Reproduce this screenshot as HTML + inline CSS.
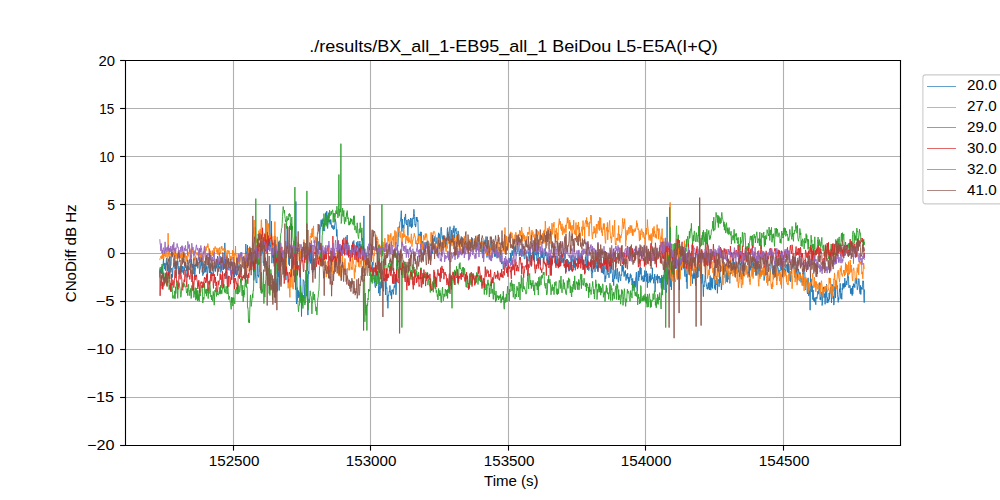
<!DOCTYPE html>
<html><head><meta charset="utf-8"><style>
html,body{margin:0;padding:0;background:#fff;width:1000px;height:500px;overflow:hidden}
svg{display:block}
text{font-family:'Liberation Sans',sans-serif;fill:#000}
</style></head><body>
<svg width="1000" height="500" viewBox="0 0 1000 500">
<rect width="1000" height="500" fill="#fff"/>
<g stroke="#b0b0b0" stroke-width="1.11" fill="none"><line x1="233.5" y1="60" x2="233.5" y2="445" /><line x1="370.5" y1="60" x2="370.5" y2="445" /><line x1="508.5" y1="60" x2="508.5" y2="445" /><line x1="645.5" y1="60" x2="645.5" y2="445" /><line x1="783.5" y1="60" x2="783.5" y2="445" /><line x1="125" y1="60.5" x2="900" y2="60.5" /><line x1="125" y1="108.5" x2="900" y2="108.5" /><line x1="125" y1="156.5" x2="900" y2="156.5" /><line x1="125" y1="204.5" x2="900" y2="204.5" /><line x1="125" y1="253.5" x2="900" y2="253.5" /><line x1="125" y1="301.5" x2="900" y2="301.5" /><line x1="125" y1="349.5" x2="900" y2="349.5" /><line x1="125" y1="397.5" x2="900" y2="397.5" /><line x1="125" y1="445.5" x2="900" y2="445.5" /></g>
<defs><clipPath id="ax"><rect x="125" y="60" width="775" height="385"/></clipPath></defs>
<g fill="none" stroke-width="0.9" stroke-linejoin="round" stroke-linecap="butt" clip-path="url(#ax)">
<path d="M159.8 271.5 L160.1 268.5 L160.5 272.7 L160.8 269.3 L161.1 273.4 L161.5 267.3 L161.8 274.3 L162.1 266.0 L162.5 268.5 L162.8 273.8 L163.1 263.9 L163.5 258.6 L163.8 265.5 L164.1 263.1 L164.5 269.0 L164.8 269.1 L165.1 263.2 L165.5 270.6 L165.8 266.0 L166.1 263.3 L166.5 258.0 L166.8 264.9 L167.1 262.5 L167.5 270.9 L167.8 270.0 L168.1 264.5 L168.5 270.5 L168.8 274.0 L169.1 263.2 L169.5 256.4 L169.8 257.8 L170.1 256.4 L170.5 265.5 L170.8 272.4 L171.1 270.8 L171.5 269.0 L171.8 268.0 L172.1 269.2 L172.5 277.5 L172.8 270.8 L173.1 266.9 L173.5 266.9 L173.8 263.2 L174.1 262.6 L174.5 263.6 L174.8 268.7 L175.1 269.3 L175.5 262.0 L175.8 268.5 L176.1 261.4 L176.5 265.5 L176.8 268.8 L177.1 266.2 L177.5 265.6 L177.8 261.1 L178.1 265.5 L178.5 266.0 L178.8 274.1 L179.1 268.1 L179.5 267.9 L179.8 269.7 L180.1 266.0 L180.5 272.5 L180.8 268.4 L181.1 270.0 L181.5 271.8 L181.8 265.8 L182.1 268.8 L182.5 266.3 L182.8 272.5 L183.1 270.1 L183.5 274.4 L183.8 266.5 L184.1 267.6 L184.5 270.5 L184.8 267.7 L185.1 261.5 L185.5 266.2 L185.8 265.4 L186.1 266.4 L186.5 270.5 L186.8 268.8 L187.1 277.5 L187.5 265.7 L187.8 269.4 L188.1 266.2 L188.5 269.7 L188.8 266.9 L189.1 262.4 L189.5 259.3 L189.8 263.0 L190.1 263.2 L190.5 260.6 L190.8 258.0 L191.1 259.9 L191.5 263.7 L191.8 263.5 L192.2 268.0 L192.5 267.5 L192.8 264.0 L193.2 270.7 L193.5 272.7 L193.8 274.1 L194.2 264.8 L194.5 271.3 L194.8 277.5 L195.2 272.2 L195.5 267.5 L195.8 264.7 L196.2 266.5 L196.5 258.5 L196.8 257.7 L197.2 266.3 L197.5 264.1 L197.8 259.6 L198.2 259.3 L198.5 257.2 L198.8 257.0 L199.2 260.3 L199.5 273.7 L199.8 269.5 L200.2 269.5 L200.5 267.1 L200.8 261.6 L201.2 260.1 L201.5 263.9 L201.8 265.7 L202.2 257.9 L202.5 268.5 L202.8 275.6 L203.2 272.7 L203.5 273.7 L203.8 267.7 L204.2 263.9 L204.5 270.3 L204.8 272.7 L205.2 269.0 L205.5 268.3 L205.8 272.0 L206.2 265.4 L206.5 269.3 L206.8 266.7 L207.2 277.9 L207.5 275.6 L207.8 269.9 L208.2 264.2 L208.5 265.3 L208.8 266.7 L209.2 269.8 L209.5 273.0 L209.8 267.6 L210.2 263.2 L210.5 273.5 L210.8 270.3 L211.2 266.1 L211.5 266.1 L211.8 264.3 L212.2 267.4 L212.5 266.2 L212.8 271.1 L213.2 273.7 L213.5 276.0 L213.8 267.7 L214.2 265.8 L214.5 266.0 L214.8 269.4 L215.2 271.3 L215.5 270.2 L215.8 266.1 L216.2 262.1 L216.5 268.2 L216.8 266.9 L217.2 263.3 L217.5 256.1 L217.8 259.9 L218.2 261.1 L218.5 267.5 L218.8 264.5 L219.2 261.2 L219.5 264.8 L219.8 260.8 L220.2 262.8 L220.5 256.5 L220.8 272.6 L221.2 266.5 L221.5 262.9 L221.8 270.6 L222.2 257.5 L222.5 262.1 L222.8 264.9 L223.2 269.8 L223.5 265.5 L223.8 266.0 L224.2 268.9 L224.5 265.7 L224.8 242.9 L225.2 260.1 L225.5 262.5 L225.8 268.3 L226.2 270.3 L226.5 277.3 L226.8 278.7 L227.2 269.0 L227.5 267.5 L227.8 268.4 L228.2 270.1 L228.5 258.9 L228.8 262.0 L229.2 261.9 L229.5 264.0 L229.8 265.3 L230.2 261.8 L230.5 264.9 L230.8 273.2 L231.2 270.0 L231.5 275.5 L231.8 271.1 L232.2 271.2 L232.5 268.1 L232.8 265.8 L233.2 262.3 L233.5 272.6 L233.8 273.5 L234.2 268.9 L234.5 277.1 L234.8 264.6 L235.2 271.1 L235.5 266.7 L235.8 272.8 L236.2 270.5 L236.5 275.6 L236.8 270.4 L237.2 259.5 L237.5 262.6 L237.8 257.6 L238.2 264.4 L238.5 270.6 L238.8 268.8 L239.2 266.8 L239.5 264.6 L239.8 262.0 L240.2 260.0 L240.5 255.8 L240.8 252.8 L241.2 252.2 L241.5 258.9 L241.8 258.9 L242.2 264.2 L242.5 261.6 L242.8 260.5 L243.2 257.1 L243.5 260.8 L243.8 258.6 L244.2 261.3 L244.5 268.1 L244.8 259.3 L245.2 268.6 L245.5 254.1 L245.8 244.0 L246.2 250.4 L246.5 251.5 L246.8 257.1 L247.2 261.1 L247.5 245.3 L247.8 254.4 L248.2 257.6 L248.5 265.7 L248.8 261.1 L249.2 262.8 L249.5 256.8 L249.8 253.6 L250.2 256.0 L250.5 262.4 L250.8 259.9 L251.2 248.0 L251.5 264.1 L251.8 262.6 L252.2 256.7 L252.5 264.0 L252.8 261.2 L253.2 265.7 L253.5 252.7 L253.8 280.4 L254.2 275.7 L254.5 263.8 L254.8 266.3 L255.2 263.2 L255.5 275.0 L255.8 279.7 L256.2 282.7 L256.5 282.2 L256.9 283.0 L257.2 259.2 L257.5 265.9 L257.9 276.0 L258.2 275.1 L258.5 277.3 L258.9 273.7 L259.2 262.1 L259.5 264.2 L259.9 243.7 L260.2 247.0 L260.5 252.1 L260.9 249.9 L261.2 236.8 L261.5 244.7 L261.9 246.8 L262.2 252.8 L262.5 244.1 L262.9 247.9 L263.2 262.6 L263.5 261.6 L263.9 265.9 L264.2 260.2 L264.5 251.1 L264.9 267.6 L265.2 235.0 L265.5 251.3 L265.9 219.0 L266.2 236.6 L266.5 238.4 L266.9 234.7 L267.2 235.8 L267.5 235.0 L267.9 249.1 L268.2 240.5 L268.5 245.8 L268.9 241.3 L269.2 245.8 L269.5 246.0 L269.9 204.4 L270.2 246.9 L270.5 247.1 L270.9 244.4 L271.2 242.8 L271.5 221.1 L271.9 263.2 L272.2 248.3 L272.5 248.0 L272.9 257.7 L273.2 255.2 L273.5 254.8 L273.9 263.3 L274.2 260.2 L274.5 260.9 L274.9 235.9 L275.2 293.1 L275.5 248.7 L275.9 274.5 L276.2 292.4 L276.5 287.4 L276.9 280.7 L277.2 278.7 L277.5 291.3 L277.9 272.1 L278.2 276.9 L278.5 242.1 L278.9 267.1 L279.2 290.5 L279.5 253.2 L279.9 256.8 L280.2 265.5 L280.5 249.2 L280.9 266.4 L281.2 260.6 L281.5 254.1 L281.9 260.6 L282.2 260.5 L282.5 258.9 L282.9 264.8 L283.2 264.0 L283.5 257.5 L283.9 250.5 L284.2 254.7 L284.5 270.4 L284.9 272.6 L285.2 266.3 L285.5 268.8 L285.9 280.1 L286.2 257.7 L286.5 255.9 L286.9 241.6 L287.2 226.0 L287.5 239.4 L287.9 241.0 L288.2 249.8 L288.5 259.3 L288.9 264.6 L289.2 255.6 L289.5 266.0 L289.9 252.7 L290.2 252.8 L290.5 257.4 L290.9 254.3 L291.2 257.6 L291.5 255.4 L291.9 251.4 L292.2 261.2 L292.5 254.9 L292.9 267.8 L293.2 254.5 L293.5 258.5 L293.9 267.3 L294.2 272.0 L294.5 270.2 L294.9 277.5 L295.2 260.0 L295.5 289.7 L295.9 201.5 L296.2 297.0 L296.5 304.0 L296.9 299.1 L297.2 287.6 L297.5 296.0 L297.9 295.4 L298.2 298.0 L298.5 290.5 L298.9 296.6 L299.2 294.4 L299.5 296.6 L299.9 297.1 L300.2 273.0 L300.5 275.6 L300.9 286.8 L301.2 294.0 L301.5 316.5 L301.9 294.4 L302.2 297.8 L302.5 294.8 L302.9 293.1 L303.2 279.6 L303.5 280.7 L303.9 280.6 L304.2 281.8 L304.5 294.0 L304.9 298.5 L305.2 287.3 L305.5 283.4 L305.9 270.0 L306.2 275.7 L306.5 279.8 L306.9 288.4 L307.2 274.4 L307.5 279.1 L307.9 315.1 L308.2 279.3 L308.5 271.2 L308.9 273.9 L309.2 257.2 L309.5 259.1 L309.9 261.4 L310.2 248.0 L310.5 263.4 L310.9 259.4 L311.2 261.1 L311.5 254.9 L311.9 251.2 L312.2 265.1 L312.5 272.8 L312.9 269.2 L313.2 254.8 L313.5 270.3 L313.9 267.8 L314.2 269.9 L314.5 261.6 L314.9 260.1 L315.2 258.6 L315.5 257.7 L315.9 256.6 L316.2 248.8 L316.5 241.3 L316.9 249.1 L317.2 237.6 L317.5 240.0 L317.9 251.4 L318.2 254.0 L318.5 241.5 L318.9 242.9 L319.2 250.3 L319.5 244.5 L319.9 234.4 L320.2 228.6 L320.6 228.8 L320.9 221.9 L321.2 219.7 L321.6 226.5 L321.9 221.1 L322.2 220.5 L322.6 223.8 L322.9 218.6 L323.2 231.1 L323.6 223.3 L323.9 228.2 L324.2 230.4 L324.6 231.1 L324.9 220.3 L325.2 218.3 L325.6 212.7 L325.9 225.2 L326.2 222.3 L326.6 211.3 L326.9 211.2 L327.2 216.5 L327.6 228.5 L327.9 225.8 L328.2 222.6 L328.6 215.5 L328.9 212.6 L329.2 218.7 L329.6 222.2 L329.9 220.2 L330.2 224.4 L330.6 219.4 L330.9 219.7 L331.2 222.8 L331.6 227.4 L331.9 227.2 L332.2 225.2 L332.6 228.4 L332.9 227.7 L333.2 228.9 L333.6 229.6 L333.9 225.5 L334.2 229.1 L334.6 225.4 L334.9 224.1 L335.2 219.2 L335.6 221.1 L335.9 222.1 L336.2 226.1 L336.6 236.3 L336.9 229.4 L337.2 234.9 L337.6 245.3 L337.9 248.9 L338.2 242.2 L338.6 247.8 L338.9 246.0 L339.2 246.2 L339.6 252.8 L339.9 252.4 L340.2 254.5 L340.6 251.4 L340.9 251.2 L341.2 245.3 L341.6 250.0 L341.9 256.0 L342.2 255.7 L342.6 250.3 L342.9 246.7 L343.2 250.1 L343.6 251.7 L343.9 253.6 L344.2 243.7 L344.6 250.7 L344.9 246.0 L345.2 247.3 L345.6 243.7 L345.9 236.8 L346.2 249.1 L346.6 243.0 L346.9 243.3 L347.2 235.0 L347.6 244.5 L347.9 242.6 L348.2 245.0 L348.6 247.7 L348.9 252.1 L349.2 251.1 L349.6 250.3 L349.9 253.0 L350.2 250.1 L350.6 253.1 L350.9 251.7 L351.2 253.4 L351.6 251.9 L351.9 251.7 L352.2 254.3 L352.6 247.6 L352.9 241.6 L353.2 244.1 L353.6 241.6 L353.9 240.5 L354.2 248.6 L354.6 251.4 L354.9 252.1 L355.2 254.8 L355.6 253.2 L355.9 245.9 L356.2 250.1 L356.6 242.3 L356.9 244.1 L357.2 245.2 L357.6 247.8 L357.9 241.1 L358.2 245.2 L358.6 252.0 L358.9 254.2 L359.2 243.9 L359.6 246.2 L359.9 241.0 L360.2 253.4 L360.6 248.9 L360.9 244.3 L361.2 247.7 L361.6 246.3 L361.9 251.0 L362.2 241.2 L362.6 238.0 L362.9 245.2 L363.2 249.6 L363.6 252.6 L363.9 215.9 L364.2 261.4 L364.6 254.0 L364.9 248.7 L365.2 254.4 L365.6 257.3 L365.9 254.6 L366.2 252.7 L366.6 259.7 L366.9 265.3 L367.2 266.4 L367.6 272.8 L367.9 270.3 L368.2 265.4 L368.6 266.4 L368.9 260.8 L369.2 253.7 L369.6 257.1 L369.9 276.0 L370.2 261.9 L370.6 264.7 L370.9 264.4 L371.2 265.6 L371.6 266.8 L371.9 271.7 L372.2 266.1 L372.6 262.0 L372.9 270.6 L373.2 272.7 L373.6 268.2 L373.9 274.3 L374.2 282.6 L374.6 281.4 L374.9 284.7 L375.2 287.2 L375.6 287.8 L375.9 280.3 L376.2 275.1 L376.6 271.5 L376.9 276.2 L377.2 273.5 L377.6 271.5 L377.9 275.2 L378.2 274.4 L378.6 293.2 L378.9 291.9 L379.2 287.5 L379.6 286.2 L379.9 296.0 L380.2 290.5 L380.6 286.7 L380.9 281.7 L381.2 288.3 L381.6 276.6 L381.9 287.3 L382.2 280.1 L382.6 286.0 L382.9 286.1 L383.2 289.8 L383.6 291.3 L383.9 282.0 L384.3 280.8 L384.6 277.9 L384.9 279.2 L385.3 281.0 L385.6 295.0 L385.9 276.8 L386.3 287.1 L386.6 288.6 L386.9 287.6 L387.3 300.7 L387.6 295.7 L387.9 308.3 L388.3 295.2 L388.6 295.9 L388.9 293.6 L389.3 291.0 L389.6 292.1 L389.9 285.5 L390.3 290.7 L390.6 292.0 L390.9 295.4 L391.3 292.0 L391.6 299.1 L391.9 289.8 L392.3 291.6 L392.6 290.7 L392.9 289.5 L393.3 294.4 L393.6 291.3 L393.9 288.0 L394.3 285.6 L394.6 287.5 L394.9 284.6 L395.3 278.2 L395.6 284.3 L395.9 294.8 L396.3 290.7 L396.6 272.3 L396.9 263.5 L397.3 265.6 L397.6 244.8 L397.9 246.3 L398.3 237.7 L398.6 232.1 L398.9 230.7 L399.3 226.5 L399.6 227.4 L399.9 221.7 L400.3 221.5 L400.6 220.2 L400.9 216.3 L401.3 210.7 L401.6 220.9 L401.9 231.6 L402.3 219.0 L402.6 228.1 L402.9 227.2 L403.3 224.9 L403.6 227.2 L403.9 228.5 L404.3 223.1 L404.6 217.3 L404.9 220.3 L405.3 215.4 L405.6 213.9 L405.9 223.9 L406.3 224.1 L406.6 225.1 L406.9 220.0 L407.3 223.6 L407.6 225.4 L407.9 235.4 L408.3 219.2 L408.6 220.0 L408.9 219.9 L409.3 220.3 L409.6 224.8 L409.9 226.7 L410.3 219.9 L410.6 218.0 L410.9 226.4 L411.3 224.2 L411.6 228.1 L411.9 218.6 L412.3 226.7 L412.6 226.0 L412.9 217.8 L413.3 219.0 L413.6 213.9 L413.9 209.3 L414.3 213.8 L414.6 216.6 L414.9 225.2 L415.3 224.2 L415.6 227.1 L415.9 225.7 L416.3 217.0 L416.6 220.6 L416.9 217.0 L417.3 218.7 L417.6 221.8 L417.9 220.2 L418.3 235.5 L418.6 240.8 L418.9 234.2 L419.3 234.8 L419.6 234.3 L419.9 236.0 L420.3 231.8 L420.6 232.7 L420.9 237.9 L421.3 231.9 L421.6 246.2 L421.9 245.9 L422.3 243.3 L422.6 241.1 L422.9 244.1 L423.3 255.9 L423.6 252.4 L423.9 242.3 L424.3 244.0 L424.6 246.6 L424.9 251.9 L425.3 247.3 L425.6 245.0 L425.9 242.0 L426.3 242.1 L426.6 245.6 L426.9 241.8 L427.3 242.1 L427.6 242.4 L427.9 241.7 L428.3 249.3 L428.6 248.0 L428.9 246.2 L429.3 245.4 L429.6 244.2 L429.9 243.6 L430.3 246.3 L430.6 244.4 L430.9 243.5 L431.3 243.9 L431.6 246.4 L431.9 241.3 L432.3 245.8 L432.6 253.6 L432.9 244.6 L433.3 247.2 L433.6 238.5 L433.9 239.6 L434.3 241.5 L434.6 237.5 L434.9 236.3 L435.3 240.9 L435.6 243.2 L435.9 241.2 L436.3 243.7 L436.6 242.5 L436.9 237.5 L437.3 240.3 L437.6 244.5 L437.9 244.1 L438.3 235.2 L438.6 232.8 L438.9 241.8 L439.3 233.7 L439.6 236.0 L439.9 238.2 L440.3 247.1 L440.6 240.6 L440.9 228.1 L441.3 227.2 L441.6 231.8 L441.9 235.8 L442.3 238.3 L442.6 239.5 L442.9 235.7 L443.3 240.2 L443.6 236.0 L443.9 237.6 L444.3 235.8 L444.6 243.1 L444.9 238.2 L445.3 239.7 L445.6 238.7 L445.9 239.9 L446.3 245.2 L446.6 246.0 L446.9 242.2 L447.3 229.4 L447.6 227.6 L447.9 232.0 L448.3 235.6 L448.6 234.0 L449.0 241.1 L449.3 231.1 L449.6 230.8 L450.0 226.6 L450.3 235.0 L450.6 245.2 L451.0 242.4 L451.3 242.1 L451.6 230.1 L452.0 232.7 L452.3 236.9 L452.6 235.4 L453.0 229.6 L453.3 227.9 L453.6 232.6 L454.0 225.7 L454.3 233.3 L454.6 238.9 L455.0 232.2 L455.3 229.2 L455.6 231.0 L456.0 228.0 L456.3 231.9 L456.6 234.1 L457.0 234.7 L457.3 238.6 L457.6 244.0 L458.0 230.9 L458.3 231.5 L458.6 239.7 L459.0 244.1 L459.3 240.1 L459.6 244.2 L460.0 242.2 L460.3 240.0 L460.6 244.2 L461.0 237.5 L461.3 236.4 L461.6 239.5 L462.0 244.3 L462.3 237.4 L462.6 247.1 L463.0 240.8 L463.3 244.1 L463.6 238.5 L464.0 248.0 L464.3 249.1 L464.6 242.3 L465.0 246.6 L465.3 240.9 L465.6 248.0 L466.0 248.2 L466.3 246.8 L466.6 244.3 L467.0 242.6 L467.3 244.1 L467.6 245.4 L468.0 246.7 L468.3 242.0 L468.6 247.8 L469.0 247.1 L469.3 249.8 L469.6 248.3 L470.0 248.2 L470.3 242.0 L470.6 244.3 L471.0 247.8 L471.3 246.0 L471.6 237.3 L472.0 240.6 L472.3 238.4 L472.6 245.2 L473.0 251.4 L473.3 248.3 L473.6 247.4 L474.0 249.5 L474.3 239.6 L474.6 238.7 L475.0 239.6 L475.3 241.3 L475.6 248.1 L476.0 244.5 L476.3 252.1 L476.6 242.1 L477.0 246.2 L477.3 246.5 L477.6 247.9 L478.0 241.7 L478.3 242.3 L478.6 242.0 L479.0 239.8 L479.3 248.1 L479.6 248.3 L480.0 251.5 L480.3 242.8 L480.6 248.9 L481.0 252.1 L481.3 249.0 L481.6 244.8 L482.0 242.7 L482.3 248.2 L482.6 253.3 L483.0 252.4 L483.3 257.1 L483.6 249.3 L484.0 246.6 L484.3 243.0 L484.6 243.5 L485.0 239.8 L485.3 241.3 L485.6 244.1 L486.0 236.5 L486.3 242.4 L486.6 250.5 L487.0 257.5 L487.3 252.8 L487.6 248.8 L488.0 254.9 L488.3 253.2 L488.6 254.0 L489.0 256.6 L489.3 257.7 L489.6 251.2 L490.0 251.7 L490.3 245.2 L490.6 243.4 L491.0 239.4 L491.3 236.7 L491.6 239.2 L492.0 248.3 L492.3 247.0 L492.6 247.4 L493.0 245.2 L493.3 250.9 L493.6 244.0 L494.0 243.0 L494.3 256.6 L494.6 256.1 L495.0 253.2 L495.3 256.7 L495.6 247.5 L496.0 251.2 L496.3 244.6 L496.6 246.5 L497.0 258.2 L497.3 250.4 L497.6 248.3 L498.0 250.7 L498.3 247.0 L498.6 249.6 L499.0 246.9 L499.3 248.5 L499.6 251.7 L500.0 260.1 L500.3 261.0 L500.6 262.0 L501.0 254.0 L501.3 260.1 L501.6 264.1 L502.0 263.4 L502.3 261.6 L502.6 263.4 L503.0 264.2 L503.3 269.5 L503.6 267.0 L504.0 261.1 L504.3 263.5 L504.6 263.2 L505.0 263.0 L505.3 263.9 L505.6 261.4 L506.0 264.8 L506.3 266.0 L506.6 262.7 L507.0 261.3 L507.3 271.9 L507.6 267.7 L508.0 266.5 L508.3 266.6 L508.6 258.5 L509.0 258.6 L509.3 262.7 L509.6 260.6 L510.0 258.3 L510.3 260.8 L510.6 252.9 L511.0 264.0 L511.3 263.4 L511.6 254.3 L512.0 250.3 L512.3 250.5 L512.7 255.7 L513.0 252.0 L513.3 252.6 L513.7 246.1 L514.0 248.3 L514.3 247.3 L514.7 251.4 L515.0 251.1 L515.3 245.7 L515.7 252.4 L516.0 255.3 L516.3 255.8 L516.7 252.2 L517.0 251.8 L517.3 245.0 L517.7 242.8 L518.0 245.5 L518.3 249.2 L518.7 250.2 L519.0 252.0 L519.3 256.2 L519.7 251.3 L520.0 251.9 L520.3 249.4 L520.7 254.0 L521.0 248.9 L521.3 256.2 L521.7 256.7 L522.0 244.5 L522.3 247.9 L522.7 254.4 L523.0 256.3 L523.3 255.8 L523.7 251.3 L524.0 255.1 L524.3 259.0 L524.7 258.8 L525.0 258.8 L525.3 252.6 L525.7 252.8 L526.0 254.2 L526.3 254.7 L526.7 260.8 L527.0 266.9 L527.3 263.4 L527.7 259.3 L528.0 261.2 L528.3 256.1 L528.7 251.9 L529.0 253.1 L529.3 248.8 L529.7 256.2 L530.0 246.7 L530.3 251.0 L530.7 256.8 L531.0 264.6 L531.3 266.6 L531.7 257.2 L532.0 257.9 L532.3 251.7 L532.7 252.7 L533.0 252.9 L533.3 251.2 L533.7 259.8 L534.0 257.3 L534.3 261.8 L534.7 251.0 L535.0 251.6 L535.3 252.3 L535.7 255.2 L536.0 253.9 L536.3 250.3 L536.7 256.1 L537.0 261.0 L537.3 250.8 L537.7 248.6 L538.0 254.3 L538.3 251.9 L538.7 257.7 L539.0 260.4 L539.3 257.0 L539.7 257.9 L540.0 258.8 L540.3 265.3 L540.7 255.6 L541.0 253.3 L541.3 250.9 L541.7 257.6 L542.0 250.9 L542.3 257.8 L542.7 251.3 L543.0 253.8 L543.3 258.7 L543.7 262.4 L544.0 259.6 L544.3 256.3 L544.7 256.4 L545.0 248.1 L545.3 248.2 L545.7 256.0 L546.0 252.0 L546.3 257.3 L546.7 258.9 L547.0 260.5 L547.3 260.4 L547.7 256.7 L548.0 262.7 L548.3 257.6 L548.7 265.0 L549.0 253.4 L549.3 264.0 L549.7 256.2 L550.0 263.6 L550.3 264.4 L550.7 263.3 L551.0 263.0 L551.3 255.6 L551.7 266.2 L552.0 263.7 L552.3 255.9 L552.7 258.1 L553.0 255.7 L553.3 257.2 L553.7 255.6 L554.0 257.0 L554.3 253.8 L554.7 254.1 L555.0 249.4 L555.3 263.5 L555.7 256.0 L556.0 260.4 L556.3 265.2 L556.7 259.2 L557.0 256.1 L557.3 257.0 L557.7 257.0 L558.0 265.8 L558.3 267.2 L558.7 263.3 L559.0 264.6 L559.3 262.5 L559.7 262.6 L560.0 263.2 L560.3 256.3 L560.7 255.3 L561.0 263.4 L561.3 262.3 L561.7 259.3 L562.0 256.9 L562.3 258.7 L562.7 262.7 L563.0 263.1 L563.3 261.8 L563.7 258.5 L564.0 260.1 L564.3 253.4 L564.7 254.2 L565.0 260.8 L565.3 264.7 L565.7 268.2 L566.0 272.1 L566.3 267.2 L566.7 262.5 L567.0 259.1 L567.3 259.8 L567.7 263.5 L568.0 264.8 L568.3 260.5 L568.7 268.7 L569.0 271.3 L569.3 262.8 L569.7 261.9 L570.0 270.1 L570.3 269.6 L570.7 263.7 L571.0 258.9 L571.3 255.4 L571.7 265.7 L572.0 261.0 L572.3 261.3 L572.7 258.8 L573.0 255.0 L573.3 258.6 L573.7 262.5 L574.0 265.2 L574.3 267.8 L574.7 259.2 L575.0 256.4 L575.3 270.3 L575.7 260.4 L576.0 260.3 L576.4 258.0 L576.7 258.3 L577.0 260.4 L577.4 257.9 L577.7 260.3 L578.0 264.0 L578.4 251.5 L578.7 251.6 L579.0 257.2 L579.4 264.0 L579.7 260.5 L580.0 263.1 L580.4 261.5 L580.7 254.7 L581.0 253.8 L581.4 253.3 L581.7 258.3 L582.0 262.3 L582.4 256.3 L582.7 264.4 L583.0 262.7 L583.4 269.2 L583.7 259.8 L584.0 266.9 L584.4 268.0 L584.7 266.9 L585.0 273.2 L585.4 257.1 L585.7 260.7 L586.0 255.6 L586.4 260.8 L586.7 267.2 L587.0 264.6 L587.4 266.4 L587.7 252.7 L588.0 263.7 L588.4 267.6 L588.7 270.7 L589.0 269.8 L589.4 267.1 L589.7 266.8 L590.0 267.0 L590.4 267.0 L590.7 260.3 L591.0 264.6 L591.4 272.4 L591.7 274.7 L592.0 278.1 L592.4 270.4 L592.7 272.5 L593.0 267.5 L593.4 258.8 L593.7 264.3 L594.0 267.9 L594.4 264.7 L594.7 263.2 L595.0 271.9 L595.4 262.8 L595.7 264.2 L596.0 261.7 L596.4 264.7 L596.7 268.5 L597.0 268.3 L597.4 265.9 L597.7 269.8 L598.0 272.0 L598.4 268.7 L598.7 265.2 L599.0 267.9 L599.4 260.8 L599.7 259.1 L600.0 264.4 L600.4 257.8 L600.7 257.9 L601.0 254.7 L601.4 256.7 L601.7 267.1 L602.0 267.5 L602.4 273.0 L602.7 272.2 L603.0 263.9 L603.4 274.2 L603.7 269.7 L604.0 262.0 L604.4 269.0 L604.7 272.1 L605.0 282.1 L605.4 275.7 L605.7 278.9 L606.0 276.5 L606.4 265.0 L606.7 260.5 L607.0 269.8 L607.4 266.4 L607.7 274.7 L608.0 274.3 L608.4 273.5 L608.7 272.9 L609.0 277.8 L609.4 267.9 L609.7 260.0 L610.0 262.2 L610.4 261.8 L610.7 273.5 L611.0 268.3 L611.4 268.8 L611.7 264.3 L612.0 272.0 L612.4 273.5 L612.7 282.0 L613.0 279.4 L613.4 279.1 L613.7 285.6 L614.0 269.8 L614.4 278.8 L614.7 275.7 L615.0 276.0 L615.4 274.0 L615.7 268.6 L616.0 278.1 L616.4 279.2 L616.7 278.9 L617.0 269.9 L617.4 268.3 L617.7 272.7 L618.0 280.1 L618.4 282.3 L618.7 276.5 L619.0 272.2 L619.4 271.6 L619.7 276.4 L620.0 278.2 L620.4 280.9 L620.7 280.6 L621.0 274.5 L621.4 275.7 L621.7 275.2 L622.0 265.4 L622.4 271.4 L622.7 265.1 L623.0 269.1 L623.4 266.6 L623.7 273.2 L624.0 276.6 L624.4 276.2 L624.7 271.7 L625.0 273.7 L625.4 270.4 L625.7 276.1 L626.0 280.5 L626.4 277.5 L626.7 274.3 L627.0 278.1 L627.4 276.8 L627.7 273.1 L628.0 279.2 L628.4 277.2 L628.7 283.4 L629.0 277.1 L629.4 281.9 L629.7 281.1 L630.0 275.5 L630.4 273.7 L630.7 277.7 L631.0 274.8 L631.4 279.8 L631.7 279.2 L632.0 285.0 L632.4 282.5 L632.7 278.3 L633.0 290.8 L633.4 283.7 L633.7 282.0 L634.0 280.9 L634.4 286.4 L634.7 281.1 L635.0 286.8 L635.4 287.3 L635.7 277.3 L636.0 276.9 L636.4 272.1 L636.7 286.1 L637.0 289.7 L637.4 290.9 L637.7 280.4 L638.0 273.6 L638.4 270.9 L638.7 280.8 L639.0 276.5 L639.4 277.0 L639.7 268.0 L640.0 268.3 L640.4 266.9 L640.7 274.4 L641.1 267.9 L641.4 279.8 L641.7 280.3 L642.1 275.8 L642.4 278.8 L642.7 277.5 L643.1 281.7 L643.4 282.0 L643.7 277.4 L644.1 275.1 L644.4 281.4 L644.7 270.5 L645.1 273.9 L645.4 276.9 L645.7 275.8 L646.1 273.0 L646.4 270.9 L646.7 281.6 L647.1 277.0 L647.4 287.6 L647.7 273.5 L648.1 282.8 L648.4 282.7 L648.7 282.9 L649.1 281.5 L649.4 276.0 L649.7 281.4 L650.1 273.5 L650.4 282.5 L650.7 275.4 L651.1 275.0 L651.4 280.3 L651.7 279.2 L652.1 277.7 L652.4 267.8 L652.7 278.9 L653.1 277.4 L653.4 278.5 L653.7 283.3 L654.1 281.2 L654.4 278.3 L654.7 274.0 L655.1 292.1 L655.4 283.0 L655.7 281.6 L656.1 275.9 L656.4 278.6 L656.7 280.1 L657.1 276.8 L657.4 274.4 L657.7 283.3 L658.1 277.5 L658.4 276.2 L658.7 278.6 L659.1 276.5 L659.4 276.2 L659.7 280.7 L660.1 283.0 L660.4 278.1 L660.7 278.6 L661.1 285.2 L661.4 288.5 L661.7 275.2 L662.1 283.0 L662.4 277.2 L662.7 279.7 L663.1 276.9 L663.4 283.8 L663.7 288.9 L664.1 289.9 L664.4 272.5 L664.7 270.6 L665.1 265.8 L665.4 279.4 L665.7 286.3 L666.1 292.6 L666.4 292.5 L666.7 287.3 L667.1 216.9 L667.4 284.5 L667.7 281.3 L668.1 269.5 L668.4 274.5 L668.7 271.6 L669.1 279.4 L669.4 277.3 L669.7 269.9 L670.1 280.9 L670.4 286.7 L670.7 275.7 L671.1 261.7 L671.4 290.0 L671.7 282.3 L672.1 274.3 L672.4 269.3 L672.7 268.2 L673.1 265.2 L673.4 274.6 L673.7 268.8 L674.1 274.1 L674.4 274.8 L674.7 263.7 L675.1 254.1 L675.4 268.7 L675.7 266.7 L676.1 266.4 L676.4 268.4 L676.7 258.7 L677.1 264.4 L677.4 277.9 L677.7 278.1 L678.1 277.1 L678.4 276.2 L678.7 279.1 L679.1 269.7 L679.4 290.1 L679.7 261.2 L680.1 265.0 L680.4 265.8 L680.7 262.4 L681.1 261.1 L681.4 266.8 L681.7 270.2 L682.1 258.8 L682.4 266.9 L682.7 249.6 L683.1 257.1 L683.4 268.6 L683.7 265.8 L684.1 261.6 L684.4 270.0 L684.7 275.0 L685.1 276.7 L685.4 267.2 L685.7 266.6 L686.1 269.9 L686.4 282.0 L686.7 274.0 L687.1 288.7 L687.4 265.0 L687.7 260.1 L688.1 268.1 L688.4 265.6 L688.7 268.3 L689.1 271.4 L689.4 265.7 L689.7 265.7 L690.1 265.4 L690.4 265.8 L690.7 264.5 L691.1 264.8 L691.4 275.4 L691.7 276.2 L692.1 275.2 L692.4 283.7 L692.7 278.5 L693.1 273.5 L693.4 278.5 L693.7 272.9 L694.1 268.6 L694.4 278.5 L694.7 273.5 L695.1 274.6 L695.4 282.3 L695.7 285.7 L696.1 271.7 L696.4 273.1 L696.7 275.7 L697.1 277.9 L697.4 269.0 L697.7 274.5 L698.1 277.2 L698.4 266.8 L698.7 263.8 L699.1 271.1 L699.4 262.4 L699.7 261.1 L700.1 269.2 L700.4 276.9 L700.7 267.0 L701.1 278.8 L701.4 273.4 L701.7 283.7 L702.1 282.5 L702.4 278.9 L702.7 274.1 L703.1 288.1 L703.4 296.6 L703.7 284.8 L704.1 286.8 L704.4 281.4 L704.8 281.8 L705.1 275.2 L705.4 275.5 L705.8 281.8 L706.1 283.0 L706.4 286.4 L706.8 284.7 L707.1 289.1 L707.4 287.0 L707.8 289.4 L708.1 283.7 L708.4 282.8 L708.8 288.4 L709.1 282.4 L709.4 290.0 L709.8 288.3 L710.1 275.5 L710.4 282.2 L710.8 290.2 L711.1 277.5 L711.4 281.9 L711.8 287.4 L712.1 278.1 L712.4 288.5 L712.8 279.5 L713.1 278.9 L713.4 278.8 L713.8 275.8 L714.1 267.8 L714.4 288.5 L714.8 286.0 L715.1 285.1 L715.4 290.1 L715.8 280.0 L716.1 285.0 L716.4 276.3 L716.8 279.4 L717.1 278.4 L717.4 293.3 L717.8 283.8 L718.1 280.6 L718.4 279.4 L718.8 281.4 L719.1 286.7 L719.4 284.3 L719.8 269.7 L720.1 283.0 L720.4 276.9 L720.8 283.0 L721.1 283.5 L721.4 289.9 L721.8 284.7 L722.1 280.2 L722.4 274.8 L722.8 274.4 L723.1 271.8 L723.4 266.1 L723.8 274.4 L724.1 270.5 L724.4 273.6 L724.8 274.2 L725.1 277.8 L725.4 274.9 L725.8 275.1 L726.1 281.8 L726.4 277.8 L726.8 270.4 L727.1 280.1 L727.4 282.3 L727.8 271.3 L728.1 272.1 L728.4 277.3 L728.8 279.4 L729.1 277.9 L729.4 278.7 L729.8 283.3 L730.1 272.7 L730.4 274.3 L730.8 272.1 L731.1 273.8 L731.4 268.4 L731.8 264.1 L732.1 259.7 L732.4 259.0 L732.8 261.4 L733.1 269.4 L733.4 263.2 L733.8 271.8 L734.1 272.8 L734.4 262.2 L734.8 266.4 L735.1 270.4 L735.4 265.7 L735.8 267.5 L736.1 262.7 L736.4 271.8 L736.8 270.7 L737.1 271.9 L737.4 273.5 L737.8 272.8 L738.1 270.0 L738.4 272.1 L738.8 266.2 L739.1 254.8 L739.4 263.3 L739.8 257.3 L740.1 264.9 L740.4 263.4 L740.8 266.8 L741.1 277.9 L741.4 279.4 L741.8 278.2 L742.1 272.6 L742.4 270.0 L742.8 264.6 L743.1 270.0 L743.4 263.2 L743.8 267.6 L744.1 266.5 L744.4 265.3 L744.8 271.7 L745.1 262.6 L745.4 268.5 L745.8 266.3 L746.1 267.0 L746.4 265.8 L746.8 268.6 L747.1 271.5 L747.4 273.6 L747.8 271.8 L748.1 273.6 L748.4 271.8 L748.8 273.3 L749.1 268.1 L749.4 266.3 L749.8 271.1 L750.1 267.6 L750.4 269.6 L750.8 265.8 L751.1 267.4 L751.4 263.8 L751.8 257.5 L752.1 258.1 L752.4 262.9 L752.8 274.7 L753.1 268.5 L753.4 263.5 L753.8 266.1 L754.1 269.5 L754.4 267.1 L754.8 267.8 L755.1 265.2 L755.4 269.4 L755.8 270.2 L756.1 262.4 L756.4 257.9 L756.8 275.5 L757.1 260.7 L757.4 267.7 L757.8 272.1 L758.1 274.2 L758.4 269.7 L758.8 268.0 L759.1 266.2 L759.4 276.9 L759.8 274.5 L760.1 274.8 L760.4 271.4 L760.8 275.4 L761.1 275.4 L761.4 275.4 L761.8 270.8 L762.1 270.4 L762.4 272.5 L762.8 271.7 L763.1 270.4 L763.4 271.4 L763.8 271.6 L764.1 280.5 L764.4 276.9 L764.8 276.6 L765.1 273.0 L765.4 267.4 L765.8 266.4 L766.1 261.9 L766.4 258.5 L766.8 259.7 L767.1 263.2 L767.4 271.4 L767.8 277.2 L768.1 280.7 L768.5 280.7 L768.8 280.7 L769.1 280.7 L769.5 280.7 L769.8 275.5 L770.1 274.9 L770.5 272.9 L770.8 267.4 L771.1 261.4 L771.5 262.4 L771.8 260.4 L772.1 268.4 L772.5 268.8 L772.8 274.3 L773.1 268.0 L773.5 266.2 L773.8 275.7 L774.1 277.9 L774.5 271.3 L774.8 264.7 L775.1 270.9 L775.5 257.0 L775.8 264.2 L776.1 268.8 L776.5 280.8 L776.8 277.4 L777.1 270.0 L777.5 263.5 L777.8 267.1 L778.1 267.7 L778.5 269.8 L778.8 274.3 L779.1 274.3 L779.5 271.7 L779.8 270.3 L780.1 271.3 L780.5 266.9 L780.8 259.2 L781.1 264.2 L781.5 269.9 L781.8 267.0 L782.1 266.6 L782.5 271.5 L782.8 274.2 L783.1 271.1 L783.5 272.3 L783.8 272.7 L784.1 267.9 L784.5 273.3 L784.8 269.6 L785.1 270.6 L785.5 271.8 L785.8 268.5 L786.1 266.4 L786.5 264.6 L786.8 266.7 L787.1 270.9 L787.5 272.1 L787.8 264.4 L788.1 263.8 L788.5 273.1 L788.8 264.0 L789.1 265.6 L789.5 277.1 L789.8 278.9 L790.1 271.0 L790.5 281.7 L790.8 280.2 L791.1 274.6 L791.5 271.7 L791.8 266.7 L792.1 264.0 L792.5 266.8 L792.8 266.3 L793.1 263.8 L793.5 259.7 L793.8 260.5 L794.1 263.9 L794.5 270.5 L794.8 277.5 L795.1 267.3 L795.5 269.8 L795.8 274.0 L796.1 274.6 L796.5 268.6 L796.8 268.5 L797.1 270.9 L797.5 280.3 L797.8 274.0 L798.1 273.7 L798.5 269.0 L798.8 271.7 L799.1 271.7 L799.5 274.2 L799.8 274.6 L800.1 272.5 L800.5 276.8 L800.8 279.9 L801.1 282.5 L801.5 277.9 L801.8 277.9 L802.1 280.3 L802.5 282.3 L802.8 283.2 L803.1 285.7 L803.5 280.7 L803.8 272.8 L804.1 268.1 L804.5 271.1 L804.8 272.4 L805.1 279.7 L805.5 289.7 L805.8 280.7 L806.1 281.1 L806.5 282.0 L806.8 279.5 L807.1 291.0 L807.5 294.0 L807.8 285.6 L808.1 277.8 L808.5 295.8 L808.8 295.8 L809.1 294.8 L809.5 292.9 L809.8 289.0 L810.1 310.2 L810.5 274.4 L810.8 282.7 L811.1 286.3 L811.5 279.3 L811.8 292.1 L812.1 285.7 L812.5 288.7 L812.8 299.6 L813.1 290.0 L813.5 297.2 L813.8 300.9 L814.1 298.2 L814.5 302.1 L814.8 298.6 L815.1 297.4 L815.5 302.7 L815.8 304.7 L816.1 297.0 L816.5 297.2 L816.8 298.8 L817.1 298.3 L817.5 293.7 L817.8 291.1 L818.1 294.3 L818.5 293.9 L818.8 289.7 L819.1 282.7 L819.5 282.7 L819.8 291.7 L820.1 299.6 L820.5 297.0 L820.8 300.2 L821.1 293.8 L821.5 292.8 L821.8 292.0 L822.1 305.5 L822.5 302.9 L822.8 293.6 L823.1 290.3 L823.5 286.9 L823.8 292.9 L824.1 297.7 L824.5 293.7 L824.8 295.2 L825.1 304.3 L825.5 295.4 L825.8 291.4 L826.1 297.5 L826.5 284.2 L826.8 292.7 L827.1 303.1 L827.5 297.5 L827.8 302.9 L828.1 301.9 L828.5 299.3 L828.8 301.1 L829.1 292.9 L829.5 299.3 L829.8 291.2 L830.1 289.8 L830.5 287.2 L830.8 293.0 L831.1 292.9 L831.5 302.8 L831.8 293.3 L832.1 289.7 L832.5 284.5 L832.8 291.1 L833.2 299.0 L833.5 296.4 L833.8 305.1 L834.2 301.9 L834.5 291.5 L834.8 286.4 L835.2 289.6 L835.5 298.1 L835.8 286.8 L836.2 284.6 L836.5 281.0 L836.8 286.9 L837.2 285.5 L837.5 294.8 L837.8 297.6 L838.2 302.4 L838.5 297.6 L838.8 299.5 L839.2 294.0 L839.5 288.8 L839.8 291.8 L840.2 283.3 L840.5 290.6 L840.8 298.5 L841.2 293.3 L841.5 297.3 L841.8 299.3 L842.2 287.8 L842.5 289.9 L842.8 283.5 L843.2 286.7 L843.5 283.6 L843.8 288.5 L844.2 283.3 L844.5 287.2 L844.8 278.1 L845.2 285.2 L845.5 286.7 L845.8 283.6 L846.2 281.8 L846.5 280.9 L846.8 285.1 L847.2 281.4 L847.5 276.7 L847.8 272.9 L848.2 277.5 L848.5 276.6 L848.8 287.5 L849.2 288.0 L849.5 285.3 L849.8 285.6 L850.2 285.5 L850.5 293.4 L850.8 288.9 L851.2 294.1 L851.5 288.1 L851.8 288.9 L852.2 295.6 L852.5 286.1 L852.8 294.2 L853.2 285.7 L853.5 283.7 L853.8 287.1 L854.2 284.5 L854.5 284.5 L854.8 287.7 L855.2 280.7 L855.5 278.6 L855.8 278.2 L856.2 283.7 L856.5 280.3 L856.8 278.3 L857.2 289.8 L857.5 289.7 L857.8 286.9 L858.2 285.6 L858.5 280.4 L858.8 278.6 L859.2 281.0 L859.5 290.8 L859.8 292.6 L860.2 293.9 L860.5 285.4 L860.8 294.5 L861.2 287.0 L861.5 289.1 L861.8 288.1 L862.2 289.5 L862.5 284.7 L862.8 280.8 L863.2 281.6 L863.5 280.9 L863.8 292.8 L864.2 302.6 L864.5 289.5" stroke="#1f77b4"/>
<path d="M159.8 260.1 L160.1 258.4 L160.5 257.5 L160.8 256.3 L161.1 257.4 L161.5 258.7 L161.8 255.5 L162.1 258.5 L162.5 252.9 L162.8 258.5 L163.1 255.9 L163.5 254.2 L163.8 258.7 L164.1 254.3 L164.5 256.0 L164.8 251.6 L165.1 250.7 L165.5 249.7 L165.8 257.2 L166.1 252.3 L166.5 254.0 L166.8 253.7 L167.1 257.9 L167.5 263.9 L167.8 256.1 L168.1 233.2 L168.5 254.9 L168.8 254.9 L169.1 256.9 L169.5 252.6 L169.8 254.0 L170.1 254.6 L170.5 253.1 L170.8 254.4 L171.1 256.3 L171.5 252.0 L171.8 251.0 L172.1 246.6 L172.5 246.2 L172.8 247.6 L173.1 247.4 L173.5 252.6 L173.8 254.8 L174.1 253.7 L174.5 256.8 L174.8 249.7 L175.1 255.9 L175.5 247.6 L175.8 252.4 L176.1 258.9 L176.5 254.0 L176.8 254.3 L177.1 255.0 L177.5 253.1 L177.8 258.4 L178.1 251.5 L178.5 252.8 L178.8 257.5 L179.1 255.3 L179.5 253.3 L179.8 253.8 L180.1 253.8 L180.5 258.2 L180.8 254.6 L181.1 257.7 L181.5 252.8 L181.8 256.6 L182.1 251.1 L182.5 259.2 L182.8 253.3 L183.1 255.2 L183.5 256.6 L183.8 256.3 L184.1 257.4 L184.5 253.0 L184.8 257.3 L185.1 253.5 L185.5 257.1 L185.8 259.5 L186.1 261.7 L186.5 255.8 L186.8 260.0 L187.1 261.7 L187.5 261.7 L187.8 255.1 L188.1 256.4 L188.5 254.1 L188.8 252.2 L189.1 253.7 L189.5 249.1 L189.8 248.8 L190.1 259.2 L190.5 254.2 L190.8 253.7 L191.1 248.7 L191.5 251.8 L191.8 253.1 L192.2 249.6 L192.5 251.8 L192.8 252.4 L193.2 251.6 L193.5 252.8 L193.8 260.3 L194.2 260.6 L194.5 257.5 L194.8 259.6 L195.2 256.3 L195.5 257.8 L195.8 255.5 L196.2 252.3 L196.5 252.8 L196.8 253.5 L197.2 254.7 L197.5 252.5 L197.8 255.3 L198.2 252.8 L198.5 256.8 L198.8 253.2 L199.2 250.9 L199.5 249.0 L199.8 252.8 L200.2 253.8 L200.5 257.4 L200.8 253.6 L201.2 255.5 L201.5 261.2 L201.8 254.7 L202.2 253.9 L202.5 257.3 L202.8 261.0 L203.2 261.0 L203.5 256.7 L203.8 257.0 L204.2 251.4 L204.5 245.9 L204.8 251.8 L205.2 249.0 L205.5 254.5 L205.8 246.7 L206.2 250.6 L206.5 248.6 L206.8 246.3 L207.2 245.7 L207.5 247.5 L207.8 243.5 L208.2 245.6 L208.5 247.4 L208.8 250.6 L209.2 252.6 L209.5 255.1 L209.8 250.5 L210.2 252.8 L210.5 252.8 L210.8 250.8 L211.2 259.7 L211.5 255.7 L211.8 254.9 L212.2 255.3 L212.5 250.6 L212.8 255.3 L213.2 254.1 L213.5 256.9 L213.8 247.9 L214.2 249.7 L214.5 253.4 L214.8 247.5 L215.2 246.4 L215.5 248.5 L215.8 248.6 L216.2 247.8 L216.5 249.2 L216.8 252.4 L217.2 250.1 L217.5 254.4 L217.8 248.1 L218.2 248.3 L218.5 252.1 L218.8 254.8 L219.2 250.9 L219.5 247.5 L219.8 249.5 L220.2 251.9 L220.5 253.7 L220.8 253.0 L221.2 246.6 L221.5 248.7 L221.8 246.1 L222.2 247.6 L222.5 248.8 L222.8 250.7 L223.2 250.0 L223.5 249.0 L223.8 248.3 L224.2 251.0 L224.5 249.8 L224.8 250.4 L225.2 248.4 L225.5 254.5 L225.8 250.4 L226.2 253.0 L226.5 256.8 L226.8 254.8 L227.2 255.6 L227.5 258.6 L227.8 250.1 L228.2 252.8 L228.5 251.0 L228.8 251.2 L229.2 250.7 L229.5 252.1 L229.8 258.0 L230.2 260.7 L230.5 258.7 L230.8 255.9 L231.2 258.9 L231.5 256.8 L231.8 259.8 L232.2 258.3 L232.5 250.3 L232.8 255.9 L233.2 253.7 L233.5 250.9 L233.8 254.1 L234.2 261.3 L234.5 265.0 L234.8 253.4 L235.2 255.4 L235.5 246.0 L235.8 254.6 L236.2 254.4 L236.5 259.9 L236.8 265.6 L237.2 266.7 L237.5 267.5 L237.8 261.4 L238.2 253.9 L238.5 258.0 L238.8 263.2 L239.2 254.5 L239.5 256.0 L239.8 262.5 L240.2 257.8 L240.5 255.2 L240.8 253.6 L241.2 258.1 L241.5 260.2 L241.8 258.5 L242.2 264.9 L242.5 263.6 L242.8 262.3 L243.2 265.6 L243.5 258.0 L243.8 261.7 L244.2 264.7 L244.5 259.3 L244.8 259.2 L245.2 254.2 L245.5 263.1 L245.8 259.4 L246.2 262.1 L246.5 266.3 L246.8 253.9 L247.2 260.9 L247.5 257.1 L247.8 266.1 L248.2 252.7 L248.5 248.1 L248.8 253.5 L249.2 271.1 L249.5 257.9 L249.8 266.0 L250.2 257.1 L250.5 248.9 L250.8 260.5 L251.2 261.9 L251.5 255.3 L251.8 250.0 L252.2 247.9 L252.5 235.1 L252.8 244.1 L253.2 232.5 L253.5 233.2 L253.8 226.6 L254.2 220.1 L254.5 239.0 L254.8 239.6 L255.2 227.0 L255.5 232.2 L255.8 238.8 L256.2 242.8 L256.5 239.9 L256.9 240.3 L257.2 238.3 L257.5 250.3 L257.9 242.9 L258.2 247.1 L258.5 232.5 L258.9 230.6 L259.2 235.6 L259.5 232.4 L259.9 234.1 L260.2 228.9 L260.5 247.7 L260.9 236.2 L261.2 219.9 L261.5 219.8 L261.9 233.5 L262.2 229.6 L262.5 229.6 L262.9 250.3 L263.2 244.6 L263.5 237.4 L263.9 243.8 L264.2 242.6 L264.5 248.9 L264.9 239.3 L265.2 232.9 L265.5 234.0 L265.9 223.7 L266.2 229.5 L266.5 238.1 L266.9 243.1 L267.2 220.5 L267.5 232.4 L267.9 238.5 L268.2 229.7 L268.5 223.5 L268.9 230.2 L269.2 233.9 L269.5 239.1 L269.9 235.6 L270.2 240.5 L270.5 237.3 L270.9 234.7 L271.2 239.2 L271.5 239.6 L271.9 236.5 L272.2 241.9 L272.5 247.6 L272.9 242.9 L273.2 242.5 L273.5 245.4 L273.9 240.9 L274.2 236.0 L274.5 246.2 L274.9 221.6 L275.2 243.1 L275.5 243.3 L275.9 250.6 L276.2 247.6 L276.5 244.5 L276.9 249.7 L277.2 236.8 L277.5 264.3 L277.9 259.1 L278.2 257.8 L278.5 268.8 L278.9 251.7 L279.2 265.0 L279.5 249.3 L279.9 255.7 L280.2 254.5 L280.5 249.5 L280.9 242.8 L281.2 252.8 L281.5 256.8 L281.9 255.2 L282.2 255.2 L282.5 253.8 L282.9 255.3 L283.2 252.9 L283.5 264.5 L283.9 272.4 L284.2 263.6 L284.5 259.6 L284.9 262.8 L285.2 271.0 L285.5 271.5 L285.9 258.6 L286.2 255.3 L286.5 263.2 L286.9 273.2 L287.2 275.8 L287.5 273.9 L287.9 279.3 L288.2 288.4 L288.5 279.6 L288.9 281.1 L289.2 279.0 L289.5 288.5 L289.9 297.4 L290.2 285.1 L290.5 269.2 L290.9 287.4 L291.2 283.4 L291.5 265.9 L291.9 271.0 L292.2 273.8 L292.5 287.6 L292.9 288.5 L293.2 289.2 L293.5 287.1 L293.9 278.0 L294.2 266.8 L294.5 268.7 L294.9 265.9 L295.2 257.1 L295.5 261.5 L295.9 259.4 L296.2 262.2 L296.5 265.7 L296.9 269.3 L297.2 274.5 L297.5 249.2 L297.9 242.4 L298.2 244.3 L298.5 243.4 L298.9 244.4 L299.2 260.7 L299.5 251.3 L299.9 258.6 L300.2 255.7 L300.5 250.8 L300.9 259.1 L301.2 244.5 L301.5 254.9 L301.9 252.1 L302.2 259.8 L302.5 247.7 L302.9 255.0 L303.2 256.6 L303.5 252.9 L303.9 239.6 L304.2 249.6 L304.5 251.8 L304.9 248.9 L305.2 249.8 L305.5 246.7 L305.9 249.2 L306.2 247.8 L306.5 249.0 L306.9 255.9 L307.2 250.4 L307.5 255.0 L307.9 254.3 L308.2 247.2 L308.5 251.0 L308.9 250.3 L309.2 249.5 L309.5 242.1 L309.9 251.6 L310.2 236.5 L310.5 236.0 L310.9 237.2 L311.2 233.1 L311.5 238.0 L311.9 228.9 L312.2 228.9 L312.5 237.1 L312.9 228.3 L313.2 229.8 L313.5 225.9 L313.9 243.0 L314.2 241.0 L314.5 241.1 L314.9 241.4 L315.2 236.6 L315.5 238.2 L315.9 243.2 L316.2 237.2 L316.5 237.1 L316.9 238.5 L317.2 249.1 L317.5 245.5 L317.9 259.6 L318.2 258.6 L318.5 257.9 L318.9 259.0 L319.2 255.7 L319.5 251.3 L319.9 259.9 L320.2 254.4 L320.6 265.8 L320.9 264.4 L321.2 261.0 L321.6 251.6 L321.9 255.6 L322.2 249.4 L322.6 248.7 L322.9 261.1 L323.2 263.7 L323.6 264.9 L323.9 258.6 L324.2 260.5 L324.6 258.7 L324.9 252.4 L325.2 259.4 L325.6 263.5 L325.9 267.0 L326.2 277.2 L326.6 269.7 L326.9 267.7 L327.2 262.2 L327.6 262.6 L327.9 261.2 L328.2 273.3 L328.6 277.8 L328.9 268.6 L329.2 265.2 L329.6 273.1 L329.9 269.9 L330.2 267.3 L330.6 268.9 L330.9 267.1 L331.2 271.6 L331.6 263.6 L331.9 259.5 L332.2 265.8 L332.6 266.3 L332.9 274.7 L333.2 261.0 L333.6 261.1 L333.9 252.3 L334.2 254.7 L334.6 271.1 L334.9 265.9 L335.2 264.3 L335.6 267.2 L335.9 263.5 L336.2 263.1 L336.6 256.8 L336.9 256.5 L337.2 250.2 L337.6 256.3 L337.9 259.4 L338.2 262.7 L338.6 275.7 L338.9 261.3 L339.2 254.0 L339.6 276.2 L339.9 273.0 L340.2 266.1 L340.6 272.2 L340.9 277.4 L341.2 271.0 L341.6 280.0 L341.9 267.4 L342.2 262.2 L342.6 254.6 L342.9 266.0 L343.2 270.6 L343.6 274.2 L343.9 265.4 L344.2 270.9 L344.6 261.1 L344.9 258.4 L345.2 259.5 L345.6 272.9 L345.9 281.8 L346.2 278.9 L346.6 280.9 L346.9 279.4 L347.2 275.4 L347.6 268.3 L347.9 270.0 L348.2 270.2 L348.6 262.6 L348.9 262.8 L349.2 263.3 L349.6 270.3 L349.9 262.6 L350.2 252.4 L350.6 258.6 L350.9 260.6 L351.2 269.5 L351.6 266.8 L351.9 267.4 L352.2 269.7 L352.6 252.7 L352.9 259.4 L353.2 260.1 L353.6 263.8 L353.9 264.1 L354.2 274.9 L354.6 278.6 L354.9 268.6 L355.2 272.3 L355.6 265.5 L355.9 266.8 L356.2 260.8 L356.6 259.6 L356.9 261.7 L357.2 252.1 L357.6 261.3 L357.9 261.8 L358.2 261.7 L358.6 266.6 L358.9 256.7 L359.2 256.9 L359.6 255.1 L359.9 267.4 L360.2 260.8 L360.6 261.5 L360.9 264.2 L361.2 256.4 L361.6 263.6 L361.9 269.7 L362.2 274.9 L362.6 267.8 L362.9 269.8 L363.2 271.6 L363.6 261.2 L363.9 272.9 L364.2 254.3 L364.6 262.0 L364.9 261.3 L365.2 270.1 L365.6 262.3 L365.9 260.1 L366.2 265.8 L366.6 263.1 L366.9 260.3 L367.2 270.5 L367.6 275.9 L367.9 269.0 L368.2 261.7 L368.6 258.6 L368.9 260.0 L369.2 260.2 L369.6 255.2 L369.9 270.1 L370.2 272.7 L370.6 270.3 L370.9 265.5 L371.2 261.3 L371.6 254.2 L371.9 256.1 L372.2 248.2 L372.6 253.5 L372.9 258.0 L373.2 259.2 L373.6 265.3 L373.9 254.3 L374.2 255.9 L374.6 253.8 L374.9 248.4 L375.2 250.7 L375.6 247.6 L375.9 234.9 L376.2 242.3 L376.6 239.5 L376.9 237.4 L377.2 236.9 L377.6 240.2 L377.9 239.0 L378.2 243.5 L378.6 247.2 L378.9 254.1 L379.2 251.2 L379.6 244.4 L379.9 249.3 L380.2 245.8 L380.6 253.4 L380.9 254.6 L381.2 257.2 L381.6 249.6 L381.9 240.8 L382.2 246.1 L382.6 252.8 L382.9 247.7 L383.2 244.8 L383.6 246.4 L383.9 242.1 L384.3 251.9 L384.6 249.7 L384.9 238.2 L385.3 245.5 L385.6 251.3 L385.9 251.6 L386.3 248.2 L386.6 243.8 L386.9 257.4 L387.3 247.7 L387.6 244.7 L387.9 234.5 L388.3 236.8 L388.6 241.2 L388.9 234.8 L389.3 246.1 L389.6 245.5 L389.9 249.3 L390.3 235.2 L390.6 236.9 L390.9 233.3 L391.3 241.7 L391.6 254.7 L391.9 243.9 L392.3 238.2 L392.6 237.6 L392.9 240.0 L393.3 235.9 L393.6 241.8 L393.9 247.3 L394.3 236.9 L394.6 235.3 L394.9 230.4 L395.3 245.1 L395.6 236.0 L395.9 231.4 L396.3 232.1 L396.6 238.4 L396.9 243.9 L397.3 238.6 L397.6 237.2 L397.9 227.1 L398.3 231.0 L398.6 226.9 L398.9 228.5 L399.3 231.0 L399.6 233.4 L399.9 237.2 L400.3 237.7 L400.6 237.3 L400.9 231.3 L401.3 239.1 L401.6 246.9 L401.9 246.7 L402.3 244.5 L402.6 233.4 L402.9 233.8 L403.3 237.8 L403.6 227.9 L403.9 228.8 L404.3 233.8 L404.6 236.8 L404.9 234.6 L405.3 235.9 L405.6 244.0 L405.9 240.9 L406.3 240.5 L406.6 236.0 L406.9 238.3 L407.3 239.7 L407.6 240.7 L407.9 235.3 L408.3 242.8 L408.6 239.1 L408.9 237.4 L409.3 238.5 L409.6 242.1 L409.9 240.7 L410.3 242.4 L410.6 243.4 L410.9 239.0 L411.3 233.8 L411.6 235.8 L411.9 246.7 L412.3 243.8 L412.6 240.3 L412.9 240.6 L413.3 238.3 L413.6 236.8 L413.9 236.2 L414.3 233.2 L414.6 236.6 L414.9 236.7 L415.3 236.4 L415.6 243.6 L415.9 242.6 L416.3 244.2 L416.6 242.6 L416.9 240.6 L417.3 241.3 L417.6 238.6 L417.9 239.3 L418.3 235.6 L418.6 244.0 L418.9 236.2 L419.3 235.5 L419.6 235.6 L419.9 236.1 L420.3 244.9 L420.6 236.5 L420.9 239.4 L421.3 245.4 L421.6 247.4 L421.9 243.5 L422.3 249.7 L422.6 243.8 L422.9 246.8 L423.3 240.3 L423.6 235.2 L423.9 236.1 L424.3 237.4 L424.6 237.6 L424.9 240.2 L425.3 233.5 L425.6 237.9 L425.9 237.1 L426.3 236.9 L426.6 233.6 L426.9 236.6 L427.3 243.7 L427.6 252.3 L427.9 246.1 L428.3 245.1 L428.6 243.0 L428.9 248.0 L429.3 244.2 L429.6 248.2 L429.9 242.9 L430.3 241.5 L430.6 241.6 L430.9 232.5 L431.3 233.3 L431.6 241.7 L431.9 232.5 L432.3 239.2 L432.6 248.5 L432.9 238.0 L433.3 234.2 L433.6 231.3 L433.9 231.4 L434.3 231.4 L434.6 231.5 L434.9 233.7 L435.3 234.8 L435.6 241.1 L435.9 245.4 L436.3 245.9 L436.6 247.1 L436.9 253.2 L437.3 247.7 L437.6 243.2 L437.9 238.2 L438.3 246.3 L438.6 243.8 L438.9 238.7 L439.3 246.7 L439.6 247.6 L439.9 251.8 L440.3 245.7 L440.6 245.3 L440.9 246.5 L441.3 242.2 L441.6 245.8 L441.9 249.1 L442.3 250.6 L442.6 246.3 L442.9 239.3 L443.3 248.3 L443.6 242.5 L443.9 248.1 L444.3 246.8 L444.6 241.0 L444.9 236.2 L445.3 241.2 L445.6 249.1 L445.9 251.5 L446.3 251.9 L446.6 244.6 L446.9 246.4 L447.3 248.6 L447.6 245.6 L447.9 241.5 L448.3 240.2 L448.6 243.5 L449.0 242.9 L449.3 240.0 L449.6 243.0 L450.0 241.9 L450.3 244.0 L450.6 239.6 L451.0 242.9 L451.3 240.4 L451.6 242.8 L452.0 246.2 L452.3 238.9 L452.6 243.0 L453.0 234.6 L453.3 244.9 L453.6 240.7 L454.0 238.0 L454.3 239.9 L454.6 238.4 L455.0 247.6 L455.3 250.8 L455.6 240.4 L456.0 245.3 L456.3 235.3 L456.6 250.0 L457.0 246.1 L457.3 250.3 L457.6 253.5 L458.0 242.6 L458.3 239.3 L458.6 246.4 L459.0 234.5 L459.3 241.1 L459.6 248.9 L460.0 246.8 L460.3 247.6 L460.6 253.1 L461.0 240.0 L461.3 243.8 L461.6 245.6 L462.0 245.6 L462.3 246.5 L462.6 240.3 L463.0 247.1 L463.3 243.1 L463.6 244.5 L464.0 247.3 L464.3 236.3 L464.6 246.2 L465.0 245.1 L465.3 245.8 L465.6 243.5 L466.0 244.0 L466.3 243.3 L466.6 247.0 L467.0 250.5 L467.3 242.5 L467.6 251.5 L468.0 245.9 L468.3 253.3 L468.6 240.4 L469.0 246.1 L469.3 242.0 L469.6 242.6 L470.0 239.0 L470.3 242.1 L470.6 241.3 L471.0 239.7 L471.3 246.9 L471.6 246.3 L472.0 248.3 L472.3 250.0 L472.6 249.9 L473.0 250.4 L473.3 242.8 L473.6 242.9 L474.0 241.4 L474.3 238.8 L474.6 242.3 L475.0 242.3 L475.3 250.9 L475.6 251.6 L476.0 244.5 L476.3 245.7 L476.6 247.2 L477.0 237.4 L477.3 235.3 L477.6 239.3 L478.0 248.2 L478.3 250.4 L478.6 248.9 L479.0 249.0 L479.3 248.4 L479.6 246.2 L480.0 245.9 L480.3 250.4 L480.6 242.3 L481.0 244.8 L481.3 241.1 L481.6 242.3 L482.0 241.1 L482.3 244.5 L482.6 243.1 L483.0 242.7 L483.3 248.1 L483.6 241.6 L484.0 242.5 L484.3 245.6 L484.6 251.2 L485.0 249.3 L485.3 245.6 L485.6 244.5 L486.0 252.0 L486.3 251.1 L486.6 255.6 L487.0 250.2 L487.3 251.6 L487.6 247.0 L488.0 243.2 L488.3 249.2 L488.6 255.3 L489.0 246.1 L489.3 247.6 L489.6 249.3 L490.0 248.4 L490.3 249.7 L490.6 248.2 L491.0 256.8 L491.3 257.6 L491.6 245.1 L492.0 246.1 L492.3 245.3 L492.6 245.4 L493.0 248.6 L493.3 244.0 L493.6 246.2 L494.0 248.9 L494.3 252.5 L494.6 249.8 L495.0 245.4 L495.3 244.7 L495.6 244.3 L496.0 248.6 L496.3 244.6 L496.6 242.0 L497.0 249.9 L497.3 245.4 L497.6 249.6 L498.0 239.0 L498.3 250.7 L498.6 253.6 L499.0 258.2 L499.3 256.4 L499.6 253.0 L500.0 253.7 L500.3 252.6 L500.6 252.1 L501.0 249.0 L501.3 243.5 L501.6 242.3 L502.0 246.8 L502.3 249.9 L502.6 250.3 L503.0 251.4 L503.3 248.5 L503.6 246.6 L504.0 248.3 L504.3 252.7 L504.6 247.4 L505.0 227.5 L505.3 251.3 L505.6 249.8 L506.0 245.6 L506.3 244.2 L506.6 235.9 L507.0 241.6 L507.3 250.9 L507.6 243.7 L508.0 248.4 L508.3 243.9 L508.6 246.3 L509.0 240.8 L509.3 234.5 L509.6 238.3 L510.0 236.4 L510.3 234.1 L510.6 232.0 L511.0 231.8 L511.3 238.3 L511.6 236.4 L512.0 232.8 L512.3 237.2 L512.7 236.6 L513.0 239.9 L513.3 244.9 L513.7 246.1 L514.0 243.4 L514.3 244.1 L514.7 242.7 L515.0 234.6 L515.3 241.9 L515.7 232.2 L516.0 232.6 L516.3 234.8 L516.7 236.8 L517.0 236.7 L517.3 240.2 L517.7 240.7 L518.0 236.2 L518.3 244.8 L518.7 237.0 L519.0 236.1 L519.3 233.4 L519.7 230.0 L520.0 236.0 L520.3 231.0 L520.7 233.6 L521.0 236.7 L521.3 231.4 L521.7 227.2 L522.0 232.1 L522.3 231.8 L522.7 241.3 L523.0 235.5 L523.3 233.3 L523.7 239.0 L524.0 238.8 L524.3 234.9 L524.7 241.2 L525.0 241.0 L525.3 239.4 L525.7 238.5 L526.0 236.4 L526.3 238.9 L526.7 239.9 L527.0 236.6 L527.3 235.1 L527.7 232.1 L528.0 234.2 L528.3 234.3 L528.7 232.2 L529.0 234.4 L529.3 226.9 L529.7 230.6 L530.0 232.2 L530.3 239.5 L530.7 240.3 L531.0 238.7 L531.3 235.0 L531.7 232.1 L532.0 230.1 L532.3 235.0 L532.7 234.4 L533.0 231.7 L533.3 237.3 L533.7 236.4 L534.0 235.4 L534.3 236.4 L534.7 247.0 L535.0 233.9 L535.3 238.4 L535.7 241.3 L536.0 237.6 L536.3 229.2 L536.7 235.3 L537.0 230.1 L537.3 231.3 L537.7 231.3 L538.0 234.3 L538.3 234.5 L538.7 231.5 L539.0 234.9 L539.3 237.9 L539.7 241.6 L540.0 245.0 L540.3 243.4 L540.7 238.1 L541.0 239.4 L541.3 236.5 L541.7 234.6 L542.0 239.6 L542.3 236.6 L542.7 233.1 L543.0 240.2 L543.3 232.6 L543.7 230.9 L544.0 243.4 L544.3 229.8 L544.7 234.4 L545.0 230.4 L545.3 221.1 L545.7 227.6 L546.0 231.4 L546.3 232.5 L546.7 236.0 L547.0 245.6 L547.3 234.5 L547.7 228.3 L548.0 239.4 L548.3 228.5 L548.7 232.6 L549.0 228.5 L549.3 226.5 L549.7 230.9 L550.0 239.2 L550.3 231.8 L550.7 229.0 L551.0 243.7 L551.3 235.5 L551.7 231.3 L552.0 223.1 L552.3 232.2 L552.7 234.4 L553.0 227.8 L553.3 224.4 L553.7 226.8 L554.0 222.1 L554.3 232.6 L554.7 233.9 L555.0 238.2 L555.3 231.0 L555.7 230.8 L556.0 232.5 L556.3 228.2 L556.7 238.2 L557.0 238.0 L557.3 244.1 L557.7 232.7 L558.0 240.3 L558.3 228.7 L558.7 223.4 L559.0 221.9 L559.3 218.7 L559.7 224.7 L560.0 224.4 L560.3 221.2 L560.7 227.3 L561.0 229.3 L561.3 226.6 L561.7 231.0 L562.0 223.8 L562.3 234.0 L562.7 234.9 L563.0 226.5 L563.3 228.5 L563.7 232.1 L564.0 233.5 L564.3 228.5 L564.7 230.0 L565.0 232.4 L565.3 226.0 L565.7 224.8 L566.0 232.7 L566.3 226.9 L566.7 224.4 L567.0 222.2 L567.3 217.6 L567.7 223.1 L568.0 217.7 L568.3 221.6 L568.7 221.8 L569.0 228.8 L569.3 221.7 L569.7 220.1 L570.0 228.8 L570.3 222.5 L570.7 230.5 L571.0 230.2 L571.3 225.6 L571.7 226.5 L572.0 237.8 L572.3 227.0 L572.7 226.2 L573.0 225.0 L573.3 229.6 L573.7 220.1 L574.0 229.3 L574.3 233.8 L574.7 230.4 L575.0 229.8 L575.3 235.1 L575.7 230.7 L576.0 222.5 L576.4 239.4 L576.7 236.5 L577.0 227.2 L577.4 225.0 L577.7 228.2 L578.0 229.6 L578.4 222.1 L578.7 224.4 L579.0 241.6 L579.4 226.9 L579.7 238.0 L580.0 240.3 L580.4 241.5 L580.7 232.8 L581.0 232.1 L581.4 231.0 L581.7 228.2 L582.0 226.6 L582.4 235.8 L582.7 229.0 L583.0 220.6 L583.4 227.2 L583.7 229.4 L584.0 227.8 L584.4 226.9 L584.7 238.0 L585.0 222.7 L585.4 222.7 L585.7 220.2 L586.0 220.2 L586.4 224.1 L586.7 217.4 L587.0 227.0 L587.4 221.1 L587.7 224.3 L588.0 222.8 L588.4 225.8 L588.7 229.2 L589.0 236.2 L589.4 230.1 L589.7 221.9 L590.0 223.4 L590.4 220.5 L590.7 215.0 L591.0 215.8 L591.4 215.6 L591.7 228.8 L592.0 235.1 L592.4 239.0 L592.7 236.4 L593.0 231.9 L593.4 232.2 L593.7 233.6 L594.0 226.3 L594.4 230.9 L594.7 232.9 L595.0 228.2 L595.4 233.7 L595.7 237.6 L596.0 230.4 L596.4 224.0 L596.7 224.3 L597.0 233.5 L597.4 224.6 L597.7 225.1 L598.0 225.4 L598.4 220.9 L598.7 229.0 L599.0 228.9 L599.4 230.6 L599.7 217.2 L600.0 229.7 L600.4 220.3 L600.7 217.8 L601.0 223.9 L601.4 232.4 L601.7 227.6 L602.0 233.4 L602.4 235.9 L602.7 230.3 L603.0 228.7 L603.4 223.6 L603.7 229.5 L604.0 225.1 L604.4 223.5 L604.7 233.4 L605.0 237.1 L605.4 243.4 L605.7 243.2 L606.0 231.2 L606.4 227.2 L606.7 229.4 L607.0 231.4 L607.4 222.4 L607.7 239.9 L608.0 234.0 L608.4 230.4 L608.7 231.8 L609.0 226.3 L609.4 222.3 L609.7 220.5 L610.0 230.1 L610.4 235.2 L610.7 238.3 L611.0 236.7 L611.4 242.9 L611.7 239.7 L612.0 235.2 L612.4 231.6 L612.7 225.4 L613.0 234.0 L613.4 237.0 L613.7 236.5 L614.0 232.6 L614.4 223.4 L614.7 220.1 L615.0 237.2 L615.4 244.9 L615.7 243.5 L616.0 245.0 L616.4 238.0 L616.7 239.6 L617.0 240.0 L617.4 237.8 L617.7 240.7 L618.0 233.6 L618.4 234.8 L618.7 225.5 L619.0 240.5 L619.4 234.0 L619.7 241.3 L620.0 242.5 L620.4 235.6 L620.7 238.1 L621.0 238.0 L621.4 235.0 L621.7 233.5 L622.0 231.2 L622.4 223.3 L622.7 218.4 L623.0 222.9 L623.4 224.3 L623.7 228.8 L624.0 222.0 L624.4 223.3 L624.7 218.7 L625.0 226.1 L625.4 228.3 L625.7 246.4 L626.0 239.8 L626.4 240.0 L626.7 231.8 L627.0 230.2 L627.4 231.9 L627.7 235.2 L628.0 230.7 L628.4 228.6 L628.7 227.1 L629.0 233.7 L629.4 227.9 L629.7 228.8 L630.0 225.4 L630.4 225.5 L630.7 231.4 L631.0 232.9 L631.4 229.2 L631.7 225.5 L632.0 230.1 L632.4 235.4 L632.7 228.8 L633.0 235.8 L633.4 229.8 L633.7 229.8 L634.0 229.8 L634.4 230.2 L634.7 232.2 L635.0 228.5 L635.4 231.2 L635.7 229.4 L636.0 228.1 L636.4 225.3 L636.7 220.6 L637.0 227.1 L637.4 223.3 L637.7 226.4 L638.0 229.7 L638.4 228.7 L638.7 230.4 L639.0 233.9 L639.4 241.1 L639.7 239.0 L640.0 230.5 L640.4 239.8 L640.7 233.7 L641.1 234.9 L641.4 229.4 L641.7 228.7 L642.1 230.9 L642.4 231.1 L642.7 233.5 L643.1 237.5 L643.4 232.1 L643.7 233.1 L644.1 233.9 L644.4 238.9 L644.7 237.5 L645.1 244.6 L645.4 236.3 L645.7 230.0 L646.1 234.5 L646.4 228.0 L646.7 234.3 L647.1 229.8 L647.4 219.6 L647.7 226.1 L648.1 228.3 L648.4 231.6 L648.7 236.9 L649.1 240.4 L649.4 235.1 L649.7 238.4 L650.1 234.7 L650.4 235.4 L650.7 240.7 L651.1 233.5 L651.4 235.0 L651.7 243.3 L652.1 239.8 L652.4 234.7 L652.7 228.4 L653.1 230.0 L653.4 236.7 L653.7 229.0 L654.1 226.4 L654.4 233.3 L654.7 230.9 L655.1 237.4 L655.4 233.9 L655.7 237.4 L656.1 235.4 L656.4 238.4 L656.7 233.5 L657.1 224.6 L657.4 230.6 L657.7 230.8 L658.1 228.4 L658.4 239.2 L658.7 231.5 L659.1 228.7 L659.4 232.4 L659.7 232.4 L660.1 237.1 L660.4 246.1 L660.7 247.2 L661.1 236.6 L661.4 239.4 L661.7 237.1 L662.1 228.6 L662.4 239.6 L662.7 244.4 L663.1 238.3 L663.4 246.5 L663.7 246.0 L664.1 241.6 L664.4 243.1 L664.7 248.6 L665.1 251.3 L665.4 248.0 L665.7 237.7 L666.1 242.7 L666.4 252.2 L666.7 255.0 L667.1 261.2 L667.4 246.4 L667.7 258.7 L668.1 253.2 L668.4 255.2 L668.7 259.6 L669.1 257.8 L669.4 247.7 L669.7 251.3 L670.1 202.4 L670.4 264.2 L670.7 275.7 L671.1 278.7 L671.4 276.1 L671.7 276.9 L672.1 281.1 L672.4 274.7 L672.7 268.1 L673.1 277.2 L673.4 271.3 L673.7 274.3 L674.1 268.7 L674.4 275.4 L674.7 279.4 L675.1 281.2 L675.4 281.9 L675.7 279.2 L676.1 277.9 L676.4 270.3 L676.7 271.0 L677.1 275.8 L677.4 279.8 L677.7 274.6 L678.1 263.9 L678.4 246.3 L678.7 275.1 L679.1 272.5 L679.4 277.3 L679.7 272.2 L680.1 279.3 L680.4 277.0 L680.7 265.3 L681.1 267.3 L681.4 263.1 L681.7 265.6 L682.1 261.8 L682.4 267.5 L682.7 259.5 L683.1 253.3 L683.4 260.3 L683.7 256.9 L684.1 250.9 L684.4 240.7 L684.7 250.9 L685.1 244.3 L685.4 256.4 L685.7 258.5 L686.1 270.4 L686.4 261.0 L686.7 266.9 L687.1 261.2 L687.4 266.0 L687.7 273.5 L688.1 270.2 L688.4 263.8 L688.7 268.1 L689.1 265.3 L689.4 274.0 L689.7 273.5 L690.1 275.6 L690.4 267.9 L690.7 286.0 L691.1 258.7 L691.4 266.4 L691.7 244.9 L692.1 252.7 L692.4 256.8 L692.7 267.7 L693.1 258.0 L693.4 259.4 L693.7 257.0 L694.1 270.2 L694.4 267.7 L694.7 267.5 L695.1 272.4 L695.4 271.8 L695.7 269.5 L696.1 271.9 L696.4 267.2 L696.7 270.0 L697.1 267.3 L697.4 261.4 L697.7 268.3 L698.1 265.8 L698.4 263.8 L698.7 258.9 L699.1 263.3 L699.4 260.6 L699.7 264.1 L700.1 250.3 L700.4 260.1 L700.7 277.9 L701.1 267.2 L701.4 284.0 L701.7 264.9 L702.1 259.5 L702.4 256.4 L702.7 251.3 L703.1 256.0 L703.4 259.6 L703.7 265.8 L704.1 265.7 L704.4 260.0 L704.8 255.4 L705.1 266.3 L705.4 251.5 L705.8 263.0 L706.1 260.2 L706.4 264.9 L706.8 260.8 L707.1 269.4 L707.4 278.6 L707.8 276.6 L708.1 274.9 L708.4 275.0 L708.8 269.6 L709.1 270.7 L709.4 275.0 L709.8 264.6 L710.1 255.8 L710.4 256.1 L710.8 260.3 L711.1 264.3 L711.4 261.2 L711.8 262.8 L712.1 261.4 L712.4 267.6 L712.8 272.7 L713.1 270.9 L713.4 272.8 L713.8 269.6 L714.1 273.5 L714.4 278.6 L714.8 275.5 L715.1 277.2 L715.4 268.9 L715.8 277.3 L716.1 281.8 L716.4 283.5 L716.8 281.0 L717.1 268.6 L717.4 268.7 L717.8 277.4 L718.1 277.2 L718.4 266.1 L718.8 273.2 L719.1 271.1 L719.4 264.5 L719.8 260.3 L720.1 272.0 L720.4 265.1 L720.8 265.9 L721.1 271.4 L721.4 268.2 L721.8 266.0 L722.1 271.1 L722.4 264.0 L722.8 278.6 L723.1 284.9 L723.4 276.8 L723.8 275.1 L724.1 269.9 L724.4 269.2 L724.8 267.7 L725.1 275.6 L725.4 283.4 L725.8 273.6 L726.1 267.4 L726.4 265.5 L726.8 269.7 L727.1 266.0 L727.4 272.6 L727.8 270.5 L728.1 264.6 L728.4 274.9 L728.8 270.9 L729.1 275.8 L729.4 282.4 L729.8 276.7 L730.1 268.4 L730.4 260.1 L730.8 264.8 L731.1 272.9 L731.4 267.9 L731.8 262.8 L732.1 267.8 L732.4 268.1 L732.8 276.2 L733.1 273.7 L733.4 271.5 L733.8 264.6 L734.1 263.2 L734.4 270.0 L734.8 274.7 L735.1 273.2 L735.4 277.8 L735.8 266.0 L736.1 264.8 L736.4 273.9 L736.8 264.6 L737.1 281.6 L737.4 273.1 L737.8 268.7 L738.1 284.7 L738.4 287.7 L738.8 282.2 L739.1 282.5 L739.4 277.8 L739.8 275.7 L740.1 273.7 L740.4 269.5 L740.8 279.4 L741.1 282.4 L741.4 287.8 L741.8 287.9 L742.1 277.0 L742.4 274.0 L742.8 284.7 L743.1 279.0 L743.4 275.8 L743.8 274.3 L744.1 275.2 L744.4 276.4 L744.8 275.1 L745.1 267.7 L745.4 264.4 L745.8 267.1 L746.1 274.7 L746.4 268.5 L746.8 266.8 L747.1 265.6 L747.4 273.2 L747.8 277.6 L748.1 273.9 L748.4 274.0 L748.8 275.7 L749.1 273.6 L749.4 281.6 L749.8 279.0 L750.1 284.7 L750.4 278.8 L750.8 276.6 L751.1 275.5 L751.4 270.6 L751.8 265.1 L752.1 276.8 L752.4 270.8 L752.8 268.1 L753.1 278.6 L753.4 271.8 L753.8 271.8 L754.1 269.1 L754.4 272.0 L754.8 270.8 L755.1 271.7 L755.4 264.0 L755.8 271.2 L756.1 268.5 L756.4 266.7 L756.8 268.0 L757.1 264.2 L757.4 268.0 L757.8 272.4 L758.1 274.0 L758.4 282.5 L758.8 286.3 L759.1 279.8 L759.4 277.8 L759.8 274.7 L760.1 278.8 L760.4 271.0 L760.8 271.0 L761.1 277.0 L761.4 272.6 L761.8 274.3 L762.1 267.5 L762.4 271.8 L762.8 275.0 L763.1 272.7 L763.4 273.8 L763.8 266.8 L764.1 275.5 L764.4 267.5 L764.8 266.2 L765.1 275.1 L765.4 275.4 L765.8 272.3 L766.1 273.0 L766.4 278.2 L766.8 282.9 L767.1 276.8 L767.4 282.6 L767.8 285.6 L768.1 280.3 L768.5 278.1 L768.8 277.6 L769.1 272.9 L769.5 266.5 L769.8 269.5 L770.1 270.6 L770.5 271.4 L770.8 282.3 L771.1 285.7 L771.5 288.9 L771.8 283.8 L772.1 289.0 L772.5 282.2 L772.8 287.0 L773.1 273.6 L773.5 279.4 L773.8 274.6 L774.1 275.6 L774.5 273.6 L774.8 276.5 L775.1 277.4 L775.5 275.4 L775.8 273.0 L776.1 268.5 L776.5 273.0 L776.8 285.0 L777.1 281.6 L777.5 276.4 L777.8 273.5 L778.1 272.7 L778.5 275.9 L778.8 274.0 L779.1 276.5 L779.5 281.2 L779.8 276.0 L780.1 272.0 L780.5 273.6 L780.8 284.6 L781.1 274.3 L781.5 288.5 L781.8 279.1 L782.1 274.2 L782.5 264.9 L782.8 273.6 L783.1 278.2 L783.5 274.0 L783.8 270.8 L784.1 276.7 L784.5 270.3 L784.8 272.8 L785.1 272.0 L785.5 275.5 L785.8 271.6 L786.1 274.9 L786.5 281.8 L786.8 275.2 L787.1 284.1 L787.5 284.2 L787.8 283.4 L788.1 284.9 L788.5 280.8 L788.8 273.4 L789.1 278.2 L789.5 280.9 L789.8 274.5 L790.1 271.2 L790.5 271.2 L790.8 274.0 L791.1 274.2 L791.5 278.3 L791.8 280.8 L792.1 288.7 L792.5 282.5 L792.8 274.6 L793.1 269.0 L793.5 265.3 L793.8 264.9 L794.1 272.6 L794.5 275.6 L794.8 268.9 L795.1 282.2 L795.5 276.4 L795.8 278.5 L796.1 273.5 L796.5 276.6 L796.8 282.8 L797.1 285.1 L797.5 281.1 L797.8 277.5 L798.1 280.2 L798.5 275.4 L798.8 274.4 L799.1 275.3 L799.5 281.2 L799.8 277.9 L800.1 274.0 L800.5 278.2 L800.8 276.0 L801.1 276.0 L801.5 279.6 L801.8 282.3 L802.1 285.6 L802.5 281.6 L802.8 272.9 L803.1 277.9 L803.5 285.3 L803.8 283.0 L804.1 290.9 L804.5 281.1 L804.8 277.2 L805.1 279.5 L805.5 288.9 L805.8 277.3 L806.1 277.8 L806.5 281.2 L806.8 279.5 L807.1 287.0 L807.5 288.3 L807.8 284.2 L808.1 292.7 L808.5 282.8 L808.8 282.4 L809.1 282.1 L809.5 290.5 L809.8 286.8 L810.1 283.2 L810.5 285.9 L810.8 282.3 L811.1 283.7 L811.5 282.0 L811.8 281.2 L812.1 278.5 L812.5 277.3 L812.8 273.2 L813.1 284.8 L813.5 286.5 L813.8 287.9 L814.1 282.9 L814.5 277.1 L814.8 287.2 L815.1 282.6 L815.5 281.3 L815.8 291.8 L816.1 285.3 L816.5 281.6 L816.8 287.7 L817.1 289.5 L817.5 288.8 L817.8 283.9 L818.1 285.9 L818.5 286.2 L818.8 287.7 L819.1 289.0 L819.5 285.7 L819.8 286.6 L820.1 286.3 L820.5 282.9 L820.8 293.8 L821.1 282.9 L821.5 280.7 L821.8 283.4 L822.1 286.2 L822.5 287.8 L822.8 296.0 L823.1 296.5 L823.5 289.5 L823.8 290.4 L824.1 291.7 L824.5 287.1 L824.8 291.6 L825.1 286.0 L825.5 291.0 L825.8 288.2 L826.1 286.4 L826.5 287.8 L826.8 284.8 L827.1 291.8 L827.5 291.9 L827.8 291.3 L828.1 289.7 L828.5 290.0 L828.8 286.4 L829.1 277.8 L829.5 283.1 L829.8 278.0 L830.1 283.9 L830.5 278.4 L830.8 292.9 L831.1 293.7 L831.5 284.0 L831.8 292.1 L832.1 297.7 L832.5 286.3 L832.8 289.0 L833.2 285.9 L833.5 291.6 L833.8 278.8 L834.2 280.0 L834.5 272.9 L834.8 275.7 L835.2 287.1 L835.5 280.0 L835.8 286.9 L836.2 280.6 L836.5 289.0 L836.8 280.2 L837.2 277.8 L837.5 272.0 L837.8 271.7 L838.2 270.2 L838.5 273.1 L838.8 278.6 L839.2 278.9 L839.5 282.2 L839.8 277.6 L840.2 268.1 L840.5 268.8 L840.8 271.3 L841.2 265.6 L841.5 274.3 L841.8 273.8 L842.2 276.3 L842.5 276.5 L842.8 273.8 L843.2 274.0 L843.5 270.1 L843.8 272.3 L844.2 270.0 L844.5 276.2 L844.8 272.2 L845.2 274.9 L845.5 262.5 L845.8 270.5 L846.2 264.0 L846.5 269.4 L846.8 272.6 L847.2 265.0 L847.5 270.2 L847.8 268.8 L848.2 275.4 L848.5 261.6 L848.8 262.5 L849.2 274.0 L849.5 274.2 L849.8 270.0 L850.2 260.0 L850.5 262.7 L850.8 272.5 L851.2 265.0 L851.5 271.5 L851.8 269.1 L852.2 278.2 L852.5 280.0 L852.8 280.8 L853.2 271.2 L853.5 267.8 L853.8 268.3 L854.2 270.5 L854.5 270.9 L854.8 271.3 L855.2 280.4 L855.5 279.3 L855.8 278.3 L856.2 277.8 L856.5 279.3 L856.8 273.1 L857.2 267.7 L857.5 272.0 L857.8 272.6 L858.2 264.2 L858.5 274.0 L858.8 274.9 L859.2 263.2 L859.5 261.1 L859.8 263.0 L860.2 263.2 L860.5 261.8 L860.8 264.4 L861.2 261.2 L861.5 263.6 L861.8 274.2 L862.2 271.8 L862.5 272.0 L862.8 278.8 L863.2 271.1 L863.5 263.0 L863.8 263.8 L864.2 268.7 L864.5 268.6" stroke="#ff7f0e"/>
<path d="M159.8 277.5 L160.1 267.2 L160.5 267.7 L160.8 267.2 L161.1 267.0 L161.5 271.4 L161.8 267.3 L162.1 264.0 L162.5 270.7 L162.8 271.2 L163.1 280.1 L163.5 279.9 L163.8 272.6 L164.1 275.3 L164.5 279.6 L164.8 277.3 L165.1 283.3 L165.5 282.1 L165.8 274.7 L166.1 281.8 L166.5 285.3 L166.8 282.0 L167.1 278.8 L167.5 279.6 L167.8 276.3 L168.1 273.7 L168.5 278.8 L168.8 279.7 L169.1 289.7 L169.5 286.3 L169.8 284.9 L170.1 287.7 L170.5 291.7 L170.8 288.0 L171.1 284.6 L171.5 291.8 L171.8 284.6 L172.1 286.8 L172.5 291.6 L172.8 298.3 L173.1 295.5 L173.5 296.2 L173.8 296.6 L174.1 298.5 L174.5 293.4 L174.8 290.9 L175.1 298.7 L175.5 286.8 L175.8 293.5 L176.1 288.7 L176.5 283.8 L176.8 280.7 L177.1 282.4 L177.5 297.3 L177.8 298.4 L178.1 288.8 L178.5 288.5 L178.8 287.6 L179.1 282.6 L179.5 285.1 L179.8 286.8 L180.1 288.8 L180.5 294.5 L180.8 297.3 L181.1 296.1 L181.5 290.9 L181.8 288.1 L182.1 287.2 L182.5 286.0 L182.8 282.7 L183.1 282.8 L183.5 283.3 L183.8 287.3 L184.1 284.8 L184.5 283.7 L184.8 284.9 L185.1 286.7 L185.5 286.4 L185.8 286.9 L186.1 288.4 L186.5 293.1 L186.8 292.2 L187.1 292.4 L187.5 288.6 L187.8 295.7 L188.1 285.0 L188.5 284.3 L188.8 289.2 L189.1 291.5 L189.5 292.3 L189.8 295.7 L190.1 290.1 L190.5 292.3 L190.8 288.3 L191.1 298.5 L191.5 296.0 L191.8 285.5 L192.2 290.4 L192.5 290.7 L192.8 290.1 L193.2 281.5 L193.5 287.5 L193.8 297.5 L194.2 295.7 L194.5 291.4 L194.8 293.5 L195.2 287.6 L195.5 295.4 L195.8 300.2 L196.2 288.0 L196.5 298.6 L196.8 290.7 L197.2 293.5 L197.5 301.0 L197.8 290.3 L198.2 294.6 L198.5 300.1 L198.8 294.4 L199.2 301.5 L199.5 292.4 L199.8 289.5 L200.2 296.1 L200.5 293.7 L200.8 292.2 L201.2 285.2 L201.5 285.7 L201.8 288.0 L202.2 286.1 L202.5 291.8 L202.8 303.0 L203.2 298.0 L203.5 297.0 L203.8 299.5 L204.2 296.7 L204.5 283.1 L204.8 288.4 L205.2 292.0 L205.5 293.5 L205.8 289.4 L206.2 289.1 L206.5 296.2 L206.8 289.0 L207.2 292.5 L207.5 292.6 L207.8 291.7 L208.2 298.6 L208.5 293.1 L208.8 287.3 L209.2 293.6 L209.5 284.2 L209.8 280.6 L210.2 287.2 L210.5 292.3 L210.8 296.8 L211.2 295.4 L211.5 299.8 L211.8 295.1 L212.2 296.7 L212.5 300.8 L212.8 301.3 L213.2 291.4 L213.5 295.6 L213.8 293.6 L214.2 305.2 L214.5 299.2 L214.8 290.1 L215.2 290.5 L215.5 292.1 L215.8 287.6 L216.2 293.0 L216.5 296.4 L216.8 292.1 L217.2 290.9 L217.5 294.6 L217.8 293.7 L218.2 295.0 L218.5 295.1 L218.8 293.7 L219.2 291.4 L219.5 293.8 L219.8 287.2 L220.2 293.0 L220.5 285.2 L220.8 294.2 L221.2 290.1 L221.5 291.0 L221.8 293.7 L222.2 289.9 L222.5 287.3 L222.8 289.2 L223.2 287.1 L223.5 287.9 L223.8 284.3 L224.2 284.4 L224.5 291.8 L224.8 289.6 L225.2 293.2 L225.5 291.6 L225.8 288.6 L226.2 286.2 L226.5 289.4 L226.8 293.9 L227.2 293.7 L227.5 294.1 L227.8 286.2 L228.2 291.8 L228.5 294.3 L228.8 299.5 L229.2 297.9 L229.5 296.1 L229.8 298.2 L230.2 302.1 L230.5 303.4 L230.8 305.5 L231.2 309.4 L231.5 297.2 L231.8 302.7 L232.2 297.7 L232.5 297.7 L232.8 306.1 L233.2 300.5 L233.5 297.6 L233.8 298.3 L234.2 301.8 L234.5 302.7 L234.8 303.9 L235.2 289.2 L235.5 290.7 L235.8 292.7 L236.2 293.9 L236.5 287.3 L236.8 287.8 L237.2 289.3 L237.5 294.2 L237.8 283.4 L238.2 294.0 L238.5 291.1 L238.8 285.7 L239.2 288.0 L239.5 292.2 L239.8 292.3 L240.2 288.7 L240.5 279.2 L240.8 282.5 L241.2 276.1 L241.5 284.1 L241.8 291.8 L242.2 295.9 L242.5 289.7 L242.8 285.2 L243.2 301.9 L243.5 290.1 L243.8 297.4 L244.2 292.7 L244.5 294.6 L244.8 284.8 L245.2 282.3 L245.5 277.7 L245.8 286.6 L246.2 279.5 L246.5 287.6 L246.8 286.5 L247.2 287.8 L247.5 307.6 L247.8 307.2 L248.2 310.5 L248.5 322.2 L248.8 322.5 L249.2 319.6 L249.5 323.0 L249.8 309.4 L250.2 299.3 L250.5 294.9 L250.8 298.8 L251.2 306.4 L251.5 304.2 L251.8 301.2 L252.2 297.9 L252.5 293.8 L252.8 297.9 L253.2 290.1 L253.5 290.5 L253.8 276.8 L254.2 254.5 L254.5 271.8 L254.8 265.0 L255.2 266.2 L255.5 271.1 L255.8 198.6 L256.2 262.1 L256.5 256.6 L256.9 254.8 L257.2 261.9 L257.5 249.9 L257.9 239.1 L258.2 259.7 L258.5 264.8 L258.9 258.6 L259.2 264.9 L259.5 272.1 L259.9 272.5 L260.2 288.2 L260.5 286.9 L260.9 288.9 L261.2 293.0 L261.5 272.3 L261.9 293.7 L262.2 289.4 L262.5 292.1 L262.9 284.1 L263.2 280.6 L263.5 269.7 L263.9 303.6 L264.2 284.0 L264.5 293.0 L264.9 297.1 L265.2 291.0 L265.5 281.9 L265.9 279.4 L266.2 267.9 L266.5 262.7 L266.9 268.9 L267.2 266.1 L267.5 284.3 L267.9 273.9 L268.2 269.4 L268.5 268.3 L268.9 275.8 L269.2 293.6 L269.5 265.1 L269.9 295.5 L270.2 286.3 L270.5 286.2 L270.9 269.4 L271.2 280.3 L271.5 273.5 L271.9 283.4 L272.2 281.5 L272.5 299.7 L272.9 290.5 L273.2 290.4 L273.5 282.8 L273.9 292.9 L274.2 281.8 L274.5 287.0 L274.9 283.7 L275.2 283.8 L275.5 297.9 L275.9 272.6 L276.2 266.3 L276.5 256.9 L276.9 251.1 L277.2 274.2 L277.5 251.4 L277.9 257.2 L278.2 257.3 L278.5 255.9 L278.9 254.3 L279.2 245.1 L279.5 249.2 L279.9 249.4 L280.2 245.3 L280.5 237.0 L280.9 233.2 L281.2 232.9 L281.5 228.3 L281.9 227.8 L282.2 223.7 L282.5 216.6 L282.9 210.4 L283.2 206.5 L283.5 209.7 L283.9 210.0 L284.2 213.4 L284.5 210.1 L284.9 216.8 L285.2 218.2 L285.5 221.8 L285.9 220.3 L286.2 221.3 L286.5 228.5 L286.9 216.2 L287.2 220.6 L287.5 220.8 L287.9 218.4 L288.2 218.1 L288.5 220.0 L288.9 213.9 L289.2 215.8 L289.5 213.4 L289.9 216.6 L290.2 214.5 L290.5 229.8 L290.9 223.2 L291.2 224.8 L291.5 218.6 L291.9 217.1 L292.2 229.4 L292.5 226.2 L292.9 238.0 L293.2 240.1 L293.5 242.5 L293.9 254.3 L294.2 241.1 L294.5 253.2 L294.9 187.1 L295.2 255.3 L295.5 258.9 L295.9 280.4 L296.2 270.0 L296.5 275.1 L296.9 273.6 L297.2 289.8 L297.5 299.0 L297.9 302.7 L298.2 307.6 L298.5 311.7 L298.9 306.6 L299.2 305.2 L299.5 305.2 L299.9 292.2 L300.2 301.3 L300.5 285.3 L300.9 302.9 L301.2 302.9 L301.5 297.2 L301.9 292.6 L302.2 305.9 L302.5 294.9 L302.9 308.5 L303.2 304.0 L303.5 295.1 L303.9 301.2 L304.2 296.9 L304.5 301.7 L304.9 305.0 L305.2 301.8 L305.5 303.1 L305.9 292.4 L306.2 285.4 L306.5 296.2 L306.9 190.9 L307.2 298.9 L307.5 301.8 L307.9 309.5 L308.2 310.1 L308.5 302.6 L308.9 298.8 L309.2 299.6 L309.5 302.8 L309.9 295.0 L310.2 290.8 L310.5 295.6 L310.9 296.2 L311.2 296.4 L311.5 300.4 L311.9 313.9 L312.2 304.7 L312.5 303.3 L312.9 294.0 L313.2 291.8 L313.5 299.4 L313.9 298.4 L314.2 300.2 L314.5 294.0 L314.9 298.8 L315.2 303.7 L315.5 305.8 L315.9 311.2 L316.2 307.0 L316.5 307.1 L316.9 314.9 L317.2 310.0 L317.5 302.5 L317.9 297.7 L318.2 297.3 L318.5 291.1 L318.9 291.0 L319.2 283.8 L319.5 268.0 L319.9 265.5 L320.2 263.8 L320.6 252.2 L320.9 254.9 L321.2 243.1 L321.6 249.9 L321.9 248.5 L322.2 235.4 L322.6 234.1 L322.9 225.5 L323.2 220.4 L323.6 220.9 L323.9 213.6 L324.2 216.3 L324.6 226.9 L324.9 225.1 L325.2 219.7 L325.6 219.6 L325.9 218.0 L326.2 220.5 L326.6 221.7 L326.9 226.4 L327.2 215.3 L327.6 222.1 L327.9 217.7 L328.2 217.2 L328.6 222.3 L328.9 213.0 L329.2 217.7 L329.6 210.1 L329.9 215.5 L330.2 215.8 L330.6 215.1 L330.9 212.0 L331.2 211.3 L331.6 214.3 L331.9 211.1 L332.2 211.6 L332.6 209.8 L332.9 211.6 L333.2 222.4 L333.6 213.3 L333.9 217.0 L334.2 213.1 L334.6 219.6 L334.9 222.1 L335.2 217.6 L335.6 212.7 L335.9 210.6 L336.2 211.8 L336.6 213.9 L336.9 206.2 L337.2 209.6 L337.6 215.3 L337.9 217.9 L338.2 215.0 L338.6 207.7 L338.9 174.5 L339.2 216.3 L339.6 210.4 L339.9 209.1 L340.2 208.9 L340.6 212.2 L340.9 143.7 L341.2 223.5 L341.6 221.4 L341.9 214.5 L342.2 215.4 L342.6 208.0 L342.9 211.3 L343.2 216.7 L343.6 212.1 L343.9 210.4 L344.2 220.9 L344.6 224.1 L344.9 219.1 L345.2 217.0 L345.6 221.3 L345.9 221.7 L346.2 217.0 L346.6 212.7 L346.9 216.6 L347.2 210.5 L347.6 215.6 L347.9 219.0 L348.2 217.6 L348.6 221.8 L348.9 225.2 L349.2 221.4 L349.6 225.1 L349.9 222.6 L350.2 224.1 L350.6 218.3 L350.9 222.3 L351.2 218.9 L351.6 220.9 L351.9 219.4 L352.2 222.3 L352.6 224.3 L352.9 224.0 L353.2 220.5 L353.6 216.0 L353.9 225.4 L354.2 215.6 L354.6 220.3 L354.9 230.1 L355.2 226.0 L355.6 226.1 L355.9 226.8 L356.2 232.7 L356.6 232.9 L356.9 228.0 L357.2 222.8 L357.6 228.1 L357.9 234.7 L358.2 236.8 L358.6 238.6 L358.9 234.3 L359.2 229.4 L359.6 228.6 L359.9 232.9 L360.2 222.7 L360.6 228.6 L360.9 232.1 L361.2 230.3 L361.6 240.5 L361.9 227.8 L362.2 241.0 L362.6 245.4 L362.9 258.8 L363.2 260.1 L363.6 265.6 L363.9 273.6 L364.2 274.0 L364.6 276.7 L364.9 321.8 L365.2 293.0 L365.6 313.0 L365.9 313.6 L366.2 315.3 L366.6 305.1 L366.9 330.5 L367.2 303.6 L367.6 305.7 L367.9 298.4 L368.2 299.7 L368.6 289.1 L368.9 291.5 L369.2 289.6 L369.6 291.1 L369.9 289.9 L370.2 278.8 L370.6 275.8 L370.9 270.4 L371.2 282.0 L371.6 274.3 L371.9 278.9 L372.2 283.5 L372.6 278.0 L372.9 269.5 L373.2 278.8 L373.6 278.2 L373.9 279.2 L374.2 280.4 L374.6 281.4 L374.9 274.9 L375.2 282.1 L375.6 265.5 L375.9 273.1 L376.2 277.1 L376.6 286.0 L376.9 279.8 L377.2 279.7 L377.6 274.0 L377.9 283.9 L378.2 282.7 L378.6 274.3 L378.9 245.2 L379.2 278.1 L379.6 285.7 L379.9 277.4 L380.2 279.3 L380.6 269.3 L380.9 274.1 L381.2 266.6 L381.6 274.2 L381.9 204.4 L382.2 255.1 L382.6 255.9 L382.9 250.8 L383.2 260.3 L383.6 268.9 L383.9 270.1 L384.3 269.9 L384.6 265.7 L384.9 264.3 L385.3 257.9 L385.6 259.3 L385.9 267.6 L386.3 271.1 L386.6 279.2 L386.9 278.3 L387.3 269.6 L387.6 270.3 L387.9 266.7 L388.3 264.6 L388.6 267.3 L388.9 263.0 L389.3 264.1 L389.6 263.3 L389.9 259.8 L390.3 270.9 L390.6 263.7 L390.9 268.9 L391.3 263.9 L391.6 265.1 L391.9 262.7 L392.3 261.8 L392.6 263.8 L392.9 260.3 L393.3 253.5 L393.6 252.9 L393.9 258.0 L394.3 255.8 L394.6 250.0 L394.9 250.3 L395.3 254.7 L395.6 250.5 L395.9 253.5 L396.3 253.5 L396.6 263.4 L396.9 268.9 L397.3 262.9 L397.6 266.3 L397.9 271.2 L398.3 278.0 L398.6 269.3 L398.9 273.5 L399.3 255.2 L399.6 270.2 L399.9 265.6 L400.3 267.5 L400.6 259.6 L400.9 260.6 L401.3 256.5 L401.6 258.4 L401.9 327.6 L402.3 264.5 L402.6 263.6 L402.9 277.8 L403.3 265.4 L403.6 266.3 L403.9 263.1 L404.3 264.6 L404.6 261.8 L404.9 269.0 L405.3 275.5 L405.6 277.8 L405.9 264.4 L406.3 266.9 L406.6 272.7 L406.9 265.7 L407.3 273.3 L407.6 275.1 L407.9 278.7 L408.3 265.5 L408.6 272.6 L408.9 267.4 L409.3 270.7 L409.6 264.6 L409.9 264.2 L410.3 271.4 L410.6 273.6 L410.9 279.5 L411.3 269.9 L411.6 271.1 L411.9 272.4 L412.3 280.2 L412.6 273.7 L412.9 264.5 L413.3 273.2 L413.6 267.2 L413.9 267.0 L414.3 267.2 L414.6 268.4 L414.9 270.4 L415.3 270.2 L415.6 269.5 L415.9 273.8 L416.3 275.9 L416.6 270.5 L416.9 272.6 L417.3 274.1 L417.6 277.2 L417.9 275.2 L418.3 273.9 L418.6 272.1 L418.9 275.7 L419.3 279.4 L419.6 277.6 L419.9 278.8 L420.3 275.9 L420.6 267.8 L420.9 275.7 L421.3 267.8 L421.6 273.4 L421.9 277.1 L422.3 276.8 L422.6 281.8 L422.9 277.1 L423.3 275.1 L423.6 275.7 L423.9 277.5 L424.3 273.5 L424.6 277.8 L424.9 276.0 L425.3 278.3 L425.6 273.5 L425.9 271.9 L426.3 279.1 L426.6 279.3 L426.9 277.9 L427.3 273.1 L427.6 272.3 L427.9 285.1 L428.3 281.1 L428.6 279.2 L428.9 280.7 L429.3 280.9 L429.6 286.2 L429.9 285.5 L430.3 292.5 L430.6 278.5 L430.9 282.9 L431.3 285.4 L431.6 290.9 L431.9 287.7 L432.3 283.6 L432.6 283.5 L432.9 281.5 L433.3 292.2 L433.6 283.0 L433.9 286.8 L434.3 287.3 L434.6 279.3 L434.9 277.3 L435.3 289.0 L435.6 279.1 L435.9 289.3 L436.3 292.7 L436.6 290.3 L436.9 292.4 L437.3 296.6 L437.6 294.7 L437.9 300.0 L438.3 295.9 L438.6 288.4 L438.9 292.2 L439.3 294.9 L439.6 295.9 L439.9 290.3 L440.3 295.5 L440.6 293.4 L440.9 300.1 L441.3 302.5 L441.6 295.4 L441.9 295.3 L442.3 288.2 L442.6 287.0 L442.9 295.5 L443.3 300.8 L443.6 299.4 L443.9 294.0 L444.3 293.9 L444.6 296.7 L444.9 296.4 L445.3 289.1 L445.6 291.4 L445.9 292.5 L446.3 296.2 L446.6 290.1 L446.9 292.2 L447.3 289.8 L447.6 298.4 L447.9 289.1 L448.3 292.8 L448.6 281.9 L449.0 290.9 L449.3 292.2 L449.6 284.2 L450.0 274.2 L450.3 285.9 L450.6 282.0 L451.0 284.8 L451.3 281.5 L451.6 282.1 L452.0 308.3 L452.3 277.7 L452.6 279.5 L453.0 280.7 L453.3 272.5 L453.6 278.1 L454.0 281.7 L454.3 284.8 L454.6 269.9 L455.0 273.2 L455.3 274.0 L455.6 275.5 L456.0 271.7 L456.3 269.5 L456.6 266.3 L457.0 274.4 L457.3 274.3 L457.6 279.1 L458.0 283.3 L458.3 284.4 L458.6 275.7 L459.0 267.5 L459.3 263.8 L459.6 268.4 L460.0 262.6 L460.3 269.0 L460.6 268.0 L461.0 269.6 L461.3 269.8 L461.6 271.5 L462.0 269.5 L462.3 269.1 L462.6 267.5 L463.0 274.1 L463.3 267.0 L463.6 272.8 L464.0 275.2 L464.3 270.8 L464.6 268.4 L465.0 274.2 L465.3 274.4 L465.6 281.6 L466.0 287.1 L466.3 287.2 L466.6 286.0 L467.0 277.1 L467.3 287.5 L467.6 287.6 L468.0 287.8 L468.3 287.9 L468.6 286.3 L469.0 283.8 L469.3 278.6 L469.6 273.8 L470.0 283.3 L470.3 273.1 L470.6 274.4 L471.0 285.2 L471.3 280.7 L471.6 283.6 L472.0 283.0 L472.3 280.2 L472.6 274.1 L473.0 273.1 L473.3 273.8 L473.6 279.4 L474.0 278.1 L474.3 280.2 L474.6 279.8 L475.0 281.7 L475.3 280.3 L475.6 276.6 L476.0 275.9 L476.3 282.6 L476.6 272.5 L477.0 276.1 L477.3 274.9 L477.6 275.2 L478.0 284.5 L478.3 278.8 L478.6 279.4 L479.0 274.7 L479.3 280.7 L479.6 276.3 L480.0 277.8 L480.3 276.0 L480.6 282.1 L481.0 276.7 L481.3 281.1 L481.6 279.2 L482.0 286.3 L482.3 281.8 L482.6 283.6 L483.0 280.6 L483.3 282.0 L483.6 283.7 L484.0 288.2 L484.3 294.5 L484.6 287.7 L485.0 283.4 L485.3 290.0 L485.6 289.4 L486.0 288.5 L486.3 284.4 L486.6 294.7 L487.0 293.1 L487.3 286.3 L487.6 281.9 L488.0 279.8 L488.3 285.5 L488.6 282.9 L489.0 285.7 L489.3 297.0 L489.6 288.1 L490.0 293.9 L490.3 284.3 L490.6 286.0 L491.0 281.7 L491.3 283.7 L491.6 288.7 L492.0 293.5 L492.3 288.9 L492.6 290.3 L493.0 295.0 L493.3 299.4 L493.6 294.4 L494.0 282.4 L494.3 289.7 L494.6 294.7 L495.0 293.7 L495.3 298.8 L495.6 302.1 L496.0 290.9 L496.3 300.2 L496.6 300.4 L497.0 295.5 L497.3 296.3 L497.6 295.6 L498.0 298.1 L498.3 296.1 L498.6 300.0 L499.0 295.7 L499.3 298.4 L499.6 297.5 L500.0 295.6 L500.3 298.0 L500.6 294.3 L501.0 302.9 L501.3 298.7 L501.6 301.9 L502.0 297.4 L502.3 298.9 L502.6 296.3 L503.0 299.8 L503.3 291.2 L503.6 300.5 L504.0 307.5 L504.3 309.2 L504.6 299.4 L505.0 297.5 L505.3 297.4 L505.6 302.5 L506.0 302.3 L506.3 294.1 L506.6 293.9 L507.0 301.8 L507.3 290.5 L507.6 286.2 L508.0 292.8 L508.3 293.2 L508.6 294.3 L509.0 293.4 L509.3 301.3 L509.6 289.1 L510.0 292.0 L510.3 282.7 L510.6 284.8 L511.0 286.3 L511.3 282.6 L511.6 279.9 L512.0 291.0 L512.3 286.8 L512.7 283.7 L513.0 293.2 L513.3 297.3 L513.7 292.4 L514.0 284.0 L514.3 287.9 L514.7 289.2 L515.0 299.1 L515.3 296.5 L515.7 294.0 L516.0 295.0 L516.3 297.0 L516.7 290.3 L517.0 286.2 L517.3 290.5 L517.7 287.9 L518.0 287.8 L518.3 297.0 L518.7 296.3 L519.0 282.0 L519.3 286.6 L519.7 287.0 L520.0 299.9 L520.3 283.9 L520.7 288.3 L521.0 287.1 L521.3 275.3 L521.7 284.5 L522.0 289.0 L522.3 290.9 L522.7 291.8 L523.0 277.7 L523.3 282.5 L523.7 288.8 L524.0 286.3 L524.3 289.1 L524.7 287.9 L525.0 290.2 L525.3 290.1 L525.7 291.8 L526.0 294.2 L526.3 292.0 L526.7 292.4 L527.0 282.2 L527.3 281.9 L527.7 276.4 L528.0 273.5 L528.3 283.1 L528.7 288.9 L529.0 279.7 L529.3 275.7 L529.7 273.4 L530.0 281.4 L530.3 285.1 L530.7 280.1 L531.0 281.2 L531.3 288.6 L531.7 283.1 L532.0 286.4 L532.3 283.1 L532.7 283.6 L533.0 280.3 L533.3 287.3 L533.7 290.8 L534.0 284.9 L534.3 291.2 L534.7 295.1 L535.0 284.3 L535.3 282.6 L535.7 283.3 L536.0 285.9 L536.3 285.9 L536.7 282.8 L537.0 287.4 L537.3 290.0 L537.7 281.3 L538.0 284.5 L538.3 295.1 L538.7 277.3 L539.0 279.2 L539.3 280.9 L539.7 286.3 L540.0 276.5 L540.3 279.3 L540.7 280.4 L541.0 284.9 L541.3 280.5 L541.7 275.3 L542.0 276.6 L542.3 278.3 L542.7 274.5 L543.0 274.2 L543.3 272.1 L543.7 274.8 L544.0 272.1 L544.3 279.9 L544.7 285.4 L545.0 284.8 L545.3 288.2 L545.7 288.3 L546.0 283.0 L546.3 289.6 L546.7 295.0 L547.0 293.9 L547.3 293.1 L547.7 282.1 L548.0 279.2 L548.3 282.8 L548.7 275.3 L549.0 281.7 L549.3 283.4 L549.7 280.1 L550.0 279.2 L550.3 281.8 L550.7 287.9 L551.0 294.8 L551.3 292.4 L551.7 286.8 L552.0 286.3 L552.3 284.5 L552.7 290.6 L553.0 290.8 L553.3 287.0 L553.7 287.3 L554.0 294.7 L554.3 289.7 L554.7 282.1 L555.0 282.9 L555.3 285.1 L555.7 285.5 L556.0 281.4 L556.3 292.8 L556.7 293.8 L557.0 288.7 L557.3 294.8 L557.7 292.4 L558.0 288.8 L558.3 293.8 L558.7 289.6 L559.0 283.1 L559.3 280.3 L559.7 282.3 L560.0 281.8 L560.3 288.6 L560.7 279.3 L561.0 276.0 L561.3 282.6 L561.7 288.8 L562.0 292.8 L562.3 287.4 L562.7 286.6 L563.0 285.2 L563.3 279.5 L563.7 284.3 L564.0 289.3 L564.3 282.6 L564.7 285.0 L565.0 289.4 L565.3 289.2 L565.7 293.5 L566.0 293.7 L566.3 294.7 L566.7 290.0 L567.0 287.9 L567.3 280.5 L567.7 287.4 L568.0 288.3 L568.3 285.6 L568.7 277.8 L569.0 281.9 L569.3 279.5 L569.7 279.2 L570.0 289.2 L570.3 293.0 L570.7 285.8 L571.0 288.5 L571.3 294.9 L571.7 296.9 L572.0 287.0 L572.3 289.0 L572.7 292.2 L573.0 284.4 L573.3 286.5 L573.7 281.0 L574.0 289.3 L574.3 286.3 L574.7 275.9 L575.0 283.4 L575.3 289.9 L575.7 288.5 L576.0 285.2 L576.4 281.5 L576.7 283.7 L577.0 284.0 L577.4 283.1 L577.7 289.7 L578.0 281.8 L578.4 285.0 L578.7 279.4 L579.0 289.9 L579.4 282.7 L579.7 285.5 L580.0 280.0 L580.4 279.4 L580.7 274.1 L581.0 274.1 L581.4 288.7 L581.7 274.1 L582.0 281.3 L582.4 280.7 L582.7 281.3 L583.0 285.2 L583.4 283.4 L583.7 285.4 L584.0 278.2 L584.4 282.7 L584.7 283.2 L585.0 283.5 L585.4 286.8 L585.7 284.3 L586.0 283.0 L586.4 291.0 L586.7 282.8 L587.0 285.8 L587.4 284.2 L587.7 284.9 L588.0 288.2 L588.4 287.0 L588.7 297.8 L589.0 287.0 L589.4 292.3 L589.7 283.3 L590.0 289.5 L590.4 291.1 L590.7 289.7 L591.0 294.6 L591.4 292.3 L591.7 291.1 L592.0 286.8 L592.4 286.4 L592.7 281.4 L593.0 285.7 L593.4 288.4 L593.7 293.9 L594.0 289.4 L594.4 298.9 L594.7 297.6 L595.0 289.9 L595.4 288.6 L595.7 279.8 L596.0 282.0 L596.4 286.5 L596.7 284.0 L597.0 299.5 L597.4 293.7 L597.7 289.3 L598.0 292.4 L598.4 288.8 L598.7 283.6 L599.0 289.5 L599.4 284.3 L599.7 292.2 L600.0 288.4 L600.4 286.2 L600.7 295.2 L601.0 291.2 L601.4 287.8 L601.7 293.0 L602.0 292.4 L602.4 284.8 L602.7 283.9 L603.0 284.2 L603.4 297.3 L603.7 294.4 L604.0 293.1 L604.4 294.7 L604.7 291.6 L605.0 301.5 L605.4 293.9 L605.7 290.7 L606.0 289.8 L606.4 285.3 L606.7 292.5 L607.0 287.8 L607.4 294.2 L607.7 292.4 L608.0 292.3 L608.4 293.0 L608.7 299.3 L609.0 294.7 L609.4 293.0 L609.7 286.6 L610.0 283.2 L610.4 296.3 L610.7 300.6 L611.0 285.4 L611.4 290.1 L611.7 289.0 L612.0 288.5 L612.4 300.5 L612.7 293.9 L613.0 295.4 L613.4 295.2 L613.7 292.1 L614.0 299.2 L614.4 298.6 L614.7 294.1 L615.0 292.2 L615.4 289.0 L615.7 287.6 L616.0 285.8 L616.4 299.5 L616.7 288.1 L617.0 283.8 L617.4 288.4 L617.7 285.5 L618.0 292.3 L618.4 300.1 L618.7 289.5 L619.0 299.9 L619.4 296.3 L619.7 297.4 L620.0 294.6 L620.4 300.6 L620.7 304.2 L621.0 299.6 L621.4 297.2 L621.7 289.4 L622.0 294.0 L622.4 290.6 L622.7 291.7 L623.0 305.4 L623.4 299.5 L623.7 296.3 L624.0 293.3 L624.4 288.7 L624.7 292.7 L625.0 300.2 L625.4 302.9 L625.7 306.4 L626.0 298.6 L626.4 302.1 L626.7 302.1 L627.0 293.9 L627.4 289.2 L627.7 292.7 L628.0 293.5 L628.4 291.0 L628.7 291.1 L629.0 293.0 L629.4 298.8 L629.7 299.1 L630.0 301.5 L630.4 297.3 L630.7 290.6 L631.0 294.1 L631.4 293.5 L631.7 295.2 L632.0 298.2 L632.4 284.5 L632.7 287.9 L633.0 284.5 L633.4 287.5 L633.7 288.0 L634.0 284.7 L634.4 286.7 L634.7 291.9 L635.0 295.3 L635.4 295.9 L635.7 292.1 L636.0 293.6 L636.4 296.6 L636.7 294.0 L637.0 290.7 L637.4 295.1 L637.7 304.9 L638.0 298.8 L638.4 294.2 L638.7 298.5 L639.0 296.9 L639.4 299.2 L639.7 304.0 L640.0 299.4 L640.4 303.0 L640.7 285.5 L641.1 286.8 L641.4 300.8 L641.7 300.5 L642.1 301.0 L642.4 297.7 L642.7 300.8 L643.1 296.0 L643.4 300.7 L643.7 295.4 L644.1 296.2 L644.4 297.3 L644.7 300.5 L645.1 293.8 L645.4 301.7 L645.7 296.5 L646.1 302.9 L646.4 303.4 L646.7 296.9 L647.1 307.3 L647.4 294.0 L647.7 295.4 L648.1 307.0 L648.4 306.6 L648.7 298.1 L649.1 295.5 L649.4 293.7 L649.7 296.7 L650.1 303.4 L650.4 307.5 L650.7 299.5 L651.1 307.2 L651.4 306.8 L651.7 300.6 L652.1 300.1 L652.4 300.7 L652.7 300.8 L653.1 293.6 L653.4 297.8 L653.7 299.6 L654.1 299.3 L654.4 290.7 L654.7 293.7 L655.1 294.4 L655.4 305.4 L655.7 301.1 L656.1 307.8 L656.4 307.8 L656.7 299.5 L657.1 297.8 L657.4 303.4 L657.7 294.3 L658.1 304.5 L658.4 301.6 L658.7 296.9 L659.1 297.2 L659.4 300.0 L659.7 292.6 L660.1 297.9 L660.4 300.6 L660.7 302.9 L661.1 309.0 L661.4 298.4 L661.7 290.7 L662.1 282.7 L662.4 295.1 L662.7 278.5 L663.1 283.7 L663.4 274.9 L663.7 278.7 L664.1 278.8 L664.4 261.6 L664.7 268.2 L665.1 263.7 L665.4 241.8 L665.7 327.6 L666.1 274.6 L666.4 281.5 L666.7 267.7 L667.1 264.1 L667.4 266.2 L667.7 268.6 L668.1 256.8 L668.4 256.9 L668.7 260.3 L669.1 254.9 L669.4 267.4 L669.7 207.3 L670.1 256.0 L670.4 227.2 L670.7 253.4 L671.1 269.8 L671.4 266.4 L671.7 272.7 L672.1 269.6 L672.4 274.1 L672.7 272.6 L673.1 243.9 L673.4 274.4 L673.7 273.2 L674.1 264.6 L674.4 264.6 L674.7 243.3 L675.1 263.4 L675.4 263.0 L675.7 251.7 L676.1 237.4 L676.4 227.5 L676.7 225.8 L677.1 240.0 L677.4 247.8 L677.7 241.8 L678.1 237.4 L678.4 234.8 L678.7 248.1 L679.1 244.4 L679.4 244.0 L679.7 244.4 L680.1 248.0 L680.4 253.4 L680.7 262.4 L681.1 264.3 L681.4 252.4 L681.7 254.7 L682.1 250.1 L682.4 253.0 L682.7 249.4 L683.1 259.5 L683.4 259.4 L683.7 249.4 L684.1 254.8 L684.4 260.1 L684.7 256.2 L685.1 258.0 L685.4 256.2 L685.7 248.1 L686.1 251.5 L686.4 239.3 L686.7 247.1 L687.1 240.4 L687.4 238.8 L687.7 236.3 L688.1 243.2 L688.4 246.2 L688.7 240.0 L689.1 237.5 L689.4 231.2 L689.7 238.4 L690.1 235.8 L690.4 229.6 L690.7 228.8 L691.1 230.4 L691.4 223.3 L691.7 232.0 L692.1 235.0 L692.4 242.0 L692.7 244.2 L693.1 237.8 L693.4 235.2 L693.7 241.2 L694.1 233.0 L694.4 230.9 L694.7 231.7 L695.1 240.0 L695.4 241.4 L695.7 241.8 L696.1 235.9 L696.4 232.7 L696.7 234.8 L697.1 241.8 L697.4 239.0 L697.7 238.3 L698.1 235.0 L698.4 236.0 L698.7 226.1 L699.1 242.4 L699.4 240.4 L699.7 243.2 L700.1 244.9 L700.4 246.7 L700.7 244.5 L701.1 238.0 L701.4 245.5 L701.7 242.7 L702.1 235.3 L702.4 239.4 L702.7 232.2 L703.1 245.1 L703.4 230.2 L703.7 236.7 L704.1 236.5 L704.4 238.1 L704.8 241.8 L705.1 232.1 L705.4 250.1 L705.8 233.9 L706.1 239.1 L706.4 244.2 L706.8 229.3 L707.1 233.1 L707.4 245.6 L707.8 236.2 L708.1 233.7 L708.4 234.0 L708.8 230.4 L709.1 234.1 L709.4 237.1 L709.8 239.8 L710.1 235.7 L710.4 238.4 L710.8 235.0 L711.1 234.9 L711.4 229.9 L711.8 229.7 L712.1 228.9 L712.4 228.4 L712.8 221.0 L713.1 227.6 L713.4 231.2 L713.8 217.2 L714.1 227.7 L714.4 230.1 L714.8 230.2 L715.1 229.3 L715.4 225.0 L715.8 218.6 L716.1 212.4 L716.4 216.1 L716.8 217.1 L717.1 218.7 L717.4 222.6 L717.8 215.0 L718.1 223.2 L718.4 227.5 L718.8 215.9 L719.1 222.8 L719.4 217.8 L719.8 217.4 L720.1 224.0 L720.4 218.5 L720.8 218.8 L721.1 222.9 L721.4 216.3 L721.8 212.4 L722.1 215.1 L722.4 219.0 L722.8 219.5 L723.1 220.8 L723.4 221.6 L723.8 226.6 L724.1 221.9 L724.4 230.2 L724.8 224.2 L725.1 225.2 L725.4 228.4 L725.8 233.1 L726.1 224.9 L726.4 222.7 L726.8 226.3 L727.1 231.5 L727.4 227.8 L727.8 233.6 L728.1 228.8 L728.4 234.5 L728.8 233.8 L729.1 227.5 L729.4 233.5 L729.8 232.6 L730.1 234.5 L730.4 234.1 L730.8 235.4 L731.1 231.2 L731.4 244.1 L731.8 238.3 L732.1 236.9 L732.4 235.7 L732.8 236.8 L733.1 240.3 L733.4 235.4 L733.8 237.7 L734.1 229.3 L734.4 239.5 L734.8 243.3 L735.1 233.9 L735.4 236.2 L735.8 235.1 L736.1 233.1 L736.4 233.5 L736.8 240.1 L737.1 238.1 L737.4 243.3 L737.8 243.5 L738.1 237.3 L738.4 240.8 L738.8 246.1 L739.1 251.8 L739.4 247.3 L739.8 244.2 L740.1 250.6 L740.4 237.2 L740.8 243.8 L741.1 242.0 L741.4 242.1 L741.8 241.1 L742.1 238.7 L742.4 232.2 L742.8 236.9 L743.1 246.9 L743.4 243.2 L743.8 239.0 L744.1 232.8 L744.4 233.5 L744.8 233.1 L745.1 233.1 L745.4 237.7 L745.8 253.1 L746.1 246.5 L746.4 248.2 L746.8 249.2 L747.1 251.2 L747.4 246.3 L747.8 247.9 L748.1 250.4 L748.4 243.1 L748.8 247.4 L749.1 249.4 L749.4 243.6 L749.8 240.8 L750.1 237.3 L750.4 235.9 L750.8 238.1 L751.1 240.1 L751.4 236.1 L751.8 242.2 L752.1 245.6 L752.4 235.4 L752.8 236.9 L753.1 247.9 L753.4 239.1 L753.8 239.2 L754.1 234.1 L754.4 236.2 L754.8 237.9 L755.1 236.2 L755.4 242.9 L755.8 237.1 L756.1 235.8 L756.4 235.2 L756.8 231.8 L757.1 235.2 L757.4 240.4 L757.8 243.1 L758.1 240.8 L758.4 239.2 L758.8 240.4 L759.1 238.2 L759.4 245.6 L759.8 232.1 L760.1 245.9 L760.4 242.4 L760.8 238.7 L761.1 249.2 L761.4 239.3 L761.8 233.0 L762.1 236.5 L762.4 236.1 L762.8 235.7 L763.1 237.9 L763.4 234.1 L763.8 232.1 L764.1 240.8 L764.4 246.5 L764.8 236.0 L765.1 240.1 L765.4 245.0 L765.8 235.4 L766.1 237.8 L766.4 239.2 L766.8 236.6 L767.1 229.7 L767.4 232.0 L767.8 233.3 L768.1 233.5 L768.5 236.0 L768.8 232.5 L769.1 227.0 L769.5 233.4 L769.8 240.5 L770.1 231.8 L770.5 229.9 L770.8 235.0 L771.1 232.1 L771.5 227.4 L771.8 242.1 L772.1 242.3 L772.5 238.9 L772.8 234.3 L773.1 238.0 L773.5 233.7 L773.8 238.1 L774.1 240.7 L774.5 246.4 L774.8 239.4 L775.1 228.2 L775.5 230.5 L775.8 234.8 L776.1 236.4 L776.5 228.1 L776.8 233.4 L777.1 231.4 L777.5 229.1 L777.8 235.7 L778.1 237.2 L778.5 233.8 L778.8 233.7 L779.1 232.7 L779.5 234.8 L779.8 236.5 L780.1 242.9 L780.5 239.2 L780.8 242.6 L781.1 243.4 L781.5 234.7 L781.8 231.0 L782.1 235.1 L782.5 233.5 L782.8 238.1 L783.1 237.0 L783.5 238.0 L783.8 228.1 L784.1 234.8 L784.5 227.7 L784.8 228.7 L785.1 231.9 L785.5 228.4 L785.8 236.3 L786.1 233.4 L786.5 230.9 L786.8 233.4 L787.1 235.3 L787.5 234.0 L787.8 237.2 L788.1 240.8 L788.5 237.7 L788.8 240.6 L789.1 238.7 L789.5 235.8 L789.8 229.4 L790.1 233.2 L790.5 233.5 L790.8 234.0 L791.1 235.7 L791.5 237.3 L791.8 239.4 L792.1 226.4 L792.5 236.4 L792.8 232.9 L793.1 238.9 L793.5 241.3 L793.8 232.9 L794.1 234.1 L794.5 232.9 L794.8 230.1 L795.1 231.3 L795.5 228.2 L795.8 222.5 L796.1 228.4 L796.5 226.3 L796.8 233.1 L797.1 232.9 L797.5 225.4 L797.8 237.7 L798.1 239.1 L798.5 241.2 L798.8 239.1 L799.1 238.5 L799.5 235.5 L799.8 228.5 L800.1 230.2 L800.5 234.9 L800.8 232.9 L801.1 246.0 L801.5 240.5 L801.8 242.1 L802.1 246.6 L802.5 238.9 L802.8 238.8 L803.1 241.0 L803.5 241.0 L803.8 243.0 L804.1 248.9 L804.5 243.7 L804.8 238.2 L805.1 243.0 L805.5 240.9 L805.8 243.3 L806.1 233.7 L806.5 239.5 L806.8 235.2 L807.1 241.4 L807.5 239.1 L807.8 245.2 L808.1 249.4 L808.5 239.4 L808.8 247.9 L809.1 247.0 L809.5 251.1 L809.8 254.0 L810.1 250.1 L810.5 247.6 L810.8 248.0 L811.1 235.2 L811.5 242.5 L811.8 239.9 L812.1 248.7 L812.5 244.5 L812.8 248.3 L813.1 244.1 L813.5 244.1 L813.8 258.2 L814.1 249.5 L814.5 249.3 L814.8 236.8 L815.1 249.6 L815.5 251.9 L815.8 254.5 L816.1 254.8 L816.5 251.1 L816.8 250.6 L817.1 251.0 L817.5 240.1 L817.8 241.0 L818.1 237.0 L818.5 247.7 L818.8 241.5 L819.1 245.7 L819.5 239.6 L819.8 241.8 L820.1 241.7 L820.5 246.1 L820.8 247.5 L821.1 244.9 L821.5 241.6 L821.8 237.4 L822.1 245.3 L822.5 246.2 L822.8 248.4 L823.1 251.1 L823.5 247.2 L823.8 244.8 L824.1 256.2 L824.5 252.2 L824.8 254.1 L825.1 252.5 L825.5 244.6 L825.8 250.8 L826.1 256.9 L826.5 252.9 L826.8 250.2 L827.1 245.7 L827.5 249.5 L827.8 251.8 L828.1 255.6 L828.5 258.8 L828.8 258.0 L829.1 249.8 L829.5 254.4 L829.8 259.9 L830.1 258.6 L830.5 250.7 L830.8 248.0 L831.1 244.0 L831.5 245.8 L831.8 250.9 L832.1 248.7 L832.5 247.2 L832.8 243.4 L833.2 247.8 L833.5 254.4 L833.8 243.7 L834.2 255.3 L834.5 254.0 L834.8 247.8 L835.2 246.8 L835.5 245.6 L835.8 239.4 L836.2 247.6 L836.5 251.2 L836.8 240.9 L837.2 252.0 L837.5 249.4 L837.8 238.5 L838.2 243.5 L838.5 240.1 L838.8 238.3 L839.2 236.9 L839.5 238.4 L839.8 249.1 L840.2 244.7 L840.5 243.7 L840.8 247.3 L841.2 236.1 L841.5 233.2 L841.8 241.4 L842.2 240.6 L842.5 232.7 L842.8 240.4 L843.2 236.7 L843.5 236.0 L843.8 233.9 L844.2 246.9 L844.5 245.4 L844.8 246.8 L845.2 245.8 L845.5 251.3 L845.8 248.1 L846.2 245.5 L846.5 248.4 L846.8 248.7 L847.2 246.8 L847.5 245.4 L847.8 249.1 L848.2 243.8 L848.5 243.3 L848.8 247.6 L849.2 248.5 L849.5 243.0 L849.8 245.1 L850.2 246.4 L850.5 243.6 L850.8 244.2 L851.2 241.1 L851.5 244.7 L851.8 251.3 L852.2 245.6 L852.5 234.6 L852.8 231.9 L853.2 230.9 L853.5 231.8 L853.8 232.2 L854.2 243.0 L854.5 233.3 L854.8 233.3 L855.2 240.2 L855.5 235.7 L855.8 236.6 L856.2 240.7 L856.5 232.1 L856.8 228.1 L857.2 230.1 L857.5 232.0 L857.8 231.5 L858.2 237.5 L858.5 240.5 L858.8 236.9 L859.2 235.5 L859.5 229.1 L859.8 232.5 L860.2 232.5 L860.5 233.0 L860.8 240.2 L861.2 242.0 L861.5 241.7 L861.8 239.9 L862.2 241.6 L862.5 242.4 L862.8 239.1 L863.2 245.2 L863.5 240.8 L863.8 239.4 L864.2 244.9 L864.5 241.9" stroke="#2ca02c"/>
<path d="M159.8 270.7 L160.1 295.8 L160.5 283.2 L160.8 281.2 L161.1 282.1 L161.5 276.9 L161.8 276.3 L162.1 288.7 L162.5 282.3 L162.8 289.4 L163.1 286.2 L163.5 286.2 L163.8 286.3 L164.1 282.7 L164.5 280.2 L164.8 281.7 L165.1 278.4 L165.5 276.7 L165.8 272.8 L166.1 275.4 L166.5 278.3 L166.8 271.8 L167.1 286.6 L167.5 280.9 L167.8 282.7 L168.1 273.3 L168.5 275.6 L168.8 271.8 L169.1 274.4 L169.5 279.5 L169.8 282.1 L170.1 285.8 L170.5 290.6 L170.8 282.9 L171.1 284.9 L171.5 274.1 L171.8 280.9 L172.1 284.5 L172.5 285.2 L172.8 279.7 L173.1 280.3 L173.5 281.2 L173.8 287.6 L174.1 285.3 L174.5 280.4 L174.8 270.9 L175.1 269.7 L175.5 269.7 L175.8 278.1 L176.1 272.1 L176.5 281.4 L176.8 280.8 L177.1 280.8 L177.5 286.5 L177.8 289.5 L178.1 287.7 L178.5 287.0 L178.8 275.7 L179.1 269.7 L179.5 270.8 L179.8 277.3 L180.1 279.3 L180.5 270.1 L180.8 269.7 L181.1 274.5 L181.5 278.2 L181.8 278.1 L182.1 290.2 L182.5 289.9 L182.8 290.2 L183.1 284.1 L183.5 283.6 L183.8 283.0 L184.1 279.7 L184.5 282.0 L184.8 273.8 L185.1 269.8 L185.5 276.7 L185.8 276.8 L186.1 280.3 L186.5 282.9 L186.8 286.9 L187.1 273.8 L187.5 276.6 L187.8 274.1 L188.1 269.7 L188.5 275.3 L188.8 276.7 L189.1 276.7 L189.5 275.6 L189.8 279.4 L190.1 277.4 L190.5 272.2 L190.8 269.7 L191.1 269.9 L191.5 274.2 L191.8 281.9 L192.2 280.3 L192.5 274.9 L192.8 290.1 L193.2 290.5 L193.5 289.7 L193.8 287.1 L194.2 282.3 L194.5 275.1 L194.8 277.3 L195.2 280.1 L195.5 277.8 L195.8 275.2 L196.2 277.0 L196.5 274.8 L196.8 279.0 L197.2 281.1 L197.5 282.5 L197.8 289.0 L198.2 281.8 L198.5 286.4 L198.8 280.2 L199.2 283.7 L199.5 290.0 L199.8 292.8 L200.2 286.8 L200.5 282.8 L200.8 283.0 L201.2 281.5 L201.5 283.4 L201.8 281.9 L202.2 283.2 L202.5 287.8 L202.8 284.0 L203.2 281.8 L203.5 285.1 L203.8 287.6 L204.2 279.3 L204.5 277.2 L204.8 279.2 L205.2 277.8 L205.5 282.9 L205.8 281.3 L206.2 282.5 L206.5 274.5 L206.8 280.7 L207.2 276.6 L207.5 273.7 L207.8 291.2 L208.2 287.3 L208.5 281.3 L208.8 281.1 L209.2 281.7 L209.5 284.4 L209.8 283.0 L210.2 280.0 L210.5 278.0 L210.8 274.1 L211.2 281.2 L211.5 272.3 L211.8 273.1 L212.2 276.0 L212.5 274.6 L212.8 273.4 L213.2 285.0 L213.5 288.4 L213.8 280.4 L214.2 280.0 L214.5 274.3 L214.8 282.7 L215.2 281.2 L215.5 277.1 L215.8 286.0 L216.2 285.3 L216.5 281.9 L216.8 291.4 L217.2 291.4 L217.5 291.3 L217.8 289.0 L218.2 280.7 L218.5 284.4 L218.8 285.1 L219.2 281.7 L219.5 280.6 L219.8 279.3 L220.2 273.5 L220.5 279.5 L220.8 274.5 L221.2 275.4 L221.5 280.3 L221.8 287.6 L222.2 286.9 L222.5 271.3 L222.8 282.4 L223.2 287.2 L223.5 287.2 L223.8 279.9 L224.2 274.0 L224.5 275.9 L224.8 273.2 L225.2 278.9 L225.5 271.7 L225.8 272.9 L226.2 267.2 L226.5 272.5 L226.8 272.0 L227.2 283.8 L227.5 287.7 L227.8 277.3 L228.2 275.9 L228.5 275.9 L228.8 286.7 L229.2 276.5 L229.5 276.6 L229.8 276.2 L230.2 277.9 L230.5 284.2 L230.8 280.3 L231.2 279.5 L231.5 274.9 L231.8 279.8 L232.2 274.4 L232.5 272.2 L232.8 271.9 L233.2 274.3 L233.5 273.5 L233.8 283.1 L234.2 277.8 L234.5 289.1 L234.8 284.6 L235.2 282.3 L235.5 278.1 L235.8 280.3 L236.2 281.1 L236.5 284.0 L236.8 284.0 L237.2 289.4 L237.5 284.8 L237.8 286.2 L238.2 276.1 L238.5 275.3 L238.8 277.3 L239.2 273.8 L239.5 278.7 L239.8 275.3 L240.2 276.9 L240.5 273.5 L240.8 270.4 L241.2 268.2 L241.5 272.9 L241.8 276.1 L242.2 280.4 L242.5 278.7 L242.8 276.6 L243.2 278.2 L243.5 275.4 L243.8 277.7 L244.2 277.0 L244.5 272.8 L244.8 277.1 L245.2 278.7 L245.5 282.4 L245.8 265.0 L246.2 275.2 L246.5 271.7 L246.8 276.5 L247.2 275.1 L247.5 276.7 L247.8 283.8 L248.2 274.0 L248.5 273.4 L248.8 277.9 L249.2 272.8 L249.5 269.7 L249.8 270.5 L250.2 262.4 L250.5 261.9 L250.8 269.7 L251.2 262.9 L251.5 259.4 L251.8 266.7 L252.2 255.0 L252.5 256.5 L252.8 256.7 L253.2 255.6 L253.5 271.6 L253.8 252.6 L254.2 269.1 L254.5 263.7 L254.8 262.9 L255.2 262.7 L255.5 257.7 L255.8 263.8 L256.2 257.9 L256.5 250.9 L256.9 253.2 L257.2 245.1 L257.5 250.1 L257.9 256.9 L258.2 249.3 L258.5 251.2 L258.9 242.7 L259.2 245.3 L259.5 247.6 L259.9 245.3 L260.2 252.3 L260.5 242.5 L260.9 240.3 L261.2 234.3 L261.5 239.0 L261.9 235.4 L262.2 235.4 L262.5 227.8 L262.9 236.1 L263.2 241.8 L263.5 248.8 L263.9 245.1 L264.2 246.0 L264.5 246.7 L264.9 233.7 L265.2 239.0 L265.5 243.9 L265.9 241.7 L266.2 239.5 L266.5 240.6 L266.9 253.4 L267.2 246.7 L267.5 240.5 L267.9 247.8 L268.2 235.5 L268.5 241.6 L268.9 238.8 L269.2 244.0 L269.5 241.5 L269.9 238.1 L270.2 238.0 L270.5 238.1 L270.9 239.1 L271.2 238.9 L271.5 233.4 L271.9 241.0 L272.2 240.7 L272.5 244.7 L272.9 243.1 L273.2 248.6 L273.5 259.9 L273.9 262.2 L274.2 266.4 L274.5 264.4 L274.9 264.5 L275.2 259.3 L275.5 254.1 L275.9 263.1 L276.2 261.2 L276.5 258.3 L276.9 261.8 L277.2 259.9 L277.5 261.0 L277.9 261.3 L278.2 255.3 L278.5 259.4 L278.9 259.7 L279.2 263.8 L279.5 266.1 L279.9 270.6 L280.2 260.2 L280.5 270.0 L280.9 247.9 L281.2 250.6 L281.5 262.1 L281.9 246.8 L282.2 261.2 L282.5 257.0 L282.9 258.6 L283.2 259.3 L283.5 264.1 L283.9 275.3 L284.2 283.6 L284.5 281.6 L284.9 274.4 L285.2 275.8 L285.5 266.6 L285.9 273.9 L286.2 269.8 L286.5 266.7 L286.9 275.4 L287.2 274.3 L287.5 272.2 L287.9 272.0 L288.2 282.4 L288.5 279.9 L288.9 279.7 L289.2 273.8 L289.5 272.2 L289.9 274.2 L290.2 274.3 L290.5 275.2 L290.9 277.2 L291.2 275.5 L291.5 275.7 L291.9 259.6 L292.2 268.4 L292.5 266.8 L292.9 260.1 L293.2 261.3 L293.5 257.7 L293.9 265.1 L294.2 253.2 L294.5 256.3 L294.9 255.5 L295.2 261.4 L295.5 277.0 L295.9 264.7 L296.2 260.7 L296.5 254.0 L296.9 269.3 L297.2 261.2 L297.5 275.4 L297.9 269.6 L298.2 269.4 L298.5 266.0 L298.9 265.2 L299.2 270.3 L299.5 268.9 L299.9 277.3 L300.2 274.7 L300.5 266.1 L300.9 259.9 L301.2 260.3 L301.5 258.8 L301.9 255.7 L302.2 261.5 L302.5 260.2 L302.9 263.2 L303.2 268.6 L303.5 271.8 L303.9 270.6 L304.2 255.4 L304.5 260.8 L304.9 262.7 L305.2 255.5 L305.5 251.0 L305.9 259.8 L306.2 253.8 L306.5 252.4 L306.9 259.1 L307.2 259.4 L307.5 264.6 L307.9 261.9 L308.2 253.1 L308.5 253.1 L308.9 255.3 L309.2 255.8 L309.5 257.5 L309.9 243.3 L310.2 244.4 L310.5 251.9 L310.9 245.3 L311.2 253.7 L311.5 252.3 L311.9 270.0 L312.2 269.8 L312.5 267.3 L312.9 267.8 L313.2 264.6 L313.5 255.1 L313.9 256.1 L314.2 252.3 L314.5 253.6 L314.9 252.4 L315.2 246.5 L315.5 250.7 L315.9 257.6 L316.2 260.2 L316.5 266.7 L316.9 263.1 L317.2 257.3 L317.5 249.4 L317.9 257.9 L318.2 264.0 L318.5 260.7 L318.9 264.8 L319.2 259.7 L319.5 256.6 L319.9 258.4 L320.2 261.4 L320.6 261.5 L320.9 258.7 L321.2 266.2 L321.6 249.6 L321.9 255.2 L322.2 259.5 L322.6 258.4 L322.9 265.4 L323.2 265.7 L323.6 254.8 L323.9 250.8 L324.2 259.9 L324.6 259.1 L324.9 254.4 L325.2 259.0 L325.6 250.1 L325.9 248.2 L326.2 253.6 L326.6 259.3 L326.9 251.5 L327.2 251.4 L327.6 250.9 L327.9 247.0 L328.2 245.0 L328.6 258.9 L328.9 271.9 L329.2 261.9 L329.6 256.4 L329.9 255.7 L330.2 260.5 L330.6 258.3 L330.9 261.5 L331.2 256.6 L331.6 265.2 L331.9 253.0 L332.2 251.3 L332.6 261.6 L332.9 236.1 L333.2 255.8 L333.6 259.6 L333.9 252.8 L334.2 254.8 L334.6 258.1 L334.9 253.4 L335.2 267.5 L335.6 256.3 L335.9 264.5 L336.2 264.8 L336.6 258.4 L336.9 258.3 L337.2 255.7 L337.6 254.7 L337.9 258.2 L338.2 245.5 L338.6 240.6 L338.9 249.0 L339.2 254.6 L339.6 248.0 L339.9 250.7 L340.2 252.0 L340.6 261.5 L340.9 247.9 L341.2 247.9 L341.6 250.8 L341.9 246.4 L342.2 247.2 L342.6 239.7 L342.9 249.8 L343.2 242.9 L343.6 245.3 L343.9 237.8 L344.2 244.4 L344.6 255.4 L344.9 254.1 L345.2 249.4 L345.6 244.5 L345.9 246.5 L346.2 242.8 L346.6 240.3 L346.9 243.5 L347.2 255.4 L347.6 247.3 L347.9 246.5 L348.2 250.1 L348.6 257.4 L348.9 245.1 L349.2 256.0 L349.6 255.4 L349.9 256.3 L350.2 261.4 L350.6 259.9 L350.9 250.9 L351.2 251.5 L351.6 250.8 L351.9 244.9 L352.2 257.0 L352.6 242.9 L352.9 252.0 L353.2 248.5 L353.6 251.9 L353.9 244.3 L354.2 249.8 L354.6 254.4 L354.9 259.8 L355.2 250.3 L355.6 252.2 L355.9 254.8 L356.2 259.9 L356.6 245.7 L356.9 256.2 L357.2 250.5 L357.6 255.0 L357.9 254.3 L358.2 262.3 L358.6 254.4 L358.9 250.7 L359.2 247.8 L359.6 251.6 L359.9 248.7 L360.2 256.8 L360.6 258.7 L360.9 246.6 L361.2 249.0 L361.6 250.7 L361.9 250.0 L362.2 253.8 L362.6 253.3 L362.9 260.5 L363.2 247.0 L363.6 246.3 L363.9 251.9 L364.2 259.3 L364.6 256.6 L364.9 253.5 L365.2 258.9 L365.6 264.7 L365.9 263.7 L366.2 263.9 L366.6 264.3 L366.9 258.1 L367.2 259.5 L367.6 258.9 L367.9 259.5 L368.2 258.6 L368.6 268.0 L368.9 260.6 L369.2 265.0 L369.6 267.7 L369.9 265.2 L370.2 270.0 L370.6 271.9 L370.9 267.9 L371.2 267.4 L371.6 268.5 L371.9 268.1 L372.2 269.9 L372.6 270.2 L372.9 276.1 L373.2 273.1 L373.6 273.9 L373.9 267.3 L374.2 268.0 L374.6 268.0 L374.9 272.1 L375.2 266.9 L375.6 262.7 L375.9 272.6 L376.2 265.0 L376.6 274.5 L376.9 272.9 L377.2 275.2 L377.6 271.1 L377.9 271.3 L378.2 261.0 L378.6 265.3 L378.9 264.0 L379.2 262.2 L379.6 272.7 L379.9 270.5 L380.2 273.2 L380.6 273.5 L380.9 277.1 L381.2 278.8 L381.6 274.2 L381.9 272.6 L382.2 275.2 L382.6 273.6 L382.9 270.4 L383.2 270.7 L383.6 280.8 L383.9 278.0 L384.3 280.8 L384.6 268.5 L384.9 272.8 L385.3 276.7 L385.6 274.5 L385.9 280.0 L386.3 268.4 L386.6 272.2 L386.9 281.0 L387.3 273.9 L387.6 278.2 L387.9 274.9 L388.3 273.9 L388.6 277.7 L388.9 275.6 L389.3 270.5 L389.6 271.1 L389.9 265.9 L390.3 273.2 L390.6 275.6 L390.9 269.6 L391.3 267.4 L391.6 273.3 L391.9 276.4 L392.3 276.7 L392.6 283.4 L392.9 274.4 L393.3 283.9 L393.6 267.9 L393.9 273.1 L394.3 273.0 L394.6 272.2 L394.9 283.7 L395.3 274.5 L395.6 279.2 L395.9 274.1 L396.3 281.7 L396.6 269.1 L396.9 278.2 L397.3 278.3 L397.6 281.9 L397.9 282.1 L398.3 283.1 L398.6 281.8 L398.9 275.9 L399.3 267.0 L399.6 270.3 L399.9 268.1 L400.3 267.7 L400.6 269.6 L400.9 268.0 L401.3 269.7 L401.6 275.0 L401.9 271.8 L402.3 267.3 L402.6 262.5 L402.9 267.9 L403.3 266.6 L403.6 267.9 L403.9 267.1 L404.3 274.2 L404.6 275.8 L404.9 280.6 L405.3 282.0 L405.6 273.8 L405.9 270.2 L406.3 278.2 L406.6 286.1 L406.9 290.2 L407.3 277.4 L407.6 282.3 L407.9 275.7 L408.3 285.7 L408.6 280.9 L408.9 277.9 L409.3 285.3 L409.6 284.0 L409.9 276.0 L410.3 273.7 L410.6 271.6 L410.9 272.2 L411.3 276.7 L411.6 272.3 L411.9 275.9 L412.3 277.4 L412.6 284.8 L412.9 285.2 L413.3 289.4 L413.6 280.8 L413.9 276.6 L414.3 285.2 L414.6 269.7 L414.9 274.0 L415.3 272.7 L415.6 277.4 L415.9 275.8 L416.3 283.0 L416.6 278.0 L416.9 282.2 L417.3 278.5 L417.6 277.0 L417.9 275.6 L418.3 279.0 L418.6 274.9 L418.9 286.4 L419.3 285.5 L419.6 285.5 L419.9 286.5 L420.3 278.1 L420.6 269.4 L420.9 279.1 L421.3 276.8 L421.6 287.6 L421.9 285.1 L422.3 283.9 L422.6 280.9 L422.9 273.0 L423.3 284.1 L423.6 274.8 L423.9 269.6 L424.3 273.4 L424.6 273.5 L424.9 275.3 L425.3 280.2 L425.6 286.1 L425.9 280.2 L426.3 280.9 L426.6 276.9 L426.9 273.3 L427.3 278.4 L427.6 273.1 L427.9 278.2 L428.3 278.0 L428.6 275.2 L428.9 278.6 L429.3 278.7 L429.6 279.5 L429.9 273.9 L430.3 283.1 L430.6 288.5 L430.9 288.6 L431.3 290.0 L431.6 290.0 L431.9 290.0 L432.3 289.9 L432.6 289.9 L432.9 287.4 L433.3 282.0 L433.6 279.9 L433.9 269.9 L434.3 277.9 L434.6 271.9 L434.9 275.6 L435.3 283.8 L435.6 276.7 L435.9 280.4 L436.3 277.7 L436.6 286.9 L436.9 279.4 L437.3 273.8 L437.6 274.2 L437.9 269.4 L438.3 273.7 L438.6 275.6 L438.9 272.9 L439.3 275.9 L439.6 273.6 L439.9 281.2 L440.3 281.9 L440.6 267.6 L440.9 274.9 L441.3 278.3 L441.6 270.0 L441.9 265.9 L442.3 269.9 L442.6 268.4 L442.9 273.0 L443.3 271.1 L443.6 269.2 L443.9 279.2 L444.3 275.5 L444.6 272.5 L444.9 272.8 L445.3 272.1 L445.6 275.4 L445.9 274.5 L446.3 274.6 L446.6 283.4 L446.9 285.0 L447.3 284.4 L447.6 278.3 L447.9 279.7 L448.3 283.3 L448.6 286.2 L449.0 276.6 L449.3 273.6 L449.6 273.4 L450.0 282.9 L450.3 276.5 L450.6 278.1 L451.0 280.6 L451.3 289.4 L451.6 275.5 L452.0 278.9 L452.3 275.6 L452.6 274.0 L453.0 271.8 L453.3 272.9 L453.6 274.5 L454.0 276.2 L454.3 282.7 L454.6 276.1 L455.0 284.9 L455.3 276.7 L455.6 271.5 L456.0 273.7 L456.3 277.5 L456.6 277.2 L457.0 278.0 L457.3 269.2 L457.6 269.7 L458.0 283.0 L458.3 275.6 L458.6 281.5 L459.0 276.0 L459.3 277.0 L459.6 276.3 L460.0 278.7 L460.3 273.4 L460.6 275.8 L461.0 277.2 L461.3 279.7 L461.6 272.0 L462.0 276.8 L462.3 275.6 L462.6 276.8 L463.0 273.7 L463.3 274.1 L463.6 275.4 L464.0 277.1 L464.3 277.8 L464.6 277.7 L465.0 281.5 L465.3 274.3 L465.6 281.3 L466.0 278.9 L466.3 277.3 L466.6 272.2 L467.0 279.2 L467.3 275.6 L467.6 279.4 L468.0 284.0 L468.3 283.1 L468.6 289.7 L469.0 285.9 L469.3 288.5 L469.6 282.7 L470.0 279.7 L470.3 276.1 L470.6 276.3 L471.0 275.6 L471.3 272.1 L471.6 277.8 L472.0 286.6 L472.3 285.2 L472.6 276.3 L473.0 274.1 L473.3 278.3 L473.6 277.2 L474.0 275.5 L474.3 278.1 L474.6 285.2 L475.0 285.3 L475.3 281.7 L475.6 283.5 L476.0 276.2 L476.3 275.0 L476.6 277.0 L477.0 277.3 L477.3 275.2 L477.6 275.7 L478.0 270.4 L478.3 266.5 L478.6 273.7 L479.0 271.0 L479.3 266.6 L479.6 269.9 L480.0 273.0 L480.3 274.6 L480.6 278.3 L481.0 279.0 L481.3 277.6 L481.6 275.4 L482.0 288.6 L482.3 283.8 L482.6 284.5 L483.0 283.4 L483.3 277.9 L483.6 280.4 L484.0 279.1 L484.3 287.9 L484.6 280.6 L485.0 273.5 L485.3 266.7 L485.6 275.3 L486.0 276.9 L486.3 276.7 L486.6 272.9 L487.0 269.5 L487.3 273.0 L487.6 273.1 L488.0 273.2 L488.3 270.7 L488.6 276.8 L489.0 276.1 L489.3 274.2 L489.6 275.5 L490.0 277.2 L490.3 276.7 L490.6 269.7 L491.0 275.3 L491.3 286.1 L491.6 280.9 L492.0 279.3 L492.3 283.2 L492.6 277.3 L493.0 283.0 L493.3 280.4 L493.6 277.6 L494.0 275.5 L494.3 273.7 L494.6 272.0 L495.0 273.4 L495.3 278.6 L495.6 275.7 L496.0 276.6 L496.3 275.5 L496.6 276.5 L497.0 274.6 L497.3 278.6 L497.6 270.8 L498.0 273.0 L498.3 273.1 L498.6 276.9 L499.0 279.8 L499.3 278.6 L499.6 280.4 L500.0 275.5 L500.3 272.8 L500.6 276.5 L501.0 274.3 L501.3 277.2 L501.6 269.1 L502.0 272.9 L502.3 276.9 L502.6 274.7 L503.0 277.9 L503.3 271.2 L503.6 272.7 L504.0 272.5 L504.3 275.4 L504.6 268.0 L505.0 263.0 L505.3 263.9 L505.6 266.9 L506.0 268.3 L506.3 270.1 L506.6 272.9 L507.0 267.5 L507.3 267.3 L507.6 274.2 L508.0 276.8 L508.3 270.8 L508.6 264.3 L509.0 266.8 L509.3 267.1 L509.6 268.6 L510.0 266.5 L510.3 271.8 L510.6 270.7 L511.0 275.1 L511.3 278.8 L511.6 266.7 L512.0 270.6 L512.3 269.3 L512.7 260.0 L513.0 269.8 L513.3 269.7 L513.7 264.4 L514.0 267.1 L514.3 266.8 L514.7 275.2 L515.0 259.3 L515.3 266.1 L515.7 266.2 L516.0 261.7 L516.3 270.9 L516.7 267.8 L517.0 271.2 L517.3 265.1 L517.7 268.1 L518.0 267.0 L518.3 270.1 L518.7 271.3 L519.0 266.6 L519.3 260.9 L519.7 257.2 L520.0 259.7 L520.3 257.0 L520.7 262.1 L521.0 264.3 L521.3 263.6 L521.7 274.2 L522.0 262.7 L522.3 268.4 L522.7 268.1 L523.0 266.1 L523.3 273.1 L523.7 277.8 L524.0 272.8 L524.3 273.0 L524.7 268.4 L525.0 266.3 L525.3 267.2 L525.7 266.3 L526.0 264.9 L526.3 265.1 L526.7 269.6 L527.0 256.5 L527.3 268.0 L527.7 276.1 L528.0 274.3 L528.3 274.1 L528.7 264.3 L529.0 267.9 L529.3 259.5 L529.7 255.7 L530.0 261.3 L530.3 261.2 L530.7 261.0 L531.0 265.3 L531.3 255.0 L531.7 265.4 L532.0 261.5 L532.3 260.1 L532.7 259.6 L533.0 253.6 L533.3 254.7 L533.7 260.1 L534.0 259.8 L534.3 260.8 L534.7 269.1 L535.0 269.9 L535.3 273.3 L535.7 271.8 L536.0 264.6 L536.3 268.9 L536.7 264.7 L537.0 266.1 L537.3 264.6 L537.7 260.6 L538.0 258.2 L538.3 268.5 L538.7 258.8 L539.0 263.7 L539.3 260.9 L539.7 260.5 L540.0 260.0 L540.3 269.3 L540.7 267.6 L541.0 270.2 L541.3 269.3 L541.7 272.7 L542.0 269.5 L542.3 269.3 L542.7 269.0 L543.0 269.3 L543.3 259.2 L543.7 257.6 L544.0 263.5 L544.3 263.3 L544.7 261.8 L545.0 264.5 L545.3 263.2 L545.7 266.3 L546.0 264.2 L546.3 275.6 L546.7 264.4 L547.0 259.1 L547.3 259.6 L547.7 264.7 L548.0 264.0 L548.3 266.9 L548.7 267.0 L549.0 268.0 L549.3 260.9 L549.7 263.4 L550.0 268.4 L550.3 275.5 L550.7 257.2 L551.0 259.4 L551.3 275.5 L551.7 264.9 L552.0 260.0 L552.3 264.3 L552.7 258.8 L553.0 258.3 L553.3 252.1 L553.7 252.3 L554.0 252.1 L554.3 254.0 L554.7 254.5 L555.0 262.9 L555.3 259.4 L555.7 266.5 L556.0 267.8 L556.3 263.3 L556.7 264.5 L557.0 264.0 L557.3 265.9 L557.7 265.3 L558.0 258.6 L558.3 268.2 L558.7 265.7 L559.0 267.1 L559.3 256.5 L559.7 267.0 L560.0 264.8 L560.3 261.3 L560.7 266.0 L561.0 261.7 L561.3 251.8 L561.7 256.7 L562.0 256.0 L562.3 257.1 L562.7 254.0 L563.0 257.6 L563.3 261.4 L563.7 260.1 L564.0 266.3 L564.3 263.9 L564.7 265.0 L565.0 267.9 L565.3 259.9 L565.7 273.5 L566.0 268.0 L566.3 268.1 L566.7 260.6 L567.0 259.1 L567.3 267.1 L567.7 264.5 L568.0 267.1 L568.3 263.9 L568.7 269.2 L569.0 270.0 L569.3 270.5 L569.7 269.2 L570.0 266.8 L570.3 265.0 L570.7 264.6 L571.0 261.9 L571.3 265.5 L571.7 270.7 L572.0 265.0 L572.3 271.8 L572.7 269.0 L573.0 269.8 L573.3 270.3 L573.7 260.8 L574.0 264.2 L574.3 260.9 L574.7 258.7 L575.0 260.4 L575.3 262.6 L575.7 265.0 L576.0 263.2 L576.4 266.4 L576.7 263.8 L577.0 263.4 L577.4 268.5 L577.7 269.1 L578.0 257.5 L578.4 261.3 L578.7 267.5 L579.0 255.5 L579.4 256.3 L579.7 257.5 L580.0 259.8 L580.4 256.9 L580.7 268.4 L581.0 265.9 L581.4 263.0 L581.7 260.0 L582.0 254.7 L582.4 263.0 L582.7 265.8 L583.0 270.0 L583.4 266.0 L583.7 259.7 L584.0 267.8 L584.4 264.6 L584.7 274.3 L585.0 265.3 L585.4 264.0 L585.7 266.0 L586.0 267.3 L586.4 267.4 L586.7 266.0 L587.0 265.9 L587.4 269.7 L587.7 259.8 L588.0 268.5 L588.4 265.0 L588.7 261.5 L589.0 266.2 L589.4 265.3 L589.7 262.2 L590.0 262.2 L590.4 262.3 L590.7 266.8 L591.0 259.1 L591.4 259.6 L591.7 270.8 L592.0 265.6 L592.4 262.7 L592.7 260.3 L593.0 264.8 L593.4 265.0 L593.7 269.2 L594.0 260.3 L594.4 260.3 L594.7 267.5 L595.0 260.8 L595.4 260.2 L595.7 256.4 L596.0 262.1 L596.4 253.2 L596.7 261.2 L597.0 255.7 L597.4 251.9 L597.7 270.6 L598.0 267.8 L598.4 262.8 L598.7 265.4 L599.0 260.2 L599.4 260.6 L599.7 260.0 L600.0 267.1 L600.4 268.4 L600.7 262.7 L601.0 264.0 L601.4 272.5 L601.7 271.7 L602.0 263.4 L602.4 264.5 L602.7 265.8 L603.0 263.2 L603.4 262.4 L603.7 259.5 L604.0 263.5 L604.4 260.0 L604.7 265.1 L605.0 258.3 L605.4 264.1 L605.7 254.6 L606.0 269.2 L606.4 257.3 L606.7 263.6 L607.0 268.3 L607.4 263.3 L607.7 255.5 L608.0 272.1 L608.4 256.9 L608.7 258.1 L609.0 260.9 L609.4 266.2 L609.7 263.9 L610.0 260.0 L610.4 266.2 L610.7 252.5 L611.0 260.2 L611.4 268.9 L611.7 261.5 L612.0 261.3 L612.4 261.2 L612.7 259.7 L613.0 252.5 L613.4 248.7 L613.7 253.4 L614.0 253.5 L614.4 259.2 L614.7 261.7 L615.0 259.2 L615.4 250.6 L615.7 268.6 L616.0 259.9 L616.4 257.2 L616.7 258.5 L617.0 259.7 L617.4 257.5 L617.7 256.1 L618.0 256.4 L618.4 258.6 L618.7 253.6 L619.0 259.8 L619.4 252.8 L619.7 250.1 L620.0 258.2 L620.4 255.1 L620.7 258.1 L621.0 247.8 L621.4 252.0 L621.7 258.0 L622.0 258.9 L622.4 263.4 L622.7 264.1 L623.0 257.4 L623.4 255.0 L623.7 265.4 L624.0 255.7 L624.4 256.8 L624.7 252.9 L625.0 254.2 L625.4 261.5 L625.7 267.7 L626.0 263.4 L626.4 250.5 L626.7 257.4 L627.0 250.7 L627.4 246.1 L627.7 250.2 L628.0 253.7 L628.4 258.5 L628.7 256.0 L629.0 256.1 L629.4 261.1 L629.7 258.5 L630.0 251.1 L630.4 259.2 L630.7 252.4 L631.0 252.9 L631.4 258.4 L631.7 257.3 L632.0 257.8 L632.4 248.3 L632.7 254.3 L633.0 250.6 L633.4 252.9 L633.7 257.1 L634.0 253.7 L634.4 255.7 L634.7 261.2 L635.0 254.8 L635.4 254.4 L635.7 259.0 L636.0 251.6 L636.4 250.2 L636.7 253.1 L637.0 251.4 L637.4 253.6 L637.7 254.4 L638.0 260.9 L638.4 267.1 L638.7 264.4 L639.0 258.8 L639.4 263.3 L639.7 259.1 L640.0 266.6 L640.4 262.2 L640.7 259.8 L641.1 260.6 L641.4 251.2 L641.7 253.7 L642.1 256.0 L642.4 256.6 L642.7 255.3 L643.1 260.9 L643.4 260.0 L643.7 258.0 L644.1 258.5 L644.4 266.5 L644.7 260.8 L645.1 264.5 L645.4 259.3 L645.7 263.7 L646.1 258.7 L646.4 255.6 L646.7 249.8 L647.1 255.8 L647.4 252.5 L647.7 257.4 L648.1 264.2 L648.4 257.0 L648.7 259.0 L649.1 256.0 L649.4 260.9 L649.7 251.6 L650.1 257.3 L650.4 249.4 L650.7 243.9 L651.1 242.9 L651.4 243.1 L651.7 247.9 L652.1 249.2 L652.4 251.5 L652.7 254.3 L653.1 260.9 L653.4 256.3 L653.7 253.9 L654.1 253.9 L654.4 255.8 L654.7 261.1 L655.1 259.8 L655.4 242.8 L655.7 245.8 L656.1 250.6 L656.4 267.3 L656.7 254.8 L657.1 259.6 L657.4 252.0 L657.7 255.3 L658.1 256.7 L658.4 258.6 L658.7 257.9 L659.1 256.6 L659.4 251.7 L659.7 251.9 L660.1 245.1 L660.4 262.8 L660.7 256.3 L661.1 258.0 L661.4 253.7 L661.7 250.1 L662.1 241.8 L662.4 248.7 L662.7 258.4 L663.1 246.3 L663.4 249.0 L663.7 259.3 L664.1 249.2 L664.4 250.1 L664.7 256.3 L665.1 262.9 L665.4 254.7 L665.7 246.9 L666.1 244.0 L666.4 242.7 L666.7 252.1 L667.1 249.3 L667.4 249.4 L667.7 244.0 L668.1 243.9 L668.4 247.5 L668.7 250.5 L669.1 252.8 L669.4 243.9 L669.7 245.9 L670.1 249.7 L670.4 251.1 L670.7 246.7 L671.1 243.7 L671.4 248.5 L671.7 252.4 L672.1 256.7 L672.4 259.4 L672.7 256.8 L673.1 256.6 L673.4 254.2 L673.7 262.2 L674.1 259.7 L674.4 258.8 L674.7 266.0 L675.1 267.8 L675.4 263.8 L675.7 256.5 L676.1 257.6 L676.4 259.6 L676.7 252.5 L677.1 239.2 L677.4 242.6 L677.7 249.7 L678.1 241.7 L678.4 238.9 L678.7 240.9 L679.1 243.0 L679.4 240.2 L679.7 247.6 L680.1 253.7 L680.4 251.8 L680.7 253.2 L681.1 256.6 L681.4 253.7 L681.7 245.4 L682.1 241.8 L682.4 251.8 L682.7 260.7 L683.1 257.6 L683.4 260.6 L683.7 262.3 L684.1 256.7 L684.4 266.9 L684.7 257.5 L685.1 264.2 L685.4 256.3 L685.7 257.7 L686.1 256.5 L686.4 257.1 L686.7 268.7 L687.1 262.3 L687.4 253.9 L687.7 253.0 L688.1 252.4 L688.4 243.8 L688.7 251.3 L689.1 257.1 L689.4 250.4 L689.7 252.3 L690.1 261.8 L690.4 253.5 L690.7 261.7 L691.1 268.9 L691.4 265.7 L691.7 265.9 L692.1 257.5 L692.4 243.5 L692.7 249.4 L693.1 245.5 L693.4 258.6 L693.7 261.8 L694.1 257.5 L694.4 259.5 L694.7 262.4 L695.1 267.5 L695.4 253.0 L695.7 254.8 L696.1 251.9 L696.4 248.8 L696.7 252.9 L697.1 246.3 L697.4 252.7 L697.7 261.6 L698.1 264.3 L698.4 254.2 L698.7 262.3 L699.1 257.7 L699.4 247.6 L699.7 257.8 L700.1 259.1 L700.4 256.1 L700.7 252.9 L701.1 256.9 L701.4 254.6 L701.7 249.2 L702.1 251.0 L702.4 254.1 L702.7 255.8 L703.1 259.7 L703.4 258.8 L703.7 255.2 L704.1 253.6 L704.4 257.6 L704.8 266.3 L705.1 252.0 L705.4 252.1 L705.8 261.0 L706.1 264.7 L706.4 258.0 L706.8 246.7 L707.1 244.3 L707.4 242.9 L707.8 244.5 L708.1 250.2 L708.4 251.8 L708.8 259.9 L709.1 265.5 L709.4 261.1 L709.8 265.1 L710.1 253.2 L710.4 257.2 L710.8 268.2 L711.1 249.1 L711.4 259.0 L711.8 257.8 L712.1 260.1 L712.4 254.5 L712.8 255.9 L713.1 249.7 L713.4 244.1 L713.8 250.2 L714.1 262.4 L714.4 262.8 L714.8 252.1 L715.1 268.0 L715.4 268.0 L715.8 259.5 L716.1 265.8 L716.4 267.9 L716.8 267.8 L717.1 265.4 L717.4 259.3 L717.8 265.4 L718.1 263.1 L718.4 254.1 L718.8 256.6 L719.1 260.3 L719.4 258.1 L719.8 248.7 L720.1 250.7 L720.4 247.0 L720.8 250.1 L721.1 254.4 L721.4 249.2 L721.8 252.4 L722.1 250.3 L722.4 250.9 L722.8 252.8 L723.1 261.9 L723.4 255.6 L723.8 259.2 L724.1 248.5 L724.4 252.2 L724.8 248.8 L725.1 250.2 L725.4 259.2 L725.8 258.9 L726.1 249.4 L726.4 253.0 L726.8 253.1 L727.1 253.2 L727.4 261.6 L727.8 259.1 L728.1 260.8 L728.4 266.8 L728.8 261.0 L729.1 262.2 L729.4 263.5 L729.8 260.8 L730.1 260.0 L730.4 246.1 L730.8 252.3 L731.1 257.1 L731.4 252.4 L731.8 254.5 L732.1 253.3 L732.4 254.0 L732.8 260.3 L733.1 260.3 L733.4 252.0 L733.8 252.6 L734.1 253.9 L734.4 254.3 L734.8 250.4 L735.1 258.2 L735.4 257.1 L735.8 256.3 L736.1 250.9 L736.4 250.1 L736.8 251.4 L737.1 254.3 L737.4 255.0 L737.8 255.5 L738.1 244.9 L738.4 251.4 L738.8 257.1 L739.1 254.5 L739.4 259.4 L739.8 251.2 L740.1 251.4 L740.4 258.4 L740.8 251.1 L741.1 262.1 L741.4 257.7 L741.8 255.1 L742.1 252.7 L742.4 245.8 L742.8 258.2 L743.1 264.0 L743.4 266.2 L743.8 253.0 L744.1 254.3 L744.4 260.4 L744.8 258.0 L745.1 250.6 L745.4 247.8 L745.8 247.9 L746.1 254.2 L746.4 261.3 L746.8 256.5 L747.1 262.1 L747.4 255.9 L747.8 256.9 L748.1 251.9 L748.4 247.9 L748.8 254.6 L749.1 252.1 L749.4 253.1 L749.8 254.6 L750.1 249.5 L750.4 254.1 L750.8 252.0 L751.1 248.6 L751.4 252.6 L751.8 250.5 L752.1 249.3 L752.4 245.4 L752.8 255.3 L753.1 257.6 L753.4 260.5 L753.8 254.4 L754.1 259.0 L754.4 259.4 L754.8 252.0 L755.1 260.9 L755.4 259.1 L755.8 263.0 L756.1 258.6 L756.4 258.2 L756.8 259.6 L757.1 255.0 L757.4 252.2 L757.8 251.3 L758.1 255.1 L758.4 256.8 L758.8 250.6 L759.1 259.8 L759.4 255.2 L759.8 257.9 L760.1 255.1 L760.4 254.0 L760.8 249.3 L761.1 245.5 L761.4 251.4 L761.8 250.5 L762.1 259.3 L762.4 253.5 L762.8 252.9 L763.1 251.5 L763.4 254.6 L763.8 262.6 L764.1 267.6 L764.4 263.0 L764.8 261.3 L765.1 256.3 L765.4 254.1 L765.8 259.0 L766.1 250.8 L766.4 253.5 L766.8 254.7 L767.1 262.9 L767.4 260.6 L767.8 256.0 L768.1 257.1 L768.5 259.2 L768.8 257.9 L769.1 254.3 L769.5 255.0 L769.8 248.7 L770.1 251.1 L770.5 248.1 L770.8 257.6 L771.1 257.0 L771.5 255.2 L771.8 250.2 L772.1 258.1 L772.5 259.2 L772.8 260.5 L773.1 258.9 L773.5 257.0 L773.8 253.9 L774.1 251.6 L774.5 251.1 L774.8 248.3 L775.1 250.2 L775.5 248.7 L775.8 256.5 L776.1 258.2 L776.5 255.8 L776.8 257.1 L777.1 252.2 L777.5 252.6 L777.8 253.5 L778.1 249.7 L778.5 256.8 L778.8 254.0 L779.1 250.1 L779.5 254.2 L779.8 251.0 L780.1 254.9 L780.5 263.3 L780.8 260.8 L781.1 254.6 L781.5 250.7 L781.8 254.0 L782.1 262.5 L782.5 266.6 L782.8 257.8 L783.1 255.2 L783.5 259.9 L783.8 257.8 L784.1 257.7 L784.5 254.9 L784.8 250.8 L785.1 256.3 L785.5 250.9 L785.8 258.2 L786.1 256.8 L786.5 254.7 L786.8 257.7 L787.1 255.7 L787.5 247.3 L787.8 252.4 L788.1 251.1 L788.5 254.1 L788.8 254.4 L789.1 255.1 L789.5 252.6 L789.8 253.0 L790.1 247.0 L790.5 245.2 L790.8 250.0 L791.1 250.6 L791.5 253.5 L791.8 250.3 L792.1 244.8 L792.5 248.1 L792.8 251.4 L793.1 263.3 L793.5 264.7 L793.8 257.5 L794.1 259.4 L794.5 262.4 L794.8 260.6 L795.1 264.8 L795.5 250.9 L795.8 249.8 L796.1 246.5 L796.5 255.5 L796.8 254.5 L797.1 251.9 L797.5 254.8 L797.8 248.8 L798.1 249.4 L798.5 248.2 L798.8 255.4 L799.1 250.8 L799.5 248.5 L799.8 254.9 L800.1 254.6 L800.5 247.2 L800.8 250.0 L801.1 257.0 L801.5 254.4 L801.8 253.0 L802.1 257.3 L802.5 253.3 L802.8 258.1 L803.1 258.1 L803.5 265.6 L803.8 266.5 L804.1 261.7 L804.5 260.1 L804.8 260.3 L805.1 259.8 L805.5 249.9 L805.8 251.1 L806.1 253.2 L806.5 255.8 L806.8 257.6 L807.1 252.6 L807.5 258.1 L807.8 258.3 L808.1 256.0 L808.5 250.7 L808.8 256.5 L809.1 258.2 L809.5 255.8 L809.8 260.0 L810.1 252.2 L810.5 249.0 L810.8 245.0 L811.1 252.1 L811.5 248.4 L811.8 261.1 L812.1 251.2 L812.5 259.3 L812.8 250.7 L813.1 248.9 L813.5 256.8 L813.8 250.4 L814.1 252.8 L814.5 264.0 L814.8 261.2 L815.1 256.0 L815.5 250.6 L815.8 251.2 L816.1 255.2 L816.5 249.0 L816.8 251.0 L817.1 247.7 L817.5 249.2 L817.8 253.8 L818.1 245.4 L818.5 247.6 L818.8 256.9 L819.1 254.5 L819.5 253.8 L819.8 247.4 L820.1 251.0 L820.5 253.6 L820.8 248.6 L821.1 252.9 L821.5 252.4 L821.8 254.5 L822.1 260.6 L822.5 260.9 L822.8 264.1 L823.1 259.0 L823.5 260.1 L823.8 258.1 L824.1 263.8 L824.5 259.0 L824.8 251.0 L825.1 250.1 L825.5 245.9 L825.8 250.5 L826.1 249.7 L826.5 259.2 L826.8 255.3 L827.1 243.1 L827.5 246.8 L827.8 243.4 L828.1 253.2 L828.5 242.4 L828.8 255.0 L829.1 254.2 L829.5 260.3 L829.8 259.3 L830.1 252.2 L830.5 257.2 L830.8 257.5 L831.1 249.3 L831.5 252.0 L831.8 254.2 L832.1 250.8 L832.5 244.2 L832.8 256.3 L833.2 252.2 L833.5 263.9 L833.8 256.6 L834.2 251.1 L834.5 250.2 L834.8 244.2 L835.2 252.4 L835.5 255.7 L835.8 263.7 L836.2 254.1 L836.5 247.6 L836.8 248.5 L837.2 246.1 L837.5 254.1 L837.8 248.2 L838.2 252.8 L838.5 244.0 L838.8 253.3 L839.2 250.2 L839.5 250.3 L839.8 244.8 L840.2 249.2 L840.5 256.0 L840.8 253.2 L841.2 252.3 L841.5 247.7 L841.8 252.0 L842.2 256.6 L842.5 249.6 L842.8 252.9 L843.2 247.2 L843.5 250.7 L843.8 255.3 L844.2 253.7 L844.5 251.3 L844.8 249.2 L845.2 255.2 L845.5 251.8 L845.8 249.3 L846.2 253.0 L846.5 245.0 L846.8 247.2 L847.2 248.0 L847.5 244.8 L847.8 253.7 L848.2 256.2 L848.5 249.6 L848.8 250.9 L849.2 250.2 L849.5 249.7 L849.8 241.5 L850.2 239.1 L850.5 243.8 L850.8 243.4 L851.2 248.7 L851.5 241.6 L851.8 242.3 L852.2 243.2 L852.5 248.2 L852.8 246.2 L853.2 245.6 L853.5 251.9 L853.8 247.0 L854.2 248.5 L854.5 245.7 L854.8 243.6 L855.2 250.0 L855.5 257.4 L855.8 256.4 L856.2 251.4 L856.5 254.2 L856.8 256.9 L857.2 246.2 L857.5 238.6 L857.8 245.9 L858.2 250.2 L858.5 240.4 L858.8 240.8 L859.2 243.1 L859.5 246.0 L859.8 246.2 L860.2 241.9 L860.5 243.5 L860.8 241.7 L861.2 238.5 L861.5 238.2 L861.8 238.2 L862.2 239.0 L862.5 238.3 L862.8 241.1 L863.2 240.4 L863.5 246.4 L863.8 249.2 L864.2 257.8 L864.5 253.1" stroke="#d62728"/>
<path d="M159.8 239.2 L160.1 243.5 L160.5 245.4 L160.8 250.9 L161.1 243.3 L161.5 245.1 L161.8 253.0 L162.1 252.5 L162.5 250.2 L162.8 253.6 L163.1 249.0 L163.5 247.7 L163.8 249.4 L164.1 253.9 L164.5 253.6 L164.8 247.0 L165.1 241.9 L165.5 250.6 L165.8 248.7 L166.1 247.4 L166.5 248.1 L166.8 252.3 L167.1 251.0 L167.5 246.8 L167.8 250.0 L168.1 249.4 L168.5 244.8 L168.8 250.8 L169.1 248.4 L169.5 252.4 L169.8 247.9 L170.1 251.6 L170.5 250.4 L170.8 246.0 L171.1 252.3 L171.5 249.3 L171.8 250.9 L172.1 253.2 L172.5 248.2 L172.8 244.6 L173.1 250.1 L173.5 248.2 L173.8 242.2 L174.1 250.4 L174.5 250.5 L174.8 248.1 L175.1 252.8 L175.5 253.6 L175.8 249.3 L176.1 249.2 L176.5 248.4 L176.8 247.4 L177.1 243.5 L177.5 246.9 L177.8 247.4 L178.1 246.8 L178.5 250.9 L178.8 258.3 L179.1 250.0 L179.5 256.2 L179.8 253.1 L180.1 253.0 L180.5 247.2 L180.8 248.5 L181.1 251.7 L181.5 246.3 L181.8 247.0 L182.1 245.6 L182.5 250.9 L182.8 246.6 L183.1 251.7 L183.5 257.1 L183.8 253.0 L184.1 251.3 L184.5 248.1 L184.8 250.4 L185.1 246.5 L185.5 245.4 L185.8 251.0 L186.1 249.5 L186.5 249.1 L186.8 250.5 L187.1 250.7 L187.5 255.0 L187.8 241.4 L188.1 244.9 L188.5 244.9 L188.8 248.6 L189.1 244.6 L189.5 244.7 L189.8 251.7 L190.1 250.3 L190.5 254.3 L190.8 260.5 L191.1 255.0 L191.5 257.8 L191.8 243.2 L192.2 248.5 L192.5 250.0 L192.8 247.2 L193.2 247.3 L193.5 253.7 L193.8 255.7 L194.2 256.2 L194.5 255.5 L194.8 250.6 L195.2 253.1 L195.5 249.8 L195.8 248.9 L196.2 246.0 L196.5 244.8 L196.8 247.8 L197.2 250.3 L197.5 248.6 L197.8 247.9 L198.2 249.6 L198.5 251.1 L198.8 260.3 L199.2 260.2 L199.5 248.2 L199.8 254.7 L200.2 248.9 L200.5 251.9 L200.8 245.5 L201.2 249.8 L201.5 248.3 L201.8 252.5 L202.2 257.4 L202.5 257.9 L202.8 260.2 L203.2 251.8 L203.5 251.5 L203.8 254.3 L204.2 247.7 L204.5 246.4 L204.8 250.8 L205.2 257.5 L205.5 259.3 L205.8 257.7 L206.2 254.6 L206.5 259.6 L206.8 260.3 L207.2 253.1 L207.5 254.9 L207.8 257.1 L208.2 255.7 L208.5 254.5 L208.8 252.9 L209.2 255.3 L209.5 248.7 L209.8 259.0 L210.2 260.1 L210.5 255.0 L210.8 260.3 L211.2 260.9 L211.5 258.8 L211.8 261.4 L212.2 257.1 L212.5 257.0 L212.8 261.1 L213.2 259.5 L213.5 261.0 L213.8 259.1 L214.2 252.2 L214.5 260.3 L214.8 264.3 L215.2 266.3 L215.5 266.5 L215.8 264.7 L216.2 259.6 L216.5 259.9 L216.8 260.4 L217.2 264.8 L217.5 262.7 L217.8 258.0 L218.2 260.7 L218.5 264.0 L218.8 257.2 L219.2 256.3 L219.5 252.7 L219.8 262.3 L220.2 258.6 L220.5 257.1 L220.8 263.2 L221.2 264.1 L221.5 256.9 L221.8 265.7 L222.2 261.2 L222.5 263.3 L222.8 266.2 L223.2 268.6 L223.5 261.6 L223.8 263.2 L224.2 258.4 L224.5 256.7 L224.8 255.2 L225.2 257.7 L225.5 261.7 L225.8 269.9 L226.2 268.9 L226.5 264.9 L226.8 266.8 L227.2 264.1 L227.5 259.5 L227.8 260.1 L228.2 266.5 L228.5 266.1 L228.8 263.2 L229.2 270.5 L229.5 269.9 L229.8 269.4 L230.2 269.0 L230.5 265.7 L230.8 275.6 L231.2 266.7 L231.5 264.3 L231.8 261.6 L232.2 267.1 L232.5 267.8 L232.8 271.7 L233.2 257.0 L233.5 262.6 L233.8 265.0 L234.2 266.2 L234.5 268.0 L234.8 272.2 L235.2 274.8 L235.5 269.3 L235.8 273.8 L236.2 266.4 L236.5 268.1 L236.8 266.7 L237.2 264.6 L237.5 266.0 L237.8 258.3 L238.2 261.4 L238.5 256.7 L238.8 253.8 L239.2 262.2 L239.5 258.6 L239.8 255.1 L240.2 256.6 L240.5 252.9 L240.8 255.2 L241.2 255.9 L241.5 255.4 L241.8 252.3 L242.2 256.3 L242.5 260.2 L242.8 258.0 L243.2 264.1 L243.5 268.5 L243.8 262.0 L244.2 267.7 L244.5 264.5 L244.8 262.0 L245.2 257.8 L245.5 259.9 L245.8 263.7 L246.2 259.0 L246.5 260.6 L246.8 254.5 L247.2 258.4 L247.5 251.4 L247.8 251.6 L248.2 253.1 L248.5 262.7 L248.8 264.2 L249.2 267.3 L249.5 266.5 L249.8 259.3 L250.2 256.0 L250.5 252.6 L250.8 258.3 L251.2 261.3 L251.5 256.7 L251.8 258.0 L252.2 256.6 L252.5 252.9 L252.8 261.2 L253.2 259.8 L253.5 259.6 L253.8 257.1 L254.2 253.5 L254.5 253.0 L254.8 249.5 L255.2 252.7 L255.5 253.6 L255.8 255.3 L256.2 256.9 L256.5 247.3 L256.9 253.4 L257.2 259.5 L257.5 253.5 L257.9 257.0 L258.2 258.2 L258.5 254.7 L258.9 256.0 L259.2 253.5 L259.5 247.1 L259.9 250.3 L260.2 251.8 L260.5 252.0 L260.9 256.0 L261.2 253.9 L261.5 247.2 L261.9 243.7 L262.2 247.2 L262.5 241.0 L262.9 241.0 L263.2 241.2 L263.5 244.8 L263.9 243.2 L264.2 248.8 L264.5 241.0 L264.9 241.7 L265.2 243.7 L265.5 247.3 L265.9 248.9 L266.2 247.4 L266.5 251.0 L266.9 250.4 L267.2 248.6 L267.5 247.9 L267.9 246.5 L268.2 249.8 L268.5 246.2 L268.9 249.9 L269.2 246.0 L269.5 251.3 L269.9 248.5 L270.2 247.1 L270.5 247.6 L270.9 251.2 L271.2 251.3 L271.5 252.6 L271.9 248.5 L272.2 255.0 L272.5 252.3 L272.9 254.4 L273.2 252.6 L273.5 248.5 L273.9 249.8 L274.2 247.0 L274.5 252.2 L274.9 246.6 L275.2 250.4 L275.5 244.5 L275.9 247.0 L276.2 246.4 L276.5 252.7 L276.9 248.8 L277.2 253.2 L277.5 257.1 L277.9 252.2 L278.2 253.3 L278.5 257.4 L278.9 259.0 L279.2 259.0 L279.5 251.5 L279.9 245.4 L280.2 242.6 L280.5 243.1 L280.9 248.2 L281.2 252.5 L281.5 248.4 L281.9 252.9 L282.2 251.9 L282.5 257.2 L282.9 250.7 L283.2 254.3 L283.5 253.6 L283.9 252.5 L284.2 250.1 L284.5 248.8 L284.9 251.3 L285.2 248.1 L285.5 246.6 L285.9 241.2 L286.2 252.6 L286.5 245.4 L286.9 252.6 L287.2 247.6 L287.5 249.5 L287.9 252.7 L288.2 250.2 L288.5 253.2 L288.9 252.0 L289.2 254.3 L289.5 251.4 L289.9 244.5 L290.2 248.3 L290.5 245.9 L290.9 254.4 L291.2 255.1 L291.5 254.3 L291.9 248.1 L292.2 254.6 L292.5 255.5 L292.9 245.4 L293.2 254.4 L293.5 256.8 L293.9 252.8 L294.2 249.1 L294.5 246.0 L294.9 245.3 L295.2 245.0 L295.5 246.5 L295.9 247.9 L296.2 251.0 L296.5 250.6 L296.9 248.6 L297.2 249.2 L297.5 251.7 L297.9 251.6 L298.2 247.9 L298.5 249.4 L298.9 251.8 L299.2 247.8 L299.5 250.8 L299.9 248.3 L300.2 245.8 L300.5 245.2 L300.9 244.4 L301.2 248.0 L301.5 251.7 L301.9 250.7 L302.2 259.6 L302.5 247.2 L302.9 253.0 L303.2 254.1 L303.5 247.7 L303.9 248.5 L304.2 251.5 L304.5 256.0 L304.9 249.6 L305.2 247.0 L305.5 251.9 L305.9 254.6 L306.2 251.4 L306.5 250.3 L306.9 252.6 L307.2 255.2 L307.5 255.8 L307.9 259.3 L308.2 255.5 L308.5 252.8 L308.9 250.0 L309.2 246.6 L309.5 244.4 L309.9 245.8 L310.2 248.3 L310.5 243.1 L310.9 247.0 L311.2 248.4 L311.5 240.6 L311.9 256.3 L312.2 244.9 L312.5 246.0 L312.9 245.6 L313.2 258.8 L313.5 251.5 L313.9 245.1 L314.2 246.8 L314.5 240.4 L314.9 244.0 L315.2 249.7 L315.5 249.6 L315.9 252.2 L316.2 248.9 L316.5 251.2 L316.9 248.1 L317.2 251.7 L317.5 255.1 L317.9 253.9 L318.2 254.4 L318.5 252.1 L318.9 245.6 L319.2 242.8 L319.5 241.4 L319.9 244.0 L320.2 245.4 L320.6 251.3 L320.9 252.6 L321.2 252.2 L321.6 256.8 L321.9 259.2 L322.2 253.0 L322.6 247.8 L322.9 245.6 L323.2 250.6 L323.6 252.2 L323.9 250.5 L324.2 253.9 L324.6 253.7 L324.9 247.4 L325.2 250.6 L325.6 248.3 L325.9 245.2 L326.2 251.2 L326.6 253.0 L326.9 251.6 L327.2 251.1 L327.6 247.8 L327.9 246.2 L328.2 247.4 L328.6 247.0 L328.9 241.0 L329.2 246.3 L329.6 245.8 L329.9 253.9 L330.2 252.0 L330.6 249.9 L330.9 249.3 L331.2 248.0 L331.6 253.1 L331.9 259.3 L332.2 247.5 L332.6 248.6 L332.9 246.2 L333.2 243.1 L333.6 250.1 L333.9 256.1 L334.2 248.6 L334.6 256.2 L334.9 249.9 L335.2 243.3 L335.6 240.2 L335.9 242.6 L336.2 248.7 L336.6 247.9 L336.9 251.7 L337.2 251.2 L337.6 251.0 L337.9 240.2 L338.2 241.9 L338.6 251.7 L338.9 244.7 L339.2 249.2 L339.6 244.0 L339.9 244.9 L340.2 244.1 L340.6 249.6 L340.9 252.1 L341.2 251.3 L341.6 255.8 L341.9 252.9 L342.2 255.3 L342.6 249.8 L342.9 251.5 L343.2 248.4 L343.6 244.3 L343.9 244.4 L344.2 247.2 L344.6 244.6 L344.9 247.0 L345.2 249.6 L345.6 243.9 L345.9 243.9 L346.2 254.7 L346.6 252.1 L346.9 249.8 L347.2 244.3 L347.6 246.6 L347.9 250.3 L348.2 248.4 L348.6 245.2 L348.9 246.9 L349.2 247.9 L349.6 247.8 L349.9 250.8 L350.2 253.3 L350.6 251.1 L350.9 253.8 L351.2 257.8 L351.6 251.2 L351.9 247.2 L352.2 248.9 L352.6 252.3 L352.9 250.6 L353.2 251.6 L353.6 255.0 L353.9 253.1 L354.2 248.9 L354.6 254.4 L354.9 249.2 L355.2 245.4 L355.6 246.5 L355.9 246.5 L356.2 248.3 L356.6 251.9 L356.9 247.4 L357.2 247.7 L357.6 248.1 L357.9 247.4 L358.2 257.4 L358.6 255.3 L358.9 254.7 L359.2 256.8 L359.6 252.2 L359.9 258.3 L360.2 255.5 L360.6 254.7 L360.9 255.8 L361.2 255.1 L361.6 249.4 L361.9 250.8 L362.2 254.8 L362.6 255.3 L362.9 249.5 L363.2 252.6 L363.6 250.9 L363.9 255.8 L364.2 256.7 L364.6 259.7 L364.9 253.3 L365.2 256.6 L365.6 257.6 L365.9 259.8 L366.2 254.4 L366.6 254.2 L366.9 253.5 L367.2 250.5 L367.6 246.4 L367.9 256.3 L368.2 254.9 L368.6 252.1 L368.9 243.7 L369.2 249.5 L369.6 249.9 L369.9 250.9 L370.2 252.6 L370.6 255.3 L370.9 259.9 L371.2 244.9 L371.6 250.7 L371.9 252.8 L372.2 255.0 L372.6 248.8 L372.9 248.8 L373.2 246.2 L373.6 250.0 L373.9 246.8 L374.2 248.7 L374.6 250.2 L374.9 250.0 L375.2 246.6 L375.6 248.3 L375.9 247.0 L376.2 245.3 L376.6 251.7 L376.9 250.9 L377.2 254.4 L377.6 247.8 L377.9 250.4 L378.2 251.6 L378.6 252.1 L378.9 246.9 L379.2 259.4 L379.6 248.6 L379.9 248.3 L380.2 248.9 L380.6 247.5 L380.9 254.6 L381.2 250.6 L381.6 250.1 L381.9 250.3 L382.2 250.1 L382.6 248.8 L382.9 247.0 L383.2 248.8 L383.6 250.6 L383.9 247.5 L384.3 252.0 L384.6 249.4 L384.9 252.3 L385.3 244.4 L385.6 246.8 L385.9 243.6 L386.3 248.3 L386.6 242.6 L386.9 249.9 L387.3 252.0 L387.6 253.4 L387.9 256.4 L388.3 251.5 L388.6 246.0 L388.9 245.7 L389.3 251.3 L389.6 247.5 L389.9 249.4 L390.3 254.2 L390.6 252.4 L390.9 246.1 L391.3 241.5 L391.6 245.2 L391.9 245.7 L392.3 245.0 L392.6 252.9 L392.9 252.1 L393.3 258.8 L393.6 251.9 L393.9 250.0 L394.3 254.3 L394.6 249.0 L394.9 247.9 L395.3 251.9 L395.6 246.1 L395.9 242.2 L396.3 246.9 L396.6 250.5 L396.9 247.5 L397.3 248.7 L397.6 248.9 L397.9 251.6 L398.3 252.1 L398.6 255.3 L398.9 250.8 L399.3 257.9 L399.6 260.8 L399.9 255.4 L400.3 255.7 L400.6 254.9 L400.9 248.8 L401.3 255.5 L401.6 249.7 L401.9 241.8 L402.3 245.2 L402.6 243.6 L402.9 244.1 L403.3 250.9 L403.6 249.1 L403.9 246.0 L404.3 248.6 L404.6 246.2 L404.9 252.1 L405.3 250.3 L405.6 247.8 L405.9 245.5 L406.3 257.6 L406.6 256.7 L406.9 248.8 L407.3 253.7 L407.6 249.9 L407.9 249.0 L408.3 252.3 L408.6 257.7 L408.9 253.0 L409.3 250.4 L409.6 247.9 L409.9 250.1 L410.3 246.7 L410.6 252.2 L410.9 250.0 L411.3 252.3 L411.6 252.0 L411.9 253.9 L412.3 250.5 L412.6 249.6 L412.9 248.7 L413.3 250.9 L413.6 256.0 L413.9 255.5 L414.3 260.8 L414.6 256.9 L414.9 251.8 L415.3 253.8 L415.6 255.6 L415.9 252.4 L416.3 251.9 L416.6 248.7 L416.9 249.5 L417.3 242.9 L417.6 248.6 L417.9 252.4 L418.3 251.5 L418.6 250.2 L418.9 257.3 L419.3 252.8 L419.6 249.4 L419.9 252.6 L420.3 252.8 L420.6 244.1 L420.9 246.0 L421.3 247.9 L421.6 255.1 L421.9 251.9 L422.3 257.8 L422.6 256.3 L422.9 259.4 L423.3 253.0 L423.6 250.9 L423.9 250.6 L424.3 254.7 L424.6 245.8 L424.9 242.6 L425.3 247.3 L425.6 247.5 L425.9 248.8 L426.3 245.7 L426.6 246.7 L426.9 248.1 L427.3 245.5 L427.6 244.7 L427.9 248.9 L428.3 255.7 L428.6 252.0 L428.9 258.3 L429.3 258.2 L429.6 248.2 L429.9 246.6 L430.3 248.9 L430.6 257.0 L430.9 252.2 L431.3 253.2 L431.6 247.0 L431.9 247.7 L432.3 251.1 L432.6 251.2 L432.9 250.2 L433.3 247.7 L433.6 248.0 L433.9 249.5 L434.3 247.6 L434.6 245.4 L434.9 248.9 L435.3 246.9 L435.6 246.7 L435.9 246.6 L436.3 249.9 L436.6 248.7 L436.9 248.1 L437.3 251.1 L437.6 253.9 L437.9 256.9 L438.3 258.2 L438.6 252.7 L438.9 252.6 L439.3 251.9 L439.6 254.2 L439.9 253.6 L440.3 260.9 L440.6 259.2 L440.9 259.7 L441.3 261.6 L441.6 257.7 L441.9 256.1 L442.3 256.5 L442.6 251.7 L442.9 249.4 L443.3 250.1 L443.6 246.7 L443.9 253.0 L444.3 253.1 L444.6 262.0 L444.9 260.5 L445.3 255.0 L445.6 255.5 L445.9 258.8 L446.3 257.1 L446.6 256.4 L446.9 256.0 L447.3 257.6 L447.6 251.4 L447.9 250.8 L448.3 254.5 L448.6 260.2 L449.0 251.6 L449.3 255.9 L449.6 254.8 L450.0 262.0 L450.3 261.0 L450.6 262.0 L451.0 262.0 L451.3 257.5 L451.6 252.4 L452.0 254.8 L452.3 258.4 L452.6 256.4 L453.0 255.6 L453.3 252.1 L453.6 253.3 L454.0 256.5 L454.3 253.3 L454.6 251.9 L455.0 259.9 L455.3 256.5 L455.6 252.4 L456.0 255.0 L456.3 251.3 L456.6 251.6 L457.0 251.3 L457.3 247.8 L457.6 258.8 L458.0 251.0 L458.3 251.0 L458.6 257.3 L459.0 257.2 L459.3 248.3 L459.6 254.7 L460.0 252.2 L460.3 251.6 L460.6 254.3 L461.0 248.6 L461.3 251.6 L461.6 255.1 L462.0 255.3 L462.3 250.6 L462.6 253.3 L463.0 248.9 L463.3 251.9 L463.6 250.3 L464.0 246.7 L464.3 257.9 L464.6 250.6 L465.0 244.0 L465.3 248.6 L465.6 254.4 L466.0 251.9 L466.3 247.0 L466.6 249.3 L467.0 247.7 L467.3 249.6 L467.6 252.0 L468.0 253.7 L468.3 253.5 L468.6 260.3 L469.0 252.4 L469.3 258.3 L469.6 259.3 L470.0 252.8 L470.3 256.4 L470.6 247.0 L471.0 243.5 L471.3 251.6 L471.6 250.6 L472.0 249.3 L472.3 253.3 L472.6 255.0 L473.0 251.7 L473.3 250.5 L473.6 252.4 L474.0 254.5 L474.3 256.0 L474.6 255.9 L475.0 258.7 L475.3 256.1 L475.6 253.8 L476.0 258.4 L476.3 252.1 L476.6 247.9 L477.0 243.7 L477.3 250.3 L477.6 248.9 L478.0 243.0 L478.3 243.0 L478.6 252.3 L479.0 257.1 L479.3 250.7 L479.6 246.8 L480.0 247.3 L480.3 246.9 L480.6 245.6 L481.0 247.7 L481.3 246.5 L481.6 252.3 L482.0 251.6 L482.3 255.4 L482.6 258.1 L483.0 255.2 L483.3 254.4 L483.6 262.0 L484.0 258.0 L484.3 250.0 L484.6 246.3 L485.0 250.6 L485.3 251.3 L485.6 252.8 L486.0 249.0 L486.3 251.7 L486.6 247.6 L487.0 249.5 L487.3 246.4 L487.6 248.1 L488.0 251.8 L488.3 252.0 L488.6 251.1 L489.0 256.3 L489.3 259.6 L489.6 257.3 L490.0 255.9 L490.3 257.0 L490.6 260.6 L491.0 254.7 L491.3 259.0 L491.6 261.1 L492.0 252.8 L492.3 257.9 L492.6 248.6 L493.0 251.5 L493.3 249.4 L493.6 249.6 L494.0 252.5 L494.3 251.7 L494.6 253.2 L495.0 249.6 L495.3 247.3 L495.6 254.0 L496.0 244.8 L496.3 248.3 L496.6 254.4 L497.0 256.3 L497.3 251.9 L497.6 258.1 L498.0 251.8 L498.3 257.3 L498.6 252.4 L499.0 252.3 L499.3 257.0 L499.6 255.6 L500.0 258.0 L500.3 262.1 L500.6 259.4 L501.0 262.2 L501.3 255.1 L501.6 250.0 L502.0 252.5 L502.3 255.9 L502.6 257.7 L503.0 263.9 L503.3 263.6 L503.6 265.2 L504.0 267.3 L504.3 263.7 L504.6 258.1 L505.0 262.8 L505.3 258.2 L505.6 256.1 L506.0 258.6 L506.3 265.3 L506.6 259.2 L507.0 263.9 L507.3 260.4 L507.6 260.7 L508.0 264.5 L508.3 258.5 L508.6 257.8 L509.0 263.0 L509.3 258.4 L509.6 261.4 L510.0 263.1 L510.3 263.1 L510.6 265.9 L511.0 263.4 L511.3 264.8 L511.6 263.3 L512.0 257.6 L512.3 263.9 L512.7 265.7 L513.0 261.2 L513.3 259.8 L513.7 253.8 L514.0 249.7 L514.3 252.4 L514.7 251.7 L515.0 261.0 L515.3 263.3 L515.7 263.0 L516.0 260.0 L516.3 254.5 L516.7 253.6 L517.0 253.9 L517.3 250.6 L517.7 252.0 L518.0 247.0 L518.3 243.0 L518.7 241.3 L519.0 241.4 L519.3 240.7 L519.7 247.8 L520.0 250.4 L520.3 252.7 L520.7 255.5 L521.0 252.1 L521.3 252.4 L521.7 255.4 L522.0 253.9 L522.3 249.9 L522.7 250.3 L523.0 243.8 L523.3 253.1 L523.7 251.0 L524.0 256.1 L524.3 250.3 L524.7 254.0 L525.0 249.0 L525.3 249.8 L525.7 250.9 L526.0 249.8 L526.3 254.0 L526.7 251.2 L527.0 253.3 L527.3 252.7 L527.7 251.9 L528.0 247.8 L528.3 245.1 L528.7 250.1 L529.0 248.9 L529.3 254.6 L529.7 255.3 L530.0 247.7 L530.3 252.4 L530.7 250.4 L531.0 247.1 L531.3 245.5 L531.7 245.0 L532.0 243.0 L532.3 246.0 L532.7 250.1 L533.0 250.9 L533.3 240.4 L533.7 243.4 L534.0 245.8 L534.3 245.8 L534.7 244.5 L535.0 244.3 L535.3 242.3 L535.7 247.4 L536.0 253.8 L536.3 242.9 L536.7 250.7 L537.0 245.5 L537.3 243.9 L537.7 248.5 L538.0 252.5 L538.3 246.3 L538.7 249.8 L539.0 247.4 L539.3 251.4 L539.7 252.2 L540.0 251.8 L540.3 246.6 L540.7 253.2 L541.0 255.3 L541.3 243.9 L541.7 241.6 L542.0 243.6 L542.3 252.0 L542.7 248.3 L543.0 254.2 L543.3 255.2 L543.7 255.5 L544.0 249.6 L544.3 250.2 L544.7 249.7 L545.0 249.5 L545.3 251.9 L545.7 251.0 L546.0 251.1 L546.3 253.1 L546.7 253.3 L547.0 252.3 L547.3 256.5 L547.7 253.8 L548.0 256.8 L548.3 259.9 L548.7 254.0 L549.0 248.8 L549.3 248.6 L549.7 252.4 L550.0 252.6 L550.3 253.1 L550.7 258.0 L551.0 249.6 L551.3 252.7 L551.7 247.0 L552.0 244.1 L552.3 245.5 L552.7 245.7 L553.0 247.4 L553.3 246.8 L553.7 247.4 L554.0 244.4 L554.3 243.4 L554.7 250.7 L555.0 249.1 L555.3 248.9 L555.7 246.6 L556.0 250.3 L556.3 249.2 L556.7 249.2 L557.0 257.0 L557.3 247.4 L557.7 250.6 L558.0 252.2 L558.3 249.2 L558.7 250.4 L559.0 245.7 L559.3 251.2 L559.7 258.2 L560.0 252.5 L560.3 244.6 L560.7 241.2 L561.0 243.2 L561.3 247.7 L561.7 244.8 L562.0 245.6 L562.3 241.3 L562.7 248.3 L563.0 250.0 L563.3 255.2 L563.7 256.3 L564.0 252.2 L564.3 248.4 L564.7 248.4 L565.0 249.4 L565.3 258.4 L565.7 247.3 L566.0 248.7 L566.3 252.3 L566.7 253.8 L567.0 251.5 L567.3 245.2 L567.7 247.4 L568.0 254.2 L568.3 255.9 L568.7 255.5 L569.0 255.3 L569.3 257.7 L569.7 254.7 L570.0 255.2 L570.3 258.2 L570.7 259.7 L571.0 255.5 L571.3 248.8 L571.7 250.6 L572.0 248.6 L572.3 251.2 L572.7 252.6 L573.0 256.6 L573.3 246.6 L573.7 246.0 L574.0 244.5 L574.3 251.9 L574.7 250.5 L575.0 260.6 L575.3 259.1 L575.7 259.1 L576.0 253.6 L576.4 253.0 L576.7 253.1 L577.0 250.4 L577.4 256.1 L577.7 258.8 L578.0 257.7 L578.4 250.5 L578.7 252.9 L579.0 249.9 L579.4 256.4 L579.7 255.9 L580.0 257.8 L580.4 258.7 L580.7 255.4 L581.0 253.9 L581.4 252.1 L581.7 250.7 L582.0 256.3 L582.4 249.6 L582.7 251.3 L583.0 252.3 L583.4 254.7 L583.7 248.7 L584.0 253.6 L584.4 252.7 L584.7 250.7 L585.0 248.8 L585.4 253.6 L585.7 251.4 L586.0 256.2 L586.4 255.1 L586.7 250.6 L587.0 241.8 L587.4 246.1 L587.7 258.6 L588.0 248.3 L588.4 243.9 L588.7 251.3 L589.0 255.9 L589.4 254.4 L589.7 250.9 L590.0 251.4 L590.4 245.6 L590.7 247.7 L591.0 244.5 L591.4 251.3 L591.7 251.1 L592.0 251.3 L592.4 246.0 L592.7 250.7 L593.0 254.8 L593.4 250.2 L593.7 247.9 L594.0 248.0 L594.4 248.4 L594.7 251.5 L595.0 251.2 L595.4 252.0 L595.7 250.1 L596.0 256.7 L596.4 251.9 L596.7 251.7 L597.0 250.6 L597.4 250.8 L597.7 245.9 L598.0 242.2 L598.4 260.6 L598.7 251.7 L599.0 257.1 L599.4 253.1 L599.7 252.4 L600.0 257.7 L600.4 258.6 L600.7 252.0 L601.0 251.5 L601.4 258.2 L601.7 257.4 L602.0 251.6 L602.4 249.8 L602.7 255.0 L603.0 251.7 L603.4 250.9 L603.7 253.0 L604.0 246.2 L604.4 255.3 L604.7 255.4 L605.0 251.2 L605.4 256.6 L605.7 257.3 L606.0 252.2 L606.4 256.4 L606.7 252.1 L607.0 253.4 L607.4 260.3 L607.7 256.4 L608.0 253.2 L608.4 252.9 L608.7 258.6 L609.0 261.5 L609.4 258.8 L609.7 254.1 L610.0 256.0 L610.4 256.8 L610.7 251.8 L611.0 250.0 L611.4 254.9 L611.7 245.3 L612.0 252.0 L612.4 252.9 L612.7 256.6 L613.0 254.9 L613.4 250.7 L613.7 258.2 L614.0 252.7 L614.4 251.9 L614.7 259.7 L615.0 247.9 L615.4 248.6 L615.7 245.9 L616.0 245.9 L616.4 247.3 L616.7 250.8 L617.0 248.8 L617.4 253.8 L617.7 249.2 L618.0 245.4 L618.4 250.2 L618.7 247.1 L619.0 252.0 L619.4 247.8 L619.7 250.1 L620.0 250.0 L620.4 255.8 L620.7 258.2 L621.0 254.6 L621.4 259.3 L621.7 256.6 L622.0 255.5 L622.4 261.8 L622.7 261.8 L623.0 260.2 L623.4 252.2 L623.7 258.6 L624.0 252.1 L624.4 252.1 L624.7 252.4 L625.0 249.6 L625.4 250.1 L625.7 249.6 L626.0 247.9 L626.4 254.8 L626.7 255.1 L627.0 254.4 L627.4 253.7 L627.7 256.6 L628.0 246.8 L628.4 252.4 L628.7 253.5 L629.0 258.9 L629.4 251.7 L629.7 247.8 L630.0 254.0 L630.4 253.4 L630.7 260.9 L631.0 260.9 L631.4 254.9 L631.7 260.3 L632.0 261.7 L632.4 255.0 L632.7 255.9 L633.0 253.6 L633.4 254.1 L633.7 253.9 L634.0 249.1 L634.4 248.8 L634.7 250.7 L635.0 249.0 L635.4 252.7 L635.7 247.3 L636.0 249.3 L636.4 253.8 L636.7 250.8 L637.0 255.0 L637.4 253.9 L637.7 255.3 L638.0 255.1 L638.4 249.7 L638.7 249.0 L639.0 247.8 L639.4 256.0 L639.7 256.9 L640.0 247.8 L640.4 255.8 L640.7 247.4 L641.1 245.6 L641.4 246.8 L641.7 249.7 L642.1 258.9 L642.4 249.5 L642.7 251.1 L643.1 251.9 L643.4 252.7 L643.7 255.4 L644.1 257.8 L644.4 246.5 L644.7 244.8 L645.1 253.1 L645.4 252.9 L645.7 247.1 L646.1 251.8 L646.4 248.8 L646.7 250.4 L647.1 256.7 L647.4 255.3 L647.7 258.9 L648.1 259.1 L648.4 253.2 L648.7 257.2 L649.1 251.8 L649.4 255.3 L649.7 253.6 L650.1 257.8 L650.4 257.3 L650.7 253.5 L651.1 256.6 L651.4 257.9 L651.7 259.4 L652.1 259.3 L652.4 260.9 L652.7 259.2 L653.1 251.2 L653.4 254.5 L653.7 249.4 L654.1 252.5 L654.4 257.8 L654.7 255.5 L655.1 250.6 L655.4 250.4 L655.7 252.4 L656.1 248.4 L656.4 252.8 L656.7 249.8 L657.1 251.3 L657.4 253.2 L657.7 251.3 L658.1 251.5 L658.4 257.9 L658.7 255.2 L659.1 254.2 L659.4 256.0 L659.7 250.8 L660.1 249.5 L660.4 248.1 L660.7 247.7 L661.1 241.9 L661.4 243.2 L661.7 247.0 L662.1 242.5 L662.4 250.1 L662.7 253.1 L663.1 250.3 L663.4 241.8 L663.7 255.5 L664.1 245.0 L664.4 250.4 L664.7 252.1 L665.1 238.3 L665.4 239.5 L665.7 245.0 L666.1 246.4 L666.4 242.1 L666.7 245.7 L667.1 240.9 L667.4 241.6 L667.7 246.1 L668.1 243.3 L668.4 246.6 L668.7 244.9 L669.1 241.7 L669.4 245.4 L669.7 243.7 L670.1 241.8 L670.4 241.7 L670.7 249.5 L671.1 252.7 L671.4 257.9 L671.7 256.5 L672.1 251.2 L672.4 252.3 L672.7 256.9 L673.1 249.9 L673.4 250.2 L673.7 255.0 L674.1 264.9 L674.4 258.3 L674.7 257.2 L675.1 255.0 L675.4 252.4 L675.7 256.5 L676.1 256.5 L676.4 263.2 L676.7 267.3 L677.1 262.3 L677.4 265.3 L677.7 259.9 L678.1 265.4 L678.4 263.9 L678.7 258.9 L679.1 257.6 L679.4 259.9 L679.7 261.0 L680.1 265.7 L680.4 260.3 L680.7 262.2 L681.1 259.0 L681.4 258.4 L681.7 260.8 L682.1 261.8 L682.4 257.5 L682.7 256.2 L683.1 256.9 L683.4 255.1 L683.7 249.1 L684.1 246.6 L684.4 253.9 L684.7 258.5 L685.1 254.6 L685.4 258.7 L685.7 260.1 L686.1 255.7 L686.4 264.1 L686.7 253.6 L687.1 253.9 L687.4 255.6 L687.7 257.4 L688.1 254.1 L688.4 249.9 L688.7 247.4 L689.1 253.9 L689.4 266.9 L689.7 253.7 L690.1 258.3 L690.4 256.0 L690.7 256.9 L691.1 257.2 L691.4 257.8 L691.7 257.5 L692.1 263.7 L692.4 258.5 L692.7 261.6 L693.1 255.8 L693.4 261.2 L693.7 249.1 L694.1 248.6 L694.4 247.8 L694.7 248.5 L695.1 252.2 L695.4 258.1 L695.7 258.2 L696.1 255.3 L696.4 254.0 L696.7 255.0 L697.1 254.4 L697.4 258.8 L697.7 250.3 L698.1 257.8 L698.4 252.7 L698.7 252.5 L699.1 249.0 L699.4 250.4 L699.7 254.5 L700.1 258.1 L700.4 258.3 L700.7 263.7 L701.1 254.4 L701.4 258.7 L701.7 257.4 L702.1 251.9 L702.4 254.2 L702.7 259.3 L703.1 262.3 L703.4 262.6 L703.7 258.2 L704.1 257.5 L704.4 253.3 L704.8 257.5 L705.1 249.2 L705.4 257.9 L705.8 249.5 L706.1 255.0 L706.4 256.2 L706.8 257.5 L707.1 252.9 L707.4 256.8 L707.8 253.5 L708.1 259.0 L708.4 256.7 L708.8 262.4 L709.1 253.7 L709.4 257.6 L709.8 256.2 L710.1 248.9 L710.4 257.5 L710.8 261.7 L711.1 253.8 L711.4 255.3 L711.8 251.2 L712.1 250.8 L712.4 254.7 L712.8 254.7 L713.1 251.5 L713.4 254.5 L713.8 251.6 L714.1 254.1 L714.4 255.0 L714.8 255.4 L715.1 249.1 L715.4 259.8 L715.8 259.1 L716.1 250.3 L716.4 253.1 L716.8 253.5 L717.1 256.3 L717.4 253.8 L717.8 252.3 L718.1 248.4 L718.4 253.2 L718.8 249.6 L719.1 245.6 L719.4 251.5 L719.8 257.0 L720.1 257.0 L720.4 251.6 L720.8 258.1 L721.1 248.4 L721.4 258.0 L721.8 255.3 L722.1 255.1 L722.4 258.4 L722.8 260.1 L723.1 255.4 L723.4 252.4 L723.8 250.4 L724.1 256.3 L724.4 257.3 L724.8 258.9 L725.1 259.1 L725.4 256.8 L725.8 256.5 L726.1 257.6 L726.4 261.1 L726.8 259.4 L727.1 255.8 L727.4 254.2 L727.8 250.7 L728.1 249.0 L728.4 252.2 L728.8 249.3 L729.1 255.0 L729.4 250.9 L729.8 253.7 L730.1 251.2 L730.4 252.0 L730.8 256.3 L731.1 255.3 L731.4 255.1 L731.8 257.3 L732.1 258.7 L732.4 253.0 L732.8 257.4 L733.1 252.4 L733.4 252.8 L733.8 254.4 L734.1 250.6 L734.4 247.6 L734.8 249.5 L735.1 258.0 L735.4 263.8 L735.8 265.3 L736.1 259.8 L736.4 252.8 L736.8 254.5 L737.1 252.4 L737.4 255.4 L737.8 256.8 L738.1 254.6 L738.4 259.5 L738.8 257.9 L739.1 251.9 L739.4 250.1 L739.8 250.2 L740.1 253.3 L740.4 252.4 L740.8 254.7 L741.1 253.1 L741.4 252.1 L741.8 251.5 L742.1 256.5 L742.4 264.1 L742.8 262.0 L743.1 260.2 L743.4 260.4 L743.8 255.2 L744.1 256.5 L744.4 256.2 L744.8 259.7 L745.1 252.6 L745.4 249.3 L745.8 251.0 L746.1 253.9 L746.4 252.6 L746.8 255.2 L747.1 258.5 L747.4 255.5 L747.8 255.3 L748.1 254.2 L748.4 254.3 L748.8 257.9 L749.1 262.2 L749.4 266.0 L749.8 259.7 L750.1 254.0 L750.4 254.5 L750.8 253.6 L751.1 255.0 L751.4 251.1 L751.8 251.3 L752.1 248.5 L752.4 255.3 L752.8 252.8 L753.1 251.2 L753.4 258.5 L753.8 258.9 L754.1 253.6 L754.4 261.8 L754.8 250.6 L755.1 247.2 L755.4 252.1 L755.8 256.7 L756.1 258.3 L756.4 260.8 L756.8 256.0 L757.1 262.1 L757.4 266.4 L757.8 255.5 L758.1 260.7 L758.4 251.7 L758.8 254.2 L759.1 258.5 L759.4 260.2 L759.8 263.0 L760.1 254.3 L760.4 260.7 L760.8 259.8 L761.1 255.6 L761.4 255.2 L761.8 251.1 L762.1 258.1 L762.4 252.6 L762.8 251.9 L763.1 254.4 L763.4 253.6 L763.8 251.6 L764.1 255.9 L764.4 255.2 L764.8 252.6 L765.1 257.3 L765.4 261.5 L765.8 254.3 L766.1 254.5 L766.4 261.8 L766.8 262.8 L767.1 266.8 L767.4 252.7 L767.8 253.6 L768.1 256.3 L768.5 254.6 L768.8 252.4 L769.1 253.2 L769.5 249.8 L769.8 255.2 L770.1 255.2 L770.5 251.3 L770.8 249.1 L771.1 248.6 L771.5 250.7 L771.8 248.5 L772.1 259.8 L772.5 254.4 L772.8 252.1 L773.1 258.8 L773.5 256.3 L773.8 256.3 L774.1 258.3 L774.5 264.0 L774.8 261.0 L775.1 267.1 L775.5 262.0 L775.8 256.2 L776.1 252.6 L776.5 253.4 L776.8 248.2 L777.1 254.9 L777.5 255.7 L777.8 265.8 L778.1 258.8 L778.5 260.3 L778.8 256.9 L779.1 260.4 L779.5 254.3 L779.8 262.9 L780.1 266.9 L780.5 258.2 L780.8 253.4 L781.1 261.1 L781.5 261.1 L781.8 256.5 L782.1 254.5 L782.5 251.6 L782.8 263.2 L783.1 267.5 L783.5 260.2 L783.8 260.8 L784.1 262.5 L784.5 257.4 L784.8 256.2 L785.1 249.1 L785.5 255.8 L785.8 255.2 L786.1 257.3 L786.5 255.5 L786.8 248.9 L787.1 256.5 L787.5 252.6 L787.8 259.8 L788.1 258.4 L788.5 256.7 L788.8 250.4 L789.1 254.2 L789.5 250.8 L789.8 254.8 L790.1 262.3 L790.5 265.0 L790.8 264.0 L791.1 259.3 L791.5 262.8 L791.8 268.2 L792.1 266.9 L792.5 266.9 L792.8 268.4 L793.1 268.5 L793.5 264.9 L793.8 256.6 L794.1 259.6 L794.5 257.7 L794.8 260.5 L795.1 257.7 L795.5 261.7 L795.8 266.2 L796.1 266.8 L796.5 264.7 L796.8 269.4 L797.1 265.4 L797.5 257.9 L797.8 264.3 L798.1 266.2 L798.5 263.3 L798.8 261.0 L799.1 260.4 L799.5 255.0 L799.8 253.9 L800.1 264.4 L800.5 267.8 L800.8 264.9 L801.1 258.5 L801.5 266.4 L801.8 262.5 L802.1 262.9 L802.5 265.0 L802.8 262.8 L803.1 264.1 L803.5 264.8 L803.8 267.2 L804.1 267.9 L804.5 271.1 L804.8 271.2 L805.1 263.1 L805.5 261.0 L805.8 267.0 L806.1 262.1 L806.5 263.2 L806.8 268.2 L807.1 269.5 L807.5 261.2 L807.8 263.1 L808.1 268.6 L808.5 264.4 L808.8 263.4 L809.1 257.6 L809.5 260.7 L809.8 266.4 L810.1 261.5 L810.5 260.4 L810.8 264.8 L811.1 262.6 L811.5 262.5 L811.8 262.1 L812.1 263.5 L812.5 265.1 L812.8 264.5 L813.1 262.9 L813.5 259.6 L813.8 256.6 L814.1 255.1 L814.5 262.6 L814.8 260.7 L815.1 259.1 L815.5 259.2 L815.8 261.1 L816.1 259.3 L816.5 264.7 L816.8 262.3 L817.1 266.4 L817.5 262.3 L817.8 262.8 L818.1 262.5 L818.5 267.4 L818.8 267.6 L819.1 266.2 L819.5 268.9 L819.8 264.3 L820.1 272.3 L820.5 267.0 L820.8 264.9 L821.1 271.1 L821.5 266.5 L821.8 268.4 L822.1 273.8 L822.5 265.1 L822.8 270.5 L823.1 264.7 L823.5 263.7 L823.8 259.0 L824.1 268.0 L824.5 268.7 L824.8 269.0 L825.1 262.9 L825.5 271.2 L825.8 270.9 L826.1 266.9 L826.5 270.5 L826.8 266.5 L827.1 273.2 L827.5 270.1 L827.8 266.8 L828.1 266.6 L828.5 269.6 L828.8 261.2 L829.1 263.8 L829.5 264.6 L829.8 272.3 L830.1 267.4 L830.5 268.8 L830.8 271.2 L831.1 260.0 L831.5 257.7 L831.8 264.0 L832.1 264.3 L832.5 260.2 L832.8 261.5 L833.2 264.2 L833.5 262.0 L833.8 260.2 L834.2 262.1 L834.5 260.8 L834.8 264.7 L835.2 257.8 L835.5 259.9 L835.8 256.4 L836.2 260.2 L836.5 263.5 L836.8 257.5 L837.2 258.9 L837.5 255.5 L837.8 254.3 L838.2 254.8 L838.5 262.5 L838.8 258.0 L839.2 257.2 L839.5 261.4 L839.8 261.5 L840.2 263.1 L840.5 261.3 L840.8 253.0 L841.2 255.1 L841.5 259.9 L841.8 263.2 L842.2 262.5 L842.5 259.4 L842.8 261.3 L843.2 256.7 L843.5 254.4 L843.8 253.6 L844.2 255.6 L844.5 251.5 L844.8 256.0 L845.2 251.2 L845.5 254.8 L845.8 252.9 L846.2 247.4 L846.5 249.6 L846.8 246.8 L847.2 249.0 L847.5 249.9 L847.8 252.0 L848.2 253.1 L848.5 256.2 L848.8 253.0 L849.2 255.8 L849.5 252.1 L849.8 252.9 L850.2 254.7 L850.5 254.6 L850.8 249.8 L851.2 246.8 L851.5 250.4 L851.8 249.0 L852.2 248.7 L852.5 250.1 L852.8 252.4 L853.2 252.5 L853.5 263.6 L853.8 246.8 L854.2 248.2 L854.5 247.5 L854.8 249.1 L855.2 257.0 L855.5 254.9 L855.8 251.2 L856.2 248.7 L856.5 251.4 L856.8 252.1 L857.2 248.4 L857.5 248.6 L857.8 255.6 L858.2 254.7 L858.5 259.7 L858.8 260.7 L859.2 262.0 L859.5 255.7 L859.8 253.6 L860.2 255.1 L860.5 259.0 L860.8 260.5 L861.2 258.1 L861.5 262.2 L861.8 261.5 L862.2 264.7 L862.5 257.4 L862.8 256.1 L863.2 258.8 L863.5 258.9 L863.8 253.4 L864.2 258.7 L864.5 259.8" stroke="#9467bd"/>
<path d="M159.8 272.4 L160.1 273.2 L160.5 276.6 L160.8 279.9 L161.1 286.0 L161.5 278.8 L161.8 275.1 L162.1 276.3 L162.5 274.3 L162.8 278.3 L163.1 273.0 L163.5 274.2 L163.8 285.7 L164.1 278.6 L164.5 284.3 L164.8 277.6 L165.1 281.5 L165.5 277.9 L165.8 278.6 L166.1 275.4 L166.5 273.5 L166.8 281.7 L167.1 263.7 L167.5 262.3 L167.8 268.6 L168.1 263.2 L168.5 259.1 L168.8 260.8 L169.1 258.2 L169.5 269.0 L169.8 279.0 L170.1 270.0 L170.5 265.8 L170.8 266.1 L171.1 264.8 L171.5 252.5 L171.8 254.0 L172.1 252.4 L172.5 256.7 L172.8 252.7 L173.1 257.3 L173.5 258.3 L173.8 266.6 L174.1 263.7 L174.5 264.3 L174.8 255.4 L175.1 265.0 L175.5 268.6 L175.8 262.6 L176.1 260.6 L176.5 275.7 L176.8 268.4 L177.1 262.2 L177.5 264.6 L177.8 254.7 L178.1 254.3 L178.5 252.4 L178.8 252.4 L179.1 256.8 L179.5 256.2 L179.8 261.7 L180.1 260.1 L180.5 266.1 L180.8 273.3 L181.1 266.1 L181.5 266.7 L181.8 259.6 L182.1 257.6 L182.5 264.3 L182.8 258.3 L183.1 258.9 L183.5 262.5 L183.8 252.4 L184.1 258.5 L184.5 266.0 L184.8 262.0 L185.1 263.8 L185.5 267.6 L185.8 262.4 L186.1 266.2 L186.5 268.0 L186.8 270.3 L187.1 269.8 L187.5 264.6 L187.8 259.9 L188.1 263.1 L188.5 262.9 L188.8 265.8 L189.1 270.2 L189.5 269.0 L189.8 268.0 L190.1 266.4 L190.5 263.5 L190.8 272.9 L191.1 266.1 L191.5 259.1 L191.8 263.2 L192.2 267.5 L192.5 275.7 L192.8 270.3 L193.2 270.3 L193.5 268.0 L193.8 258.5 L194.2 265.9 L194.5 265.8 L194.8 265.2 L195.2 266.2 L195.5 264.4 L195.8 265.3 L196.2 258.0 L196.5 261.3 L196.8 266.0 L197.2 264.9 L197.5 261.9 L197.8 268.4 L198.2 265.4 L198.5 263.5 L198.8 262.2 L199.2 262.0 L199.5 263.2 L199.8 257.2 L200.2 257.6 L200.5 262.0 L200.8 260.6 L201.2 261.4 L201.5 257.7 L201.8 263.5 L202.2 272.4 L202.5 269.6 L202.8 267.0 L203.2 268.2 L203.5 262.4 L203.8 261.7 L204.2 260.9 L204.5 262.9 L204.8 262.9 L205.2 270.5 L205.5 257.9 L205.8 265.2 L206.2 256.4 L206.5 255.2 L206.8 263.1 L207.2 265.0 L207.5 263.9 L207.8 257.0 L208.2 259.7 L208.5 264.6 L208.8 257.1 L209.2 268.2 L209.5 256.2 L209.8 253.1 L210.2 261.9 L210.5 271.2 L210.8 271.7 L211.2 266.2 L211.5 262.0 L211.8 260.5 L212.2 260.4 L212.5 270.6 L212.8 262.6 L213.2 268.5 L213.5 268.3 L213.8 268.4 L214.2 260.7 L214.5 264.7 L214.8 267.2 L215.2 267.7 L215.5 271.4 L215.8 264.2 L216.2 258.8 L216.5 261.6 L216.8 259.9 L217.2 261.9 L217.5 275.7 L217.8 271.7 L218.2 267.6 L218.5 271.3 L218.8 271.8 L219.2 267.1 L219.5 266.6 L219.8 268.6 L220.2 262.8 L220.5 261.2 L220.8 262.8 L221.2 257.9 L221.5 262.6 L221.8 259.1 L222.2 263.0 L222.5 259.2 L222.8 252.4 L223.2 254.3 L223.5 269.5 L223.8 265.6 L224.2 264.1 L224.5 263.9 L224.8 268.3 L225.2 267.9 L225.5 263.7 L225.8 259.1 L226.2 269.4 L226.5 265.0 L226.8 256.7 L227.2 263.5 L227.5 262.7 L227.8 259.6 L228.2 267.7 L228.5 258.2 L228.8 260.1 L229.2 265.3 L229.5 267.7 L229.8 267.1 L230.2 268.7 L230.5 263.5 L230.8 258.9 L231.2 262.1 L231.5 261.9 L231.8 266.1 L232.2 262.3 L232.5 270.6 L232.8 270.9 L233.2 272.0 L233.5 269.1 L233.8 273.8 L234.2 262.0 L234.5 265.2 L234.8 263.0 L235.2 266.9 L235.5 273.6 L235.8 271.0 L236.2 265.2 L236.5 261.0 L236.8 257.8 L237.2 261.1 L237.5 268.7 L237.8 274.9 L238.2 269.6 L238.5 267.2 L238.8 268.2 L239.2 266.0 L239.5 275.7 L239.8 275.7 L240.2 274.9 L240.5 266.6 L240.8 264.1 L241.2 269.1 L241.5 271.8 L241.8 265.1 L242.2 267.3 L242.5 265.8 L242.8 262.8 L243.2 257.1 L243.5 258.0 L243.8 256.2 L244.2 257.6 L244.5 262.1 L244.8 279.1 L245.2 261.5 L245.5 264.7 L245.8 271.7 L246.2 278.1 L246.5 272.6 L246.8 272.3 L247.2 259.5 L247.5 267.8 L247.8 257.7 L248.2 265.7 L248.5 256.6 L248.8 253.5 L249.2 260.0 L249.5 249.5 L249.8 246.7 L250.2 255.4 L250.5 248.6 L250.8 259.9 L251.2 275.2 L251.5 252.0 L251.8 270.1 L252.2 253.8 L252.5 252.8 L252.8 215.9 L253.2 253.5 L253.5 245.1 L253.8 243.1 L254.2 242.2 L254.5 236.8 L254.8 253.9 L255.2 251.0 L255.5 259.2 L255.8 253.2 L256.2 256.3 L256.5 260.8 L256.9 263.6 L257.2 262.4 L257.5 239.3 L257.9 244.9 L258.2 233.9 L258.5 236.2 L258.9 240.6 L259.2 235.7 L259.5 239.9 L259.9 233.4 L260.2 243.0 L260.5 248.0 L260.9 290.2 L261.2 241.6 L261.5 250.8 L261.9 244.0 L262.2 248.8 L262.5 250.8 L262.9 239.9 L263.2 237.4 L263.5 244.7 L263.9 247.4 L264.2 262.2 L264.5 244.8 L264.9 271.6 L265.2 269.7 L265.5 257.7 L265.9 265.2 L266.2 261.2 L266.5 275.3 L266.9 266.9 L267.2 305.5 L267.5 232.1 L267.9 280.0 L268.2 285.7 L268.5 279.1 L268.9 269.0 L269.2 256.1 L269.5 289.4 L269.9 281.2 L270.2 273.9 L270.5 283.5 L270.9 290.3 L271.2 284.4 L271.5 287.7 L271.9 289.6 L272.2 278.0 L272.5 275.5 L272.9 304.6 L273.2 278.7 L273.5 291.0 L273.9 281.1 L274.2 285.7 L274.5 297.4 L274.9 239.9 L275.2 303.0 L275.5 284.4 L275.9 283.9 L276.2 282.8 L276.5 285.3 L276.9 310.2 L277.2 277.1 L277.5 272.6 L277.9 250.9 L278.2 259.6 L278.5 270.5 L278.9 259.3 L279.2 240.7 L279.5 280.0 L279.9 284.7 L280.2 251.3 L280.5 268.1 L280.9 286.7 L281.2 286.1 L281.5 277.0 L281.9 273.0 L282.2 258.5 L282.5 265.5 L282.9 274.4 L283.2 273.2 L283.5 273.7 L283.9 259.1 L284.2 277.3 L284.5 276.8 L284.9 223.6 L285.2 262.1 L285.5 269.2 L285.9 252.0 L286.2 257.9 L286.5 249.8 L286.9 246.1 L287.2 246.9 L287.5 248.8 L287.9 227.2 L288.2 244.1 L288.5 256.8 L288.9 250.7 L289.2 250.4 L289.5 225.9 L289.9 252.3 L290.2 253.4 L290.5 258.7 L290.9 256.5 L291.2 256.6 L291.5 224.4 L291.9 269.5 L292.2 247.6 L292.5 250.7 L292.9 256.7 L293.2 270.0 L293.5 275.5 L293.9 270.3 L294.2 273.7 L294.5 282.2 L294.9 277.2 L295.2 274.1 L295.5 268.2 L295.9 236.4 L296.2 266.1 L296.5 260.8 L296.9 260.3 L297.2 248.1 L297.5 254.0 L297.9 242.9 L298.2 231.4 L298.5 246.6 L298.9 243.9 L299.2 256.6 L299.5 256.8 L299.9 275.3 L300.2 274.9 L300.5 263.7 L300.9 263.3 L301.2 256.8 L301.5 249.1 L301.9 257.8 L302.2 257.0 L302.5 249.9 L302.9 250.4 L303.2 246.5 L303.5 250.5 L303.9 242.0 L304.2 246.9 L304.5 257.7 L304.9 246.8 L305.2 243.1 L305.5 245.7 L305.9 253.3 L306.2 250.5 L306.5 249.9 L306.9 223.6 L307.2 270.7 L307.5 263.6 L307.9 230.0 L308.2 255.3 L308.5 254.3 L308.9 254.4 L309.2 249.9 L309.5 252.7 L309.9 251.3 L310.2 250.3 L310.5 245.3 L310.9 250.0 L311.2 245.5 L311.5 252.4 L311.9 261.9 L312.2 267.3 L312.5 275.7 L312.9 282.5 L313.2 272.6 L313.5 272.4 L313.9 270.1 L314.2 269.2 L314.5 266.0 L314.9 258.2 L315.2 278.6 L315.5 265.3 L315.9 258.5 L316.2 258.7 L316.5 247.5 L316.9 241.4 L317.2 237.6 L317.5 232.7 L317.9 233.4 L318.2 224.0 L318.5 231.3 L318.9 231.1 L319.2 224.5 L319.5 230.1 L319.9 250.1 L320.2 242.9 L320.6 249.8 L320.9 245.5 L321.2 248.2 L321.6 254.0 L321.9 262.6 L322.2 266.5 L322.6 259.1 L322.9 263.8 L323.2 268.4 L323.6 278.3 L323.9 271.5 L324.2 295.7 L324.6 268.2 L324.9 261.3 L325.2 266.4 L325.6 270.5 L325.9 265.0 L326.2 273.5 L326.6 271.1 L326.9 270.6 L327.2 273.8 L327.6 266.5 L327.9 269.3 L328.2 269.1 L328.6 278.3 L328.9 271.9 L329.2 270.4 L329.6 278.5 L329.9 276.5 L330.2 284.4 L330.6 280.1 L330.9 251.0 L331.2 278.3 L331.6 296.2 L331.9 284.7 L332.2 281.0 L332.6 284.9 L332.9 275.1 L333.2 274.3 L333.6 280.8 L333.9 270.8 L334.2 273.7 L334.6 263.8 L334.9 260.5 L335.2 271.9 L335.6 271.3 L335.9 267.3 L336.2 265.9 L336.6 261.8 L336.9 268.9 L337.2 273.4 L337.6 265.7 L337.9 265.5 L338.2 250.7 L338.6 266.7 L338.9 270.3 L339.2 274.5 L339.6 253.9 L339.9 263.4 L340.2 262.0 L340.6 258.0 L340.9 266.2 L341.2 280.8 L341.6 268.6 L341.9 264.8 L342.2 267.6 L342.6 261.9 L342.9 262.8 L343.2 270.6 L343.6 281.6 L343.9 276.1 L344.2 268.6 L344.6 272.7 L344.9 274.0 L345.2 275.0 L345.6 272.4 L345.9 268.7 L346.2 272.7 L346.6 281.6 L346.9 284.5 L347.2 275.5 L347.6 278.9 L347.9 278.6 L348.2 281.2 L348.6 285.3 L348.9 286.0 L349.2 279.8 L349.6 287.2 L349.9 288.8 L350.2 287.3 L350.6 281.5 L350.9 291.6 L351.2 281.4 L351.6 287.5 L351.9 278.2 L352.2 284.3 L352.6 280.6 L352.9 282.2 L353.2 293.7 L353.6 290.5 L353.9 281.0 L354.2 283.3 L354.6 292.8 L354.9 288.2 L355.2 295.2 L355.6 291.0 L355.9 291.7 L356.2 293.3 L356.6 287.2 L356.9 279.4 L357.2 298.5 L357.6 294.1 L357.9 291.7 L358.2 286.3 L358.6 278.3 L358.9 295.3 L359.2 295.2 L359.6 293.2 L359.9 284.2 L360.2 285.8 L360.6 281.1 L360.9 280.0 L361.2 275.8 L361.6 279.7 L361.9 268.2 L362.2 281.7 L362.6 266.4 L362.9 275.8 L363.2 274.7 L363.6 330.5 L363.9 279.6 L364.2 281.1 L364.6 268.7 L364.9 268.3 L365.2 275.0 L365.6 275.7 L365.9 273.5 L366.2 262.5 L366.6 259.3 L366.9 255.2 L367.2 259.9 L367.6 264.8 L367.9 258.9 L368.2 258.6 L368.6 267.2 L368.9 253.8 L369.2 247.5 L369.6 250.0 L369.9 204.4 L370.2 241.2 L370.6 245.7 L370.9 244.6 L371.2 261.8 L371.6 242.1 L371.9 232.5 L372.2 229.7 L372.6 254.3 L372.9 241.0 L373.2 230.4 L373.6 236.5 L373.9 232.3 L374.2 232.6 L374.6 231.2 L374.9 233.3 L375.2 233.7 L375.6 247.2 L375.9 237.4 L376.2 250.5 L376.6 247.9 L376.9 241.1 L377.2 269.5 L377.6 252.7 L377.9 257.8 L378.2 266.1 L378.6 263.8 L378.9 269.6 L379.2 269.6 L379.6 258.5 L379.9 270.9 L380.2 262.8 L380.6 263.3 L380.9 277.0 L381.2 263.7 L381.6 261.3 L381.9 264.0 L382.2 270.0 L382.6 269.9 L382.9 317.0 L383.2 261.0 L383.6 263.1 L383.9 259.0 L384.3 265.6 L384.6 255.3 L384.9 253.4 L385.3 260.3 L385.6 265.0 L385.9 255.0 L386.3 258.3 L386.6 258.2 L386.9 249.3 L387.3 257.8 L387.6 254.5 L387.9 254.4 L388.3 252.0 L388.6 248.2 L388.9 244.7 L389.3 243.8 L389.6 248.3 L389.9 256.4 L390.3 262.3 L390.6 258.7 L390.9 261.9 L391.3 260.9 L391.6 269.8 L391.9 261.0 L392.3 255.7 L392.6 254.0 L392.9 270.6 L393.3 255.1 L393.6 256.2 L393.9 249.5 L394.3 256.2 L394.6 253.6 L394.9 249.2 L395.3 257.6 L395.6 253.7 L395.9 255.1 L396.3 257.7 L396.6 256.3 L396.9 259.0 L397.3 254.2 L397.6 265.9 L397.9 263.4 L398.3 260.7 L398.6 262.0 L398.9 260.6 L399.3 253.7 L399.6 333.4 L399.9 253.6 L400.3 261.1 L400.6 250.4 L400.9 258.8 L401.3 255.1 L401.6 257.4 L401.9 255.5 L402.3 254.1 L402.6 256.4 L402.9 260.4 L403.3 262.4 L403.6 260.6 L403.9 262.6 L404.3 272.2 L404.6 278.0 L404.9 266.3 L405.3 276.6 L405.6 269.0 L405.9 261.9 L406.3 266.6 L406.6 271.8 L406.9 266.4 L407.3 266.8 L407.6 266.4 L407.9 261.9 L408.3 262.7 L408.6 271.7 L408.9 258.9 L409.3 261.3 L409.6 264.0 L409.9 258.0 L410.3 266.2 L410.6 254.6 L410.9 258.2 L411.3 257.9 L411.6 252.8 L411.9 265.1 L412.3 269.3 L412.6 268.3 L412.9 267.3 L413.3 268.7 L413.6 254.4 L413.9 251.6 L414.3 255.8 L414.6 258.9 L414.9 254.8 L415.3 264.2 L415.6 258.7 L415.9 260.7 L416.3 261.2 L416.6 268.2 L416.9 269.7 L417.3 267.8 L417.6 256.3 L417.9 261.2 L418.3 261.7 L418.6 266.4 L418.9 264.3 L419.3 257.6 L419.6 255.3 L419.9 261.8 L420.3 257.5 L420.6 254.7 L420.9 249.5 L421.3 251.8 L421.6 262.5 L421.9 257.8 L422.3 260.3 L422.6 260.1 L422.9 253.3 L423.3 261.6 L423.6 252.2 L423.9 255.4 L424.3 254.8 L424.6 248.9 L424.9 250.0 L425.3 252.4 L425.6 245.2 L425.9 259.9 L426.3 265.1 L426.6 264.1 L426.9 257.9 L427.3 249.7 L427.6 249.7 L427.9 240.7 L428.3 246.3 L428.6 263.7 L428.9 246.2 L429.3 259.1 L429.6 250.0 L429.9 260.4 L430.3 255.5 L430.6 265.0 L430.9 261.7 L431.3 259.8 L431.6 250.9 L431.9 246.4 L432.3 249.7 L432.6 235.2 L432.9 241.4 L433.3 246.0 L433.6 248.6 L433.9 246.2 L434.3 252.7 L434.6 259.0 L434.9 243.4 L435.3 249.0 L435.6 253.5 L435.9 250.9 L436.3 249.1 L436.6 249.6 L436.9 255.0 L437.3 256.3 L437.6 246.8 L437.9 252.1 L438.3 240.8 L438.6 239.8 L438.9 245.1 L439.3 248.9 L439.6 243.2 L439.9 246.2 L440.3 240.8 L440.6 240.5 L440.9 243.0 L441.3 255.4 L441.6 255.6 L441.9 248.2 L442.3 243.2 L442.6 242.1 L442.9 248.3 L443.3 242.3 L443.6 236.1 L443.9 235.3 L444.3 238.8 L444.6 237.7 L444.9 241.5 L445.3 247.2 L445.6 244.6 L445.9 238.8 L446.3 241.1 L446.6 237.7 L446.9 240.5 L447.3 239.8 L447.6 232.7 L447.9 232.1 L448.3 240.9 L448.6 240.6 L449.0 236.2 L449.3 239.3 L449.6 244.2 L450.0 293.9 L450.3 255.4 L450.6 242.6 L451.0 238.9 L451.3 240.4 L451.6 242.4 L452.0 238.7 L452.3 242.2 L452.6 236.1 L453.0 234.9 L453.3 238.6 L453.6 239.8 L454.0 249.2 L454.3 241.2 L454.6 255.0 L455.0 251.4 L455.3 255.3 L455.6 246.7 L456.0 255.3 L456.3 252.0 L456.6 241.8 L457.0 247.0 L457.3 235.2 L457.6 234.5 L458.0 234.0 L458.3 240.5 L458.6 239.5 L459.0 244.9 L459.3 241.0 L459.6 247.4 L460.0 240.7 L460.3 244.0 L460.6 238.8 L461.0 238.9 L461.3 243.6 L461.6 246.6 L462.0 241.3 L462.3 238.4 L462.6 254.1 L463.0 251.0 L463.3 247.3 L463.6 253.0 L464.0 245.7 L464.3 242.7 L464.6 243.7 L465.0 244.6 L465.3 238.4 L465.6 232.1 L466.0 231.5 L466.3 242.9 L466.6 245.6 L467.0 248.7 L467.3 249.7 L467.6 246.0 L468.0 234.6 L468.3 236.2 L468.6 253.7 L469.0 243.9 L469.3 242.0 L469.6 240.8 L470.0 250.9 L470.3 246.3 L470.6 242.8 L471.0 247.6 L471.3 241.4 L471.6 240.0 L472.0 238.4 L472.3 247.5 L472.6 246.3 L473.0 249.8 L473.3 244.9 L473.6 245.1 L474.0 245.1 L474.3 246.1 L474.6 240.8 L475.0 249.2 L475.3 240.0 L475.6 235.9 L476.0 237.3 L476.3 246.8 L476.6 246.6 L477.0 245.9 L477.3 239.2 L477.6 239.3 L478.0 236.8 L478.3 241.5 L478.6 235.0 L479.0 236.3 L479.3 234.0 L479.6 241.6 L480.0 244.5 L480.3 243.5 L480.6 248.7 L481.0 247.7 L481.3 243.1 L481.6 238.0 L482.0 238.2 L482.3 235.5 L482.6 237.7 L483.0 238.2 L483.3 251.2 L483.6 248.5 L484.0 242.9 L484.3 241.9 L484.6 244.6 L485.0 241.5 L485.3 244.0 L485.6 246.1 L486.0 245.9 L486.3 245.5 L486.6 248.2 L487.0 248.1 L487.3 236.7 L487.6 248.7 L488.0 245.3 L488.3 240.2 L488.6 244.6 L489.0 250.1 L489.3 253.2 L489.6 252.2 L490.0 242.8 L490.3 236.6 L490.6 238.7 L491.0 237.7 L491.3 243.3 L491.6 240.3 L492.0 250.1 L492.3 242.1 L492.6 243.0 L493.0 239.6 L493.3 239.4 L493.6 242.2 L494.0 252.3 L494.3 244.7 L494.6 240.8 L495.0 240.4 L495.3 238.9 L495.6 235.6 L496.0 240.9 L496.3 244.1 L496.6 248.3 L497.0 244.4 L497.3 242.6 L497.6 243.3 L498.0 241.6 L498.3 234.9 L498.6 241.3 L499.0 237.4 L499.3 243.8 L499.6 243.2 L500.0 245.0 L500.3 252.6 L500.6 254.6 L501.0 242.5 L501.3 244.9 L501.6 242.0 L502.0 230.5 L502.3 237.6 L502.6 247.7 L503.0 241.5 L503.3 248.0 L503.6 250.2 L504.0 244.3 L504.3 238.1 L504.6 234.6 L505.0 235.9 L505.3 245.8 L505.6 254.6 L506.0 254.6 L506.3 254.6 L506.6 246.5 L507.0 246.9 L507.3 249.9 L507.6 247.8 L508.0 243.7 L508.3 237.2 L508.6 236.8 L509.0 240.5 L509.3 241.9 L509.6 242.4 L510.0 235.7 L510.3 233.5 L510.6 247.9 L511.0 247.5 L511.3 244.4 L511.6 245.1 L512.0 248.2 L512.3 245.7 L512.7 248.8 L513.0 238.6 L513.3 247.6 L513.7 240.6 L514.0 241.5 L514.3 243.7 L514.7 239.1 L515.0 241.6 L515.3 252.3 L515.7 248.6 L516.0 249.6 L516.3 243.2 L516.7 237.7 L517.0 235.2 L517.3 244.9 L517.7 241.8 L518.0 240.1 L518.3 234.5 L518.7 241.4 L519.0 239.7 L519.3 241.7 L519.7 237.4 L520.0 243.0 L520.3 242.4 L520.7 239.3 L521.0 245.1 L521.3 242.8 L521.7 235.4 L522.0 241.3 L522.3 246.3 L522.7 246.4 L523.0 247.9 L523.3 249.1 L523.7 245.9 L524.0 247.5 L524.3 246.5 L524.7 254.6 L525.0 250.4 L525.3 240.7 L525.7 241.9 L526.0 246.5 L526.3 239.6 L526.7 246.8 L527.0 244.8 L527.3 247.7 L527.7 244.4 L528.0 243.1 L528.3 236.2 L528.7 245.1 L529.0 250.0 L529.3 245.8 L529.7 244.5 L530.0 244.5 L530.3 241.5 L530.7 241.3 L531.0 248.6 L531.3 240.0 L531.7 234.9 L532.0 239.9 L532.3 246.3 L532.7 245.0 L533.0 251.2 L533.3 254.6 L533.7 250.8 L534.0 247.5 L534.3 240.5 L534.7 251.3 L535.0 238.2 L535.3 250.8 L535.7 246.6 L536.0 239.1 L536.3 229.3 L536.7 232.1 L537.0 244.2 L537.3 234.6 L537.7 237.4 L538.0 250.5 L538.3 239.5 L538.7 245.2 L539.0 247.8 L539.3 243.3 L539.7 242.6 L540.0 236.4 L540.3 229.6 L540.7 240.0 L541.0 240.1 L541.3 235.3 L541.7 237.6 L542.0 236.4 L542.3 240.6 L542.7 243.7 L543.0 239.8 L543.3 239.9 L543.7 241.3 L544.0 236.3 L544.3 233.7 L544.7 233.7 L545.0 237.3 L545.3 242.1 L545.7 235.2 L546.0 248.3 L546.3 241.6 L546.7 231.5 L547.0 236.1 L547.3 242.0 L547.7 234.0 L548.0 234.5 L548.3 230.1 L548.7 242.3 L549.0 248.9 L549.3 244.7 L549.7 240.3 L550.0 233.6 L550.3 236.2 L550.7 231.1 L551.0 235.5 L551.3 246.0 L551.7 247.8 L552.0 248.2 L552.3 241.5 L552.7 247.0 L553.0 242.8 L553.3 255.2 L553.7 246.7 L554.0 252.0 L554.3 245.6 L554.7 247.9 L555.0 247.2 L555.3 234.6 L555.7 242.2 L556.0 241.7 L556.3 241.8 L556.7 241.3 L557.0 242.2 L557.3 247.5 L557.7 241.7 L558.0 245.7 L558.3 248.0 L558.7 256.1 L559.0 244.4 L559.3 243.0 L559.7 251.5 L560.0 249.1 L560.3 241.6 L560.7 246.9 L561.0 253.5 L561.3 252.5 L561.7 254.5 L562.0 246.6 L562.3 243.8 L562.7 242.7 L563.0 246.2 L563.3 254.3 L563.7 252.9 L564.0 250.7 L564.3 243.1 L564.7 237.7 L565.0 236.3 L565.3 248.5 L565.7 235.9 L566.0 233.8 L566.3 236.1 L566.7 250.6 L567.0 251.7 L567.3 252.3 L567.7 247.3 L568.0 246.0 L568.3 246.2 L568.7 243.2 L569.0 240.9 L569.3 233.2 L569.7 231.4 L570.0 238.8 L570.3 253.8 L570.7 245.3 L571.0 251.0 L571.3 235.8 L571.7 237.7 L572.0 240.9 L572.3 233.7 L572.7 239.9 L573.0 245.8 L573.3 238.9 L573.7 245.1 L574.0 243.5 L574.3 252.1 L574.7 240.8 L575.0 238.0 L575.3 239.4 L575.7 238.2 L576.0 240.8 L576.4 241.2 L576.7 242.2 L577.0 236.1 L577.4 236.8 L577.7 244.7 L578.0 243.7 L578.4 245.8 L578.7 234.8 L579.0 236.1 L579.4 236.8 L579.7 233.2 L580.0 238.3 L580.4 241.6 L580.7 246.6 L581.0 242.6 L581.4 247.7 L581.7 247.3 L582.0 249.3 L582.4 238.6 L582.7 245.4 L583.0 243.4 L583.4 246.3 L583.7 244.0 L584.0 239.9 L584.4 243.6 L584.7 238.4 L585.0 241.1 L585.4 242.0 L585.7 244.4 L586.0 243.0 L586.4 254.4 L586.7 250.0 L587.0 249.9 L587.4 248.0 L587.7 245.7 L588.0 241.3 L588.4 249.3 L588.7 248.2 L589.0 247.0 L589.4 253.3 L589.7 254.3 L590.0 253.2 L590.4 252.2 L590.7 255.5 L591.0 255.3 L591.4 264.6 L591.7 260.7 L592.0 249.4 L592.4 257.5 L592.7 258.8 L593.0 255.3 L593.4 265.9 L593.7 258.7 L594.0 251.7 L594.4 259.5 L594.7 262.5 L595.0 266.9 L595.4 256.7 L595.7 249.7 L596.0 256.9 L596.4 256.1 L596.7 258.5 L597.0 258.2 L597.4 264.1 L597.7 260.4 L598.0 243.4 L598.4 250.5 L598.7 264.9 L599.0 259.8 L599.4 249.3 L599.7 251.5 L600.0 260.8 L600.4 256.7 L600.7 244.6 L601.0 253.4 L601.4 250.7 L601.7 254.6 L602.0 248.6 L602.4 253.9 L602.7 251.9 L603.0 258.0 L603.4 257.2 L603.7 261.1 L604.0 252.1 L604.4 251.4 L604.7 259.9 L605.0 253.7 L605.4 251.1 L605.7 257.0 L606.0 256.4 L606.4 252.4 L606.7 258.2 L607.0 260.2 L607.4 256.9 L607.7 261.7 L608.0 264.0 L608.4 261.7 L608.7 254.3 L609.0 254.6 L609.4 259.2 L609.7 257.6 L610.0 247.7 L610.4 251.3 L610.7 254.9 L611.0 260.8 L611.4 263.5 L611.7 254.7 L612.0 263.1 L612.4 260.8 L612.7 258.0 L613.0 270.0 L613.4 269.6 L613.7 252.7 L614.0 254.2 L614.4 252.6 L614.7 256.3 L615.0 256.3 L615.4 257.6 L615.7 267.0 L616.0 259.8 L616.4 263.6 L616.7 261.6 L617.0 262.6 L617.4 254.2 L617.7 256.0 L618.0 257.3 L618.4 252.8 L618.7 263.7 L619.0 255.0 L619.4 260.8 L619.7 258.3 L620.0 258.4 L620.4 262.8 L620.7 266.0 L621.0 263.4 L621.4 246.1 L621.7 252.6 L622.0 245.1 L622.4 256.7 L622.7 252.7 L623.0 257.9 L623.4 258.6 L623.7 261.6 L624.0 263.8 L624.4 263.7 L624.7 258.6 L625.0 263.3 L625.4 267.6 L625.7 262.5 L626.0 264.0 L626.4 258.8 L626.7 259.4 L627.0 265.1 L627.4 269.2 L627.7 264.6 L628.0 258.9 L628.4 256.8 L628.7 258.5 L629.0 255.0 L629.4 253.9 L629.7 247.2 L630.0 252.2 L630.4 246.3 L630.7 256.3 L631.0 252.2 L631.4 244.6 L631.7 253.7 L632.0 254.3 L632.4 252.9 L632.7 261.5 L633.0 264.6 L633.4 261.5 L633.7 260.1 L634.0 263.0 L634.4 252.4 L634.7 257.8 L635.0 259.8 L635.4 260.3 L635.7 246.9 L636.0 245.8 L636.4 247.2 L636.7 246.9 L637.0 255.0 L637.4 253.1 L637.7 252.3 L638.0 253.0 L638.4 250.7 L638.7 255.7 L639.0 263.4 L639.4 251.3 L639.7 249.2 L640.0 244.6 L640.4 245.7 L640.7 252.0 L641.1 255.9 L641.4 254.1 L641.7 258.3 L642.1 253.0 L642.4 246.9 L642.7 247.6 L643.1 249.1 L643.4 255.8 L643.7 256.3 L644.1 245.4 L644.4 262.1 L644.7 259.3 L645.1 258.3 L645.4 256.8 L645.7 264.1 L646.1 265.2 L646.4 260.1 L646.7 245.8 L647.1 249.0 L647.4 255.1 L647.7 263.4 L648.1 255.9 L648.4 248.9 L648.7 252.1 L649.1 257.8 L649.4 254.5 L649.7 255.4 L650.1 252.0 L650.4 266.0 L650.7 248.8 L651.1 268.8 L651.4 263.5 L651.7 257.5 L652.1 246.4 L652.4 252.1 L652.7 247.8 L653.1 252.3 L653.4 253.2 L653.7 254.4 L654.1 247.5 L654.4 255.6 L654.7 254.7 L655.1 264.2 L655.4 256.8 L655.7 262.7 L656.1 258.4 L656.4 258.8 L656.7 251.5 L657.1 247.8 L657.4 250.9 L657.7 251.2 L658.1 252.6 L658.4 257.5 L658.7 256.0 L659.1 256.3 L659.4 247.5 L659.7 252.5 L660.1 253.8 L660.4 257.9 L660.7 255.9 L661.1 263.8 L661.4 263.6 L661.7 258.0 L662.1 260.7 L662.4 263.4 L662.7 264.0 L663.1 266.3 L663.4 269.9 L663.7 263.1 L664.1 260.4 L664.4 261.6 L664.7 272.2 L665.1 256.6 L665.4 260.5 L665.7 265.5 L666.1 267.2 L666.4 265.6 L666.7 262.9 L667.1 261.2 L667.4 249.9 L667.7 259.2 L668.1 262.0 L668.4 264.7 L668.7 259.8 L669.1 327.6 L669.4 259.6 L669.7 251.3 L670.1 250.8 L670.4 261.5 L670.7 251.6 L671.1 260.9 L671.4 261.3 L671.7 271.1 L672.1 263.0 L672.4 263.3 L672.7 259.0 L673.1 272.1 L673.4 265.7 L673.7 270.9 L674.1 338.2 L674.4 248.9 L674.7 255.3 L675.1 253.6 L675.4 249.6 L675.7 244.2 L676.1 243.0 L676.4 256.2 L676.7 249.3 L677.1 254.7 L677.4 243.1 L677.7 255.2 L678.1 257.1 L678.4 278.6 L678.7 263.0 L679.1 313.1 L679.4 251.3 L679.7 251.9 L680.1 246.2 L680.4 254.4 L680.7 249.7 L681.1 251.9 L681.4 249.5 L681.7 254.0 L682.1 248.4 L682.4 245.9 L682.7 255.4 L683.1 247.0 L683.4 260.7 L683.7 257.3 L684.1 250.7 L684.4 254.4 L684.7 268.1 L685.1 260.3 L685.4 262.2 L685.7 253.6 L686.1 260.2 L686.4 262.9 L686.7 261.4 L687.1 263.2 L687.4 264.5 L687.7 263.9 L688.1 252.3 L688.4 262.9 L688.7 264.8 L689.1 274.8 L689.4 261.8 L689.7 263.2 L690.1 266.1 L690.4 257.9 L690.7 261.2 L691.1 255.9 L691.4 252.4 L691.7 251.1 L692.1 270.8 L692.4 257.5 L692.7 261.7 L693.1 263.0 L693.4 257.5 L693.7 258.4 L694.1 260.4 L694.4 265.7 L694.7 260.3 L695.1 257.0 L695.4 260.6 L695.7 252.8 L696.1 326.6 L696.4 278.8 L696.7 278.6 L697.1 269.9 L697.4 263.7 L697.7 270.1 L698.1 254.5 L698.4 257.3 L698.7 254.7 L699.1 262.8 L699.4 256.7 L699.7 197.6 L700.1 254.8 L700.4 257.8 L700.7 255.0 L701.1 325.6 L701.4 250.3 L701.7 251.8 L702.1 252.2 L702.4 256.0 L702.7 259.2 L703.1 253.0 L703.4 253.3 L703.7 252.9 L704.1 256.7 L704.4 259.8 L704.8 260.8 L705.1 269.3 L705.4 275.3 L705.8 264.7 L706.1 253.4 L706.4 251.2 L706.8 251.3 L707.1 259.2 L707.4 266.1 L707.8 255.5 L708.1 245.6 L708.4 248.1 L708.8 251.1 L709.1 258.6 L709.4 265.9 L709.8 269.1 L710.1 263.0 L710.4 260.1 L710.8 252.9 L711.1 260.9 L711.4 258.0 L711.8 257.4 L712.1 257.4 L712.4 252.7 L712.8 251.7 L713.1 251.4 L713.4 257.6 L713.8 258.1 L714.1 261.4 L714.4 275.9 L714.8 272.9 L715.1 266.7 L715.4 268.3 L715.8 264.0 L716.1 267.7 L716.4 256.9 L716.8 252.8 L717.1 262.2 L717.4 265.0 L717.8 269.0 L718.1 271.5 L718.4 265.7 L718.8 253.0 L719.1 259.7 L719.4 260.7 L719.8 266.0 L720.1 265.2 L720.4 271.9 L720.8 264.0 L721.1 256.3 L721.4 254.7 L721.8 250.5 L722.1 255.4 L722.4 261.0 L722.8 263.8 L723.1 261.1 L723.4 274.9 L723.8 266.5 L724.1 262.1 L724.4 266.7 L724.8 266.5 L725.1 271.5 L725.4 264.5 L725.8 266.3 L726.1 263.5 L726.4 265.7 L726.8 262.5 L727.1 262.9 L727.4 255.4 L727.8 259.4 L728.1 267.5 L728.4 258.9 L728.8 267.8 L729.1 268.6 L729.4 265.2 L729.8 267.1 L730.1 261.8 L730.4 261.2 L730.8 268.5 L731.1 270.8 L731.4 269.5 L731.8 263.1 L732.1 265.7 L732.4 270.2 L732.8 266.6 L733.1 268.4 L733.4 258.3 L733.8 269.6 L734.1 269.4 L734.4 263.3 L734.8 264.0 L735.1 276.8 L735.4 266.5 L735.8 269.9 L736.1 267.3 L736.4 265.2 L736.8 261.6 L737.1 268.5 L737.4 265.7 L737.8 264.9 L738.1 262.8 L738.4 263.7 L738.8 258.4 L739.1 269.5 L739.4 276.8 L739.8 274.5 L740.1 271.8 L740.4 267.5 L740.8 267.6 L741.1 264.8 L741.4 261.8 L741.8 264.2 L742.1 270.6 L742.4 264.9 L742.8 267.9 L743.1 274.0 L743.4 264.8 L743.8 275.7 L744.1 263.8 L744.4 270.4 L744.8 269.9 L745.1 262.0 L745.4 257.0 L745.8 251.3 L746.1 254.6 L746.4 255.0 L746.8 260.5 L747.1 262.3 L747.4 263.4 L747.8 265.0 L748.1 251.9 L748.4 256.9 L748.8 268.8 L749.1 276.8 L749.4 276.8 L749.8 260.8 L750.1 259.4 L750.4 254.3 L750.8 264.7 L751.1 267.8 L751.4 261.6 L751.8 262.8 L752.1 256.0 L752.4 262.1 L752.8 257.0 L753.1 261.4 L753.4 262.1 L753.8 266.3 L754.1 257.1 L754.4 262.6 L754.8 265.9 L755.1 268.8 L755.4 261.4 L755.8 275.5 L756.1 268.1 L756.4 262.8 L756.8 266.0 L757.1 269.4 L757.4 261.5 L757.8 262.4 L758.1 268.3 L758.4 260.8 L758.8 262.0 L759.1 268.5 L759.4 263.7 L759.8 266.2 L760.1 271.3 L760.4 264.9 L760.8 256.8 L761.1 268.5 L761.4 267.5 L761.8 266.0 L762.1 262.4 L762.4 258.3 L762.8 259.2 L763.1 258.5 L763.4 261.9 L763.8 263.9 L764.1 262.4 L764.4 261.5 L764.8 264.6 L765.1 253.7 L765.4 261.4 L765.8 262.4 L766.1 275.1 L766.4 260.1 L766.8 262.3 L767.1 262.6 L767.4 263.5 L767.8 256.3 L768.1 263.5 L768.5 271.9 L768.8 264.4 L769.1 263.8 L769.5 265.1 L769.8 266.0 L770.1 262.4 L770.5 256.5 L770.8 261.9 L771.1 263.4 L771.5 264.2 L771.8 258.4 L772.1 255.3 L772.5 258.6 L772.8 268.2 L773.1 273.4 L773.5 274.8 L773.8 273.3 L774.1 265.2 L774.5 272.1 L774.8 270.4 L775.1 276.8 L775.5 272.6 L775.8 270.5 L776.1 262.8 L776.5 257.5 L776.8 266.2 L777.1 264.3 L777.5 261.7 L777.8 262.2 L778.1 258.6 L778.5 265.7 L778.8 257.9 L779.1 264.8 L779.5 265.0 L779.8 263.8 L780.1 260.6 L780.5 255.2 L780.8 261.7 L781.1 265.6 L781.5 261.5 L781.8 258.1 L782.1 271.0 L782.5 276.8 L782.8 273.8 L783.1 262.7 L783.5 261.7 L783.8 261.2 L784.1 261.8 L784.5 265.9 L784.8 266.0 L785.1 267.8 L785.5 263.8 L785.8 259.1 L786.1 262.2 L786.5 254.3 L786.8 260.2 L787.1 256.1 L787.5 272.2 L787.8 265.8 L788.1 265.7 L788.5 263.2 L788.8 261.9 L789.1 254.7 L789.5 260.1 L789.8 262.9 L790.1 263.2 L790.5 261.7 L790.8 269.8 L791.1 268.9 L791.5 268.9 L791.8 269.1 L792.1 264.9 L792.5 256.0 L792.8 263.4 L793.1 267.1 L793.5 262.3 L793.8 253.4 L794.1 262.8 L794.5 265.6 L794.8 263.3 L795.1 256.9 L795.5 258.4 L795.8 265.8 L796.1 268.4 L796.5 271.8 L796.8 268.8 L797.1 261.5 L797.5 268.9 L797.8 270.5 L798.1 260.1 L798.5 264.2 L798.8 264.7 L799.1 257.4 L799.5 255.7 L799.8 263.1 L800.1 264.5 L800.5 268.3 L800.8 262.9 L801.1 256.3 L801.5 258.0 L801.8 258.1 L802.1 267.0 L802.5 271.7 L802.8 268.7 L803.1 274.2 L803.5 261.2 L803.8 262.9 L804.1 270.8 L804.5 265.2 L804.8 269.2 L805.1 267.8 L805.5 258.9 L805.8 261.0 L806.1 262.7 L806.5 272.0 L806.8 269.1 L807.1 269.8 L807.5 264.4 L807.8 270.0 L808.1 258.3 L808.5 264.2 L808.8 258.3 L809.1 255.8 L809.5 266.4 L809.8 265.5 L810.1 264.4 L810.5 276.8 L810.8 269.1 L811.1 258.7 L811.5 262.5 L811.8 269.6 L812.1 269.1 L812.5 265.3 L812.8 259.0 L813.1 262.5 L813.5 262.5 L813.8 273.5 L814.1 268.8 L814.5 261.7 L814.8 271.0 L815.1 271.7 L815.5 263.4 L815.8 272.5 L816.1 276.8 L816.5 264.5 L816.8 276.8 L817.1 265.0 L817.5 274.0 L817.8 260.0 L818.1 256.2 L818.5 258.3 L818.8 261.8 L819.1 256.5 L819.5 262.0 L819.8 251.3 L820.1 257.4 L820.5 255.7 L820.8 262.0 L821.1 264.4 L821.5 264.0 L821.8 264.7 L822.1 261.8 L822.5 263.8 L822.8 266.4 L823.1 268.9 L823.5 264.0 L823.8 261.2 L824.1 263.9 L824.5 263.4 L824.8 273.0 L825.1 264.0 L825.5 251.3 L825.8 251.3 L826.1 251.3 L826.5 256.3 L826.8 261.3 L827.1 258.4 L827.5 259.3 L827.8 259.3 L828.1 264.4 L828.5 267.2 L828.8 260.3 L829.1 266.5 L829.5 273.1 L829.8 267.6 L830.1 256.4 L830.5 269.8 L830.8 269.8 L831.1 260.5 L831.5 255.1 L831.8 252.1 L832.1 255.7 L832.5 266.5 L832.8 262.6 L833.2 269.1 L833.5 260.0 L833.8 258.4 L834.2 255.9 L834.5 261.2 L834.8 260.7 L835.2 261.7 L835.5 260.3 L835.8 255.1 L836.2 252.3 L836.5 255.5 L836.8 240.9 L837.2 246.9 L837.5 254.6 L837.8 256.3 L838.2 248.6 L838.5 246.6 L838.8 243.0 L839.2 251.3 L839.5 249.2 L839.8 246.6 L840.2 251.3 L840.5 245.2 L840.8 249.0 L841.2 251.8 L841.5 250.7 L841.8 244.8 L842.2 246.0 L842.5 240.6 L842.8 243.9 L843.2 245.0 L843.5 252.7 L843.8 258.1 L844.2 250.9 L844.5 245.4 L844.8 252.5 L845.2 246.5 L845.5 242.0 L845.8 244.1 L846.2 249.3 L846.5 248.3 L846.8 250.5 L847.2 251.6 L847.5 251.7 L847.8 253.9 L848.2 255.8 L848.5 256.8 L848.8 252.1 L849.2 253.5 L849.5 249.1 L849.8 255.1 L850.2 252.9 L850.5 245.6 L850.8 247.6 L851.2 258.8 L851.5 256.0 L851.8 252.9 L852.2 257.1 L852.5 248.1 L852.8 242.8 L853.2 242.9 L853.5 249.5 L853.8 246.5 L854.2 246.8 L854.5 250.7 L854.8 253.5 L855.2 248.4 L855.5 246.6 L855.8 257.3 L856.2 245.5 L856.5 242.4 L856.8 248.4 L857.2 241.3 L857.5 242.8 L857.8 244.2 L858.2 251.0 L858.5 239.8 L858.8 247.1 L859.2 240.6 L859.5 240.7 L859.8 244.3 L860.2 246.3 L860.5 247.5 L860.8 256.6 L861.2 254.7 L861.5 256.1 L861.8 256.2 L862.2 251.8 L862.5 244.5 L862.8 252.3 L863.2 251.8 L863.5 247.0 L863.8 247.5 L864.2 248.9 L864.5 250.9" stroke="#8c564b"/>
</g>
<g stroke="#000" stroke-width="1.11" fill="none"><line x1="125.5" y1="59.95" x2="125.5" y2="446.05"/><line x1="900.5" y1="59.95" x2="900.5" y2="446.05"/><line x1="124.95" y1="60.5" x2="901.05" y2="60.5"/><line x1="124.95" y1="445.5" x2="901.05" y2="445.5"/></g>
<g stroke="#000" stroke-width="1.11"><line x1="233.5" y1="445.5" x2="233.5" y2="450.6" /><line x1="370.5" y1="445.5" x2="370.5" y2="450.6" /><line x1="508.5" y1="445.5" x2="508.5" y2="450.6" /><line x1="645.5" y1="445.5" x2="645.5" y2="450.6" /><line x1="783.5" y1="445.5" x2="783.5" y2="450.6" /><line x1="120.1" y1="60.5" x2="125.5" y2="60.5" /><line x1="120.1" y1="108.5" x2="125.5" y2="108.5" /><line x1="120.1" y1="156.5" x2="125.5" y2="156.5" /><line x1="120.1" y1="204.5" x2="125.5" y2="204.5" /><line x1="120.1" y1="253.5" x2="125.5" y2="253.5" /><line x1="120.1" y1="301.5" x2="125.5" y2="301.5" /><line x1="120.1" y1="349.5" x2="125.5" y2="349.5" /><line x1="120.1" y1="397.5" x2="125.5" y2="397.5" /><line x1="120.1" y1="445.5" x2="125.5" y2="445.5" /></g>
<text x="208.8" y="465.6" font-size="13.9" textLength="50.6" lengthAdjust="spacingAndGlyphs">152500</text><text x="345.8" y="465.6" font-size="13.9" textLength="50.6" lengthAdjust="spacingAndGlyphs">153000</text><text x="483.8" y="465.6" font-size="13.9" textLength="50.6" lengthAdjust="spacingAndGlyphs">153500</text><text x="620.8" y="465.6" font-size="13.9" textLength="50.6" lengthAdjust="spacingAndGlyphs">154000</text><text x="758.8" y="465.6" font-size="13.9" textLength="50.6" lengthAdjust="spacingAndGlyphs">154500</text><text x="98.6" y="65.60" font-size="13.9" textLength="16.5" lengthAdjust="spacingAndGlyphs">20</text><text x="99.3" y="113.60" font-size="13.9" textLength="15" lengthAdjust="spacingAndGlyphs">15</text><text x="99.3" y="161.60" font-size="13.9" textLength="15" lengthAdjust="spacingAndGlyphs">10</text><text x="107.3" y="209.60" font-size="13.9" textLength="7.8" lengthAdjust="spacingAndGlyphs">5</text><text x="107.3" y="257.60" font-size="13.9" textLength="7.8" lengthAdjust="spacingAndGlyphs">0</text><text x="95.5" y="305.60" font-size="13.9" textLength="19" lengthAdjust="spacingAndGlyphs">−5</text><text x="86.5" y="353.60" font-size="13.9" textLength="27.5" lengthAdjust="spacingAndGlyphs">−10</text><text x="86.5" y="401.60" font-size="13.9" textLength="27.5" lengthAdjust="spacingAndGlyphs">−15</text><text x="87.0" y="449.60" font-size="13.9" textLength="27.5" lengthAdjust="spacingAndGlyphs">−20</text><text x="309.2" y="51.7" font-size="17.4" textLength="408.6" lengthAdjust="spacingAndGlyphs">./results/BX_all_1-EB95_all_1 BeiDou L5-E5A(I+Q)</text><text x="484" y="486.3" font-size="13.9" textLength="54.6" lengthAdjust="spacingAndGlyphs">Time (s)</text><text transform="translate(76.1,302.2) rotate(-90)" x="0" y="0" font-size="13.9" textLength="97.8" lengthAdjust="spacingAndGlyphs">CNoDiff dB Hz</text>
<rect x="922.9" y="74.9" width="100" height="129" rx="2.8" ry="2.8" fill="#ffffff" fill-opacity="0.8" stroke="#cccccc" stroke-width="1.1"/><line x1="927" y1="86.50" x2="956" y2="86.50" stroke="#1f77b4" stroke-width="0.7"/><text x="967.1" y="90.40" font-size="13.9" textLength="29.6" lengthAdjust="spacingAndGlyphs">20.0</text><line x1="927" y1="107.50" x2="956" y2="107.50" stroke="#ff7f0e" stroke-width="0.7"/><text x="967.1" y="111.40" font-size="13.9" textLength="29.6" lengthAdjust="spacingAndGlyphs">27.0</text><line x1="927" y1="127.50" x2="956" y2="127.50" stroke="#2ca02c" stroke-width="0.7"/><text x="967.1" y="132.40" font-size="13.9" textLength="29.6" lengthAdjust="spacingAndGlyphs">29.0</text><line x1="927" y1="148.50" x2="956" y2="148.50" stroke="#d62728" stroke-width="0.7"/><text x="967.1" y="153.40" font-size="13.9" textLength="29.6" lengthAdjust="spacingAndGlyphs">30.0</text><line x1="927" y1="169.50" x2="956" y2="169.50" stroke="#9467bd" stroke-width="0.7"/><text x="967.1" y="174.40" font-size="13.9" textLength="29.6" lengthAdjust="spacingAndGlyphs">32.0</text><line x1="927" y1="190.50" x2="956" y2="190.50" stroke="#8c564b" stroke-width="0.7"/><text x="967.1" y="195.40" font-size="13.9" textLength="29.6" lengthAdjust="spacingAndGlyphs">41.0</text>
</svg>
</body></html>
